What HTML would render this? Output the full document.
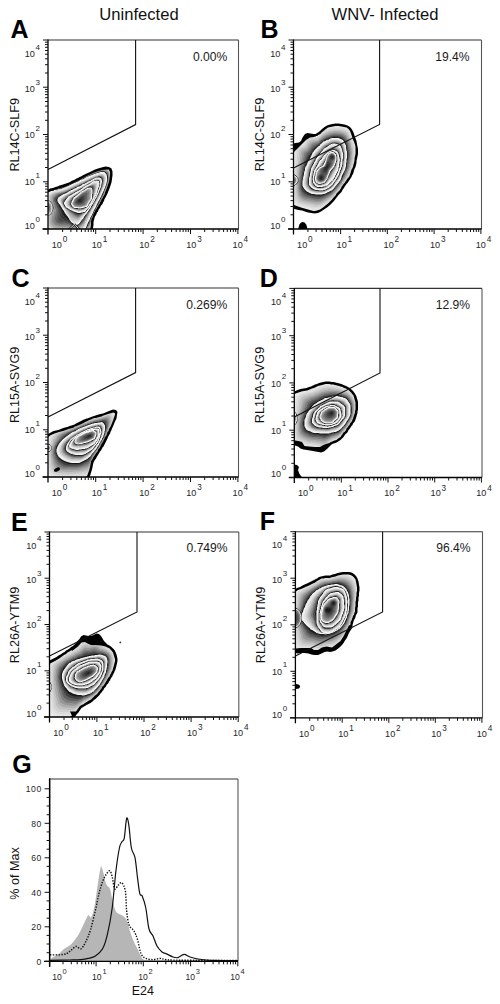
<!DOCTYPE html>
<html><head><meta charset="utf-8"><style>
html,body{margin:0;padding:0;background:#fff;}
svg{display:block;font-family:"Liberation Sans", sans-serif;}
</style></head><body>
<svg width="500" height="1004" viewBox="0 0 500 1004">
<defs>
<filter id="bl" x="-10%" y="-10%" width="120%" height="120%"><feGaussianBlur stdDeviation="1.5"/></filter>
<radialGradient id="shade"><stop offset="0" stop-color="#000" stop-opacity=".45"/><stop offset="1" stop-color="#000" stop-opacity="0"/></radialGradient>
<radialGradient id="spot"><stop offset="0" stop-color="#000" stop-opacity=".8"/><stop offset=".5" stop-color="#000" stop-opacity=".45"/><stop offset="1" stop-color="#000" stop-opacity="0"/></radialGradient>
<clipPath id="pc1"><rect x="48" y="40" width="190.5" height="189"/></clipPath>
<clipPath id="lc2"><path transform="scale(.5)" d="M207 392 209 389 210 385 212 380 214 375 216 369 218 363 219 357 220 350 220 344 219 342 218 340 217 339 204 340 198 342 191 344 186 346 180 349 176 351 172 353 168 355 164 357 161 359 158 360 155 362 152 363 150 364 147 366 145 367 142 368 140 369 139 369 137 370 137 371 134 372 131 373 128 374 125 375 121 376 117 377 113 379 108 380 108 381 102 382 98 384 96 386 95 389 95 393 95 397 95 402 95 406 95 411 95 415 95 420 95 425 95 430 95 436 95 441 95 448 95 454 96 457 99 459 104 459 111 459 117 459 123 459 128 459 133 459 138 459 142 459 146 459 151 459 155 459 159 459 163 459 167 459 171 459 176 459 178 459 180 458 181 455 182 449 182 444 182 443 183 439 183 438 184 435 185 435 186 431 187 428 188 426 190 423 191 420 193 418 194 415 196 413 197 410 199 408 200 405 202 402 203 399 205 396Z"/></clipPath>
<clipPath id="pc3"><rect x="48" y="40" width="190.5" height="189"/></clipPath>
<clipPath id="lc4"><path transform="scale(.5)" d="M104 415 104 414 104 413 104 412 103 410 103 409 102 408 102 407 101 406 100 405 99 404 98 403 97 402 96 402 96 401 95 401 94 401 94 431 95 431 96 431 96 430 97 430 98 429 99 428 100 427 101 426 102 425 102 424 103 423 103 422 104 420 104 419 104 418 104 417 104 416Z"/></clipPath>
<clipPath id="pc5"><rect x="293.5" y="40" width="188" height="189"/></clipPath>
<clipPath id="lc6"><path transform="scale(.5)" d="M709 321 709 317 710 312 711 308 711 303 711 298 711 294 710 289 708 284 706 279 704 273 702 267 700 262 697 258 693 255 688 254 683 253 677 252 671 252 666 253 661 254 656 255 652 258 647 262 643 265 643 266 639 269 638 269 634 272 633 272 632 272 632 273 630 273 628 274 620 275 612 280 604 288 596 296 588 304 587 304 587 310 587 315 587 320 587 325 587 329 587 334 587 339 587 343 587 348 587 353 587 358 587 364 587 370 587 376 587 382 587 389 587 397 587 406 588 410 602 415 616 419 627 422 629 422 634 421 640 419 646 415 651 411 656 407 660 403 664 399 667 395 671 391 673 387 676 384 679 381 681 378 683 374 685 371 687 368 689 366 691 363 693 360 695 357 697 355 699 352 700 349 701 346 702 343 703 339 705 336 706 333 707 329 708 325Z"/></clipPath>
<clipPath id="pc7"><rect x="293.5" y="40" width="188" height="189"/></clipPath>
<clipPath id="lc8"><path transform="scale(.5)" d="M594 360 594 359 594 358 594 357 593 356 593 355 592 355 592 354 591 353 590 352 589 352 588 351 587 351 586 350 585 350 585 371 586 370 587 370 588 370 589 369 590 368 591 368 591 367 592 367 592 366 593 365 594 364 594 363 594 362 594 361 595 360Z"/></clipPath>
<clipPath id="pc9"><rect x="48" y="288" width="190.5" height="189"/></clipPath>
<clipPath id="lc10"><path transform="scale(.5)" d="M215 864 217 862 218 858 220 855 222 851 224 846 226 841 228 835 230 829 230 827 227 825 216 828 213 829 207 831 203 833 199 834 195 835 192 836 189 836 186 837 184 838 182 839 179 840 177 841 175 842 173 843 170 844 169 845 167 846 165 847 163 848 161 849 158 850 156 851 154 852 151 853 148 854 148 855 145 856 141 857 137 858 132 860 126 862 118 864 109 867 100 871 96 875 95 879 95 884 95 890 95 896 95 902 95 909 95 916 95 924 95 932 95 941 95 950 97 955 100 956 171 956 175 950 179 938 182 925 182 924 182 923 185 918 187 914 189 911 191 908 193 905 195 903 196 900 197 898 199 896 200 894 201 892 202 890 203 888 204 886 205 885 206 883 207 881 208 879 209 877 210 874 212 872 213 870 214 867Z"/></clipPath>
<clipPath id="pc11"><rect x="48" y="288" width="190.5" height="189"/></clipPath>
<clipPath id="lc12"><path transform="scale(.5)" d="M101 895 101 894 100 894 100 893 100 892 99 892 99 891 98 891 97 891 97 890 96 890 95 890 95 889 94 889 94 903 95 903 95 902 96 902 97 902 97 901 98 901 99 901 99 900 100 900 100 899 100 898 101 898 101 897 101 896Z"/></clipPath>
<clipPath id="pc13"><rect x="294.3" y="288.4" width="187.7" height="189.1"/></clipPath>
<clipPath id="lc14"><path transform="scale(.5)" d="M711 819 711 815 711 812 711 808 711 805 710 802 709 798 708 795 707 791 705 789 703 786 700 783 698 781 695 779 692 777 688 776 685 774 681 773 678 772 674 771 670 770 666 769 662 769 659 768 655 768 651 768 648 769 644 770 640 771 636 772 632 774 628 776 624 777 620 779 619 779 615 781 614 781 608 782 603 783 597 785 591 787 588 790 587 793 587 798 587 804 587 810 587 815 587 821 587 826 587 831 587 837 587 842 587 848 587 854 587 860 587 866 587 873 587 879 588 881 590 881 597 882 604 884 609 892 618 893 630 894 640 894 647 890 652 888 659 886 660 885 661 885 661 884 665 883 666 882 669 881 673 880 675 878 678 876 681 874 683 871 685 868 687 865 690 863 692 860 693 857 695 855 697 852 699 850 700 847 702 845 704 842 705 839 706 837 707 834 708 831 709 828 710 825 710 822Z"/></clipPath>
<clipPath id="pc15"><rect x="294.3" y="288.4" width="187.7" height="189.1"/></clipPath>
<clipPath id="lc16"><path transform="scale(.5)" d="M593 836 593 835 593 834 593 833 592 833 592 832 592 831 591 830 591 829 591 828 590 828 590 827 589 826 588 826 588 825 587 825 587 824 587 850 587 849 588 849 588 848 589 848 590 847 590 846 591 846 591 845 591 844 592 843 592 842 592 841 593 841 593 840 593 839 593 838 593 837Z"/></clipPath>
<clipPath id="pc17"><rect x="49.5" y="532" width="189.3" height="185"/></clipPath>
<clipPath id="lc18"><path transform="scale(.5)" d="M226 1337 227 1334 228 1330 229 1326 230 1322 230 1318 229 1315 226 1305 222 1300 220 1298 219 1297 211 1293 202 1291 192 1290 182 1290 175 1287 170 1284 163 1285 156 1293 144 1302 143 1300 142 1301 139 1303 135 1305 132 1308 128 1310 124 1313 120 1316 115 1319 110 1322 104 1325 99 1328 97 1331 97 1334 97 1430 100 1435 102 1436 137 1436 144 1431 152 1423 159 1413 160 1412 165 1409 166 1409 170 1406 175 1403 178 1401 182 1399 184 1397 187 1394 190 1391 193 1389 195 1387 197 1384 199 1382 201 1379 203 1377 204 1374 206 1372 208 1370 209 1368 211 1365 212 1363 214 1360 215 1358 217 1355 219 1353 220 1350 222 1347 223 1344 225 1341Z"/></clipPath>
<clipPath id="pc19"><rect x="49.5" y="532" width="189.3" height="185"/></clipPath>
<clipPath id="lc20"><path transform="scale(.5)" d="M102 1373 102 1372 102 1371 101 1371 101 1370 101 1369 100 1368 99 1367 98 1366 97 1365 97 1383 98 1382 99 1381 100 1380 101 1379 101 1378 101 1377 102 1377 102 1376 102 1375 102 1374Z"/></clipPath>
<clipPath id="pc21"><rect x="295.4" y="531.7" width="187.1" height="186.1"/></clipPath>
<clipPath id="lc22"><path transform="scale(.5)" d="M711 1212 711 1209 711 1205 711 1204 712 1200 712 1196 713 1191 713 1186 714 1181 714 1175 713 1169 712 1164 711 1159 708 1155 705 1152 701 1150 697 1149 692 1149 686 1149 681 1150 676 1151 671 1153 666 1154 661 1155 661 1156 656 1156 651 1156 647 1157 643 1157 640 1159 636 1161 633 1163 629 1166 628 1166 624 1168 620 1170 616 1172 611 1174 607 1176 602 1178 596 1180 592 1183 590 1185 589 1189 589 1194 589 1200 589 1205 589 1210 589 1215 589 1220 589 1225 589 1230 589 1235 589 1240 589 1246 589 1252 589 1258 589 1264 589 1269 589 1295 590 1297 591 1297 602 1296 614 1296 622 1296 628 1300 636 1300 644 1295 653 1293 664 1295 672 1289 681 1282 688 1271 692 1262 698 1251 701 1249 701 1246 701 1245 702 1242 703 1241 704 1238 705 1235 706 1232 708 1229 709 1225 710 1223 710 1219 710 1216Z"/></clipPath>
<clipPath id="pc23"><rect x="295.4" y="531.7" width="187.1" height="186.1"/></clipPath>
<clipPath id="lc24"><path transform="scale(.5)" d="M602 1235 602 1234 602 1233 602 1232 601 1230 601 1229 601 1228 600 1227 600 1226 599 1225 599 1224 598 1223 597 1222 596 1221 595 1220 593 1219 592 1218 591 1218 590 1217 589 1217 589 1255 590 1255 591 1254 592 1254 593 1253 595 1252 596 1251 597 1250 598 1249 599 1248 599 1247 600 1246 600 1245 601 1244 601 1243 601 1242 602 1240 602 1239 602 1238 602 1237 602 1236Z"/></clipPath>
<clipPath id="clpG"><rect x="49.6" y="779" width="188.4" height="182.3"/></clipPath>
</defs>
<rect width="500" height="1004" fill="#fff"/>
<text x="139" y="20.1" font-size="16.6" text-anchor="middle" fill="#111">Uninfected</text>
<text x="385" y="20.2" font-size="16.6" text-anchor="middle" fill="#111">WNV- Infected</text>
<g clip-path="url(#pc1)">

<path transform="scale(.5)" d="M208 402 206 405 205 408 203 410 201 413 200 416 198 418 197 420 196 423 194 425 193 428 192 430 190 433 189 436 188 440 187 444 187 450 186 456 184 462 180 464 176 464 171 464 167 464 163 464 159 464 155 464 151 464 146 464 142 464 138 464 133 464 128 464 123 464 117 464 111 464 104 464 97 464 92 460 90 455 90 448 90 441 90 436 90 430 90 425 90 420 90 415 90 411 90 406 90 402 90 397 90 393 90 388 91 383 95 380 100 377 106 376 111 374 115 373 119 371 123 370 126 369 129 368 132 367 135 366 138 365 140 364 143 362 145 361 148 360 150 359 153 357 156 356 159 354 162 353 165 351 169 349 173 347 178 345 184 342 190 339 196 337 203 335 211 333 218 334 223 337 225 343 225 351 224 358 223 365 221 371 219 377 217 382 215 387 213 391 211 395 209 398Z" fill="#000"/>
<g clip-path="url(#lc2)"><g filter="url(#bl)" transform="scale(.5)">
<path d="M208 402 206 405 205 408 203 410 201 413 200 416 198 418 197 420 196 423 194 425 193 428 192 430 190 433 189 436 188 440 187 444 187 450 186 456 184 462 180 464 176 464 171 464 167 464 163 464 159 464 155 464 151 464 146 464 142 464 138 464 133 464 128 464 123 464 117 464 111 464 104 464 97 464 92 460 90 455 90 448 90 441 90 436 90 430 90 425 90 420 90 415 90 411 90 406 90 402 90 397 90 393 90 388 91 383 95 380 100 377 106 376 111 374 115 373 119 371 123 370 126 369 129 368 132 367 135 366 138 365 140 364 143 362 145 361 148 360 150 359 153 357 156 356 159 354 162 353 165 351 169 349 173 347 178 345 184 342 190 339 196 337 203 335 211 333 218 334 223 337 225 343 225 351 224 358 223 365 221 371 219 377 217 382 215 387 213 391 211 395 209 398Z" fill="#f0f0f0"/>
<path d="M207 402 205 405 204 408 202 410 201 413 199 415 198 418 196 420 195 422 194 425 192 427 191 430 190 433 189 436 188 439 187 443 186 449 185 455 183 460 180 463 175 463 171 464 167 464 163 464 159 464 155 464 151 464 146 464 142 464 138 464 133 464 128 464 123 464 117 464 111 464 104 464 97 464 92 460 90 455 90 448 90 441 90 436 90 430 90 425 90 420 90 415 90 411 90 406 90 402 90 397 90 393 90 388 92 384 96 380 101 378 107 376 112 375 116 373 120 372 123 371 127 369 130 368 132 367 135 366 138 365 140 364 143 363 145 362 148 360 150 359 153 358 156 356 159 355 162 353 165 352 169 350 173 348 178 345 183 343 189 340 196 338 203 336 210 334 217 335 222 338 224 344 224 352 223 359 222 365 220 372 218 377 216 382 214 387 212 391 210 395 208 398Z" fill="#ececec"/>
<path d="M206 402 204 405 203 407 201 410 200 413 198 415 197 417 196 420 194 422 193 424 192 427 191 429 189 432 188 435 187 438 186 442 185 448 184 454 182 459 179 461 175 462 171 463 167 464 163 464 159 464 155 464 151 464 146 464 142 464 138 464 133 464 128 464 123 464 117 464 111 464 104 464 97 464 92 460 90 455 90 448 90 441 90 436 90 430 90 425 90 420 90 415 90 411 90 406 90 402 90 397 90 393 90 388 92 384 96 380 102 378 108 376 113 375 117 374 121 372 124 371 127 370 130 369 133 368 136 367 138 366 141 365 143 363 145 362 148 361 150 360 153 358 156 357 159 356 162 354 165 352 169 351 173 349 178 346 183 344 189 341 195 339 202 337 210 335 216 336 221 339 223 345 223 352 222 359 220 366 219 372 217 378 215 383 213 387 211 391 209 395 207 398Z" fill="#e6e6e6"/>
<path d="M205 402 203 405 202 407 200 410 199 412 198 415 196 417 195 419 194 422 192 424 191 426 190 429 189 432 188 434 187 438 185 442 185 446 184 452 182 457 179 460 175 461 171 463 167 464 163 464 159 464 155 464 151 464 146 464 142 464 138 464 133 464 128 464 123 464 117 464 111 464 104 464 97 464 92 460 90 455 90 448 90 441 90 436 90 430 90 425 90 420 90 415 90 411 90 406 90 402 90 397 90 393 90 388 92 384 97 381 103 378 109 377 113 375 118 374 121 373 125 372 128 370 130 369 133 368 136 367 138 366 141 365 143 364 146 363 148 362 151 360 153 359 156 358 159 356 162 355 165 353 169 351 173 349 177 347 182 345 188 342 194 340 201 338 209 336 216 337 220 340 222 346 222 353 221 360 219 367 218 373 216 378 214 383 212 387 210 391 208 395 206 398Z" fill="#dcdcdc"/>
<path d="M204 402 202 404 201 407 200 410 198 412 197 415 196 417 194 419 193 421 192 424 191 426 189 428 188 431 187 434 186 437 185 441 184 445 183 451 181 455 178 459 174 460 171 462 167 463 163 464 159 464 155 464 151 464 146 464 142 464 138 464 133 464 128 464 123 464 117 464 111 464 104 464 97 464 92 460 90 455 90 448 90 441 90 436 90 430 90 425 90 420 90 415 90 411 90 406 90 402 90 397 90 393 90 388 93 384 97 381 104 379 109 377 114 376 118 375 122 373 125 372 128 371 131 370 134 369 136 368 139 367 141 366 143 365 146 363 148 362 151 361 153 360 156 358 159 357 162 356 165 354 169 352 173 350 177 348 182 346 188 343 194 341 201 339 208 337 215 338 219 341 221 347 221 354 220 361 218 367 216 373 214 379 213 383 211 388 209 392 207 395 206 399Z" fill="#d0d0d0"/>
<path d="M203 402 202 404 200 407 199 410 197 412 196 414 195 417 194 419 192 421 191 423 190 426 189 428 188 430 187 433 185 436 184 440 183 444 182 449 180 454 178 457 174 459 171 462 167 463 163 464 159 464 155 464 151 464 146 464 142 464 138 464 133 464 128 464 123 464 117 464 111 464 104 464 97 464 92 460 90 455 90 448 90 441 90 436 90 430 90 425 90 420 90 415 90 411 90 406 90 402 90 397 90 393 91 388 93 384 98 381 104 379 110 378 115 376 119 375 122 374 126 372 129 371 131 370 134 369 137 368 139 367 141 366 144 365 146 364 148 363 151 362 153 360 156 359 159 358 162 356 165 355 168 353 172 351 177 349 182 347 187 344 193 342 200 340 207 338 214 339 218 342 220 348 220 355 219 361 217 368 215 374 213 379 212 384 210 388 208 392 206 395 205 399Z" fill="#c0c0c0"/>
<path d="M202 402 201 404 199 407 198 409 197 412 195 414 194 416 193 418 192 421 191 423 189 425 188 427 187 430 186 433 185 436 184 439 183 443 182 448 180 452 177 456 174 458 171 461 167 463 163 464 159 464 155 464 151 464 146 464 142 464 138 464 133 464 128 464 123 464 117 464 111 464 104 464 97 464 92 460 90 455 90 448 90 441 90 436 90 430 90 425 90 420 90 415 90 411 90 406 90 402 90 397 90 393 91 388 93 384 99 381 105 379 111 378 116 377 120 375 123 374 126 373 129 372 132 371 134 370 137 369 139 368 142 367 144 366 146 364 149 363 151 362 153 361 156 360 159 358 162 357 165 356 168 354 172 352 176 350 181 348 187 345 193 343 199 341 206 339 213 340 217 343 219 349 219 355 218 362 216 369 214 374 212 379 211 384 209 388 207 392 205 395 204 399Z" fill="#adadad"/>
<path d="M201 402 200 404 198 407 197 409 196 412 195 414 193 416 192 418 191 420 190 422 189 425 188 427 187 429 185 432 184 435 183 438 182 442 181 447 179 451 177 454 174 457 171 460 167 463 163 464 159 464 155 464 151 464 146 464 142 464 138 464 133 464 128 464 123 464 117 464 111 464 104 464 97 464 92 460 90 455 90 448 90 441 90 436 90 430 90 425 90 420 90 415 90 411 90 406 90 402 90 397 90 393 91 388 94 384 99 381 106 380 112 378 116 377 120 376 124 375 127 373 129 372 132 371 135 370 137 369 140 368 142 367 144 366 146 365 149 364 151 363 154 362 156 360 159 359 162 358 165 356 168 355 172 353 176 351 181 349 186 346 192 344 199 342 206 340 212 341 217 344 218 349 218 356 217 363 215 369 213 375 211 380 209 384 208 389 206 392 204 396 203 399Z" fill="#969696"/>
<path d="M200 402 199 404 198 407 196 409 195 411 194 414 193 416 192 418 191 420 189 422 188 424 187 427 186 429 185 431 184 434 183 437 182 441 180 445 179 449 176 453 173 456 170 460 167 463 163 464 159 464 155 464 151 464 146 464 142 464 138 464 133 464 128 464 123 464 117 464 111 464 104 464 97 464 92 460 90 455 90 448 90 441 90 436 90 430 90 425 90 420 90 415 90 411 90 406 90 402 90 397 90 393 91 388 94 384 100 382 107 380 112 379 117 378 121 376 124 375 127 374 130 373 133 372 135 371 137 370 140 369 142 368 144 367 147 366 149 364 151 363 154 362 156 361 159 360 162 358 165 357 168 355 172 354 176 352 180 350 186 347 191 345 198 343 205 341 211 342 216 345 217 350 217 357 216 364 214 370 212 375 210 380 208 385 207 389 205 392 203 396 202 399Z" fill="#7d7d7d"/>
<path d="M199 402 198 404 197 407 196 409 194 411 193 413 192 415 191 417 190 420 189 422 188 424 187 426 186 428 184 431 183 433 182 436 181 440 180 444 178 448 176 451 173 455 170 459 167 463 163 464 159 464 155 464 151 464 146 464 142 464 138 464 133 464 128 464 123 464 117 464 111 464 104 464 97 464 92 460 90 455 90 448 90 441 90 436 90 430 90 425 90 420 90 415 90 411 90 406 90 402 90 397 90 393 91 388 95 384 101 382 107 380 113 379 118 378 122 377 125 376 128 374 130 373 133 372 135 371 138 370 140 369 142 368 145 367 147 366 149 365 151 364 154 363 156 362 159 360 162 359 165 358 168 356 171 355 175 353 180 351 185 348 191 346 197 344 204 342 211 343 215 346 216 351 216 358 215 364 213 370 211 376 209 381 207 385 206 389 204 393 202 396 201 399Z" fill="#606060"/>
<path d="M198 402 197 404 196 406 195 409 194 411 192 413 191 415 190 417 189 419 188 421 187 423 186 426 185 428 184 430 183 433 181 436 180 439 179 442 177 446 175 450 173 454 170 459 167 462 163 464 159 464 155 464 151 464 146 464 142 464 138 464 133 464 128 464 123 464 117 464 111 464 104 464 97 464 92 460 90 455 90 448 90 441 90 436 90 430 90 425 90 420 90 415 90 411 90 406 90 402 90 397 90 393 91 388 95 385 101 382 108 381 114 379 119 378 122 377 125 376 128 375 131 374 133 373 136 372 138 371 140 370 143 369 145 368 147 367 149 366 151 365 154 364 156 362 159 361 162 360 164 359 168 357 171 355 175 354 180 352 185 349 190 347 197 345 203 343 210 344 214 347 215 352 215 359 214 365 212 371 210 376 208 381 206 385 204 389 203 393 201 396 200 399Z" fill="#404040"/>
<path d="M197 402 196 404 195 406 194 409 193 411 192 413 191 415 190 417 189 419 188 421 187 423 186 425 184 427 183 430 182 432 181 435 180 438 178 441 177 445 175 449 173 453 170 458 167 462 163 464 159 464 155 464 151 464 146 464 142 464 138 464 133 464 128 464 123 464 117 464 111 464 104 464 97 464 92 460 90 455 90 448 90 441 90 436 90 430 90 425 90 420 90 415 90 411 90 406 90 402 90 397 90 393 91 388 95 385 102 382 109 381 115 380 119 379 123 378 126 377 129 375 131 374 134 373 136 372 138 371 141 370 143 369 145 368 147 367 149 366 152 365 154 364 156 363 159 362 161 361 164 359 167 358 171 356 175 355 179 353 184 350 190 348 196 346 203 344 209 345 213 348 214 353 214 359 213 366 211 372 209 377 207 382 205 386 203 390 202 393 200 396 199 399Z" fill="#1d1d1d"/>
<path d="M196 402 195 404 194 406 193 408 192 410 191 413 190 415 189 416 188 418 187 420 186 422 185 425 184 427 183 429 182 431 180 434 179 437 178 440 176 443 174 447 172 452 170 458 167 462 163 464 159 464 155 464 151 464 146 464 142 464 138 464 133 464 128 464 123 464 117 464 111 464 104 464 97 464 92 460 90 455 90 448 90 441 90 436 90 430 90 425 90 420 90 415 90 411 90 406 90 402 90 397 90 393 91 388 96 385 103 383 110 381 115 380 120 379 124 378 127 377 129 376 132 375 134 374 137 373 139 372 141 371 143 370 145 369 147 368 149 367 152 366 154 365 156 364 159 363 161 361 164 360 167 359 171 357 174 355 179 353 184 351 189 349 195 347 202 345 208 345 212 349 213 354 213 360 212 366 210 372 208 377 206 382 204 386 202 390 201 393 199 396 198 399Z" fill="#eeeeee"/>
<path d="M195 402 194 404 193 406 192 408 191 410 190 412 189 414 188 416 187 418 186 420 185 422 184 424 183 426 182 428 181 430 180 433 178 435 177 438 175 441 174 445 172 450 169 455 166 459 163 461 159 462 155 462 151 462 147 462 143 462 138 462 134 461 130 461 125 461 120 460 114 460 108 460 101 459 97 456 95 451 95 444 95 439 94 433 94 428 94 424 94 419 94 415 94 410 93 406 93 402 93 397 93 393 95 389 99 386 105 383 112 382 117 381 122 380 125 379 128 378 131 377 133 376 135 375 137 374 140 373 142 372 144 371 146 370 148 369 150 368 152 367 154 366 156 365 159 364 161 363 164 362 167 360 170 359 174 357 178 355 183 353 188 351 194 349 201 347 207 347 211 350 212 355 212 361 210 367 208 373 206 378 205 383 203 387 201 390 200 393 198 396 197 399Z" fill="#e3e3e3"/>
<path d="M194 402 193 404 192 406 191 408 190 410 189 412 188 414 187 416 186 417 185 419 184 421 183 423 182 425 181 427 180 429 179 431 177 434 176 437 175 440 173 443 171 448 169 452 166 456 163 458 159 459 155 460 151 460 147 460 143 460 139 459 135 459 131 458 127 457 122 457 117 456 111 456 106 455 102 452 100 447 100 441 99 436 99 431 99 427 98 422 98 418 98 414 97 410 97 406 96 402 96 398 97 393 99 390 103 387 108 384 114 383 119 382 123 381 127 380 129 379 132 378 134 377 136 376 138 375 140 374 142 373 144 372 146 371 148 370 150 369 152 368 154 367 156 366 159 365 161 364 164 363 167 362 170 360 173 359 177 357 182 355 187 352 193 350 200 348 206 348 209 351 211 356 210 362 209 368 207 374 205 379 203 383 202 387 200 391 198 394 197 397 196 399Z" fill="#d0d0d0"/>
<path d="M193 402 192 404 191 406 190 408 189 410 188 412 187 413 186 415 185 417 184 419 183 420 182 422 181 424 180 426 179 428 178 430 177 433 175 435 174 438 172 441 170 445 168 450 166 453 162 456 159 457 155 458 151 458 148 458 144 457 140 457 136 456 133 455 129 454 125 453 120 452 115 451 110 450 107 447 105 443 104 438 104 433 103 429 103 425 102 421 102 417 101 413 101 409 100 405 100 402 100 398 100 394 102 390 106 387 111 385 117 384 121 383 125 382 128 381 130 380 133 379 135 378 137 377 139 376 141 375 143 374 145 373 147 372 149 371 150 371 152 370 154 369 157 368 159 367 161 366 164 364 166 363 170 362 173 360 177 358 181 356 186 354 192 352 199 350 205 349 208 352 210 357 209 363 208 369 206 375 204 379 202 384 200 387 199 391 197 394 196 397 194 399Z" fill="#b8b8b8"/>
<path d="M192 402 191 404 190 406 189 408 188 409 187 411 186 413 185 415 184 416 183 418 182 420 181 421 180 423 179 425 178 427 177 429 176 431 175 434 173 436 172 439 170 443 168 447 165 450 162 453 159 455 155 456 152 457 148 456 144 455 141 454 138 453 134 452 131 450 127 449 123 448 119 447 115 446 112 443 110 439 109 435 109 431 108 427 107 423 107 419 106 416 105 412 104 409 104 405 103 402 103 398 104 394 106 391 110 388 114 386 119 385 123 384 126 383 129 382 132 381 134 380 136 379 138 378 140 377 142 376 144 375 145 374 147 374 149 373 151 372 153 371 155 370 157 369 159 368 161 367 164 366 166 365 169 363 172 362 176 360 180 358 185 356 191 353 198 351 204 351 207 353 208 358 208 364 206 370 204 375 202 380 201 384 199 388 198 391 196 394 195 397 193 399Z" fill="#9a9a9a"/>
<path d="M191 402 190 404 189 406 188 407 187 409 186 411 185 413 184 414 183 416 183 417 182 419 181 421 180 422 179 424 177 426 176 428 175 430 174 432 172 434 171 437 169 440 167 444 165 447 162 450 159 452 155 454 152 455 148 454 145 453 142 452 139 450 136 448 133 447 130 445 126 444 123 443 119 441 117 439 115 435 114 431 113 428 113 424 112 421 111 418 110 415 109 411 108 408 107 405 106 402 106 398 107 395 110 392 113 389 117 387 121 386 125 385 128 384 131 383 133 382 135 381 137 380 139 379 141 378 143 377 144 376 146 376 148 375 149 374 151 373 153 372 155 371 157 370 159 369 161 368 163 367 166 366 169 365 172 363 175 361 180 359 184 357 190 355 197 352 202 352 206 354 207 359 206 365 205 371 203 376 201 381 200 385 198 388 196 392 195 394 194 397 192 399Z" fill="#767676"/>
<path d="M190 402 189 404 188 405 187 407 186 409 185 411 184 412 183 414 182 415 182 417 181 418 180 420 179 421 178 423 177 425 175 427 174 428 173 430 172 433 170 435 169 438 167 441 164 444 162 447 159 450 155 452 152 453 149 452 146 451 143 449 140 447 137 445 135 443 132 442 129 440 127 438 124 437 122 434 120 431 119 428 118 425 117 422 116 419 115 416 114 414 113 411 112 408 111 405 109 402 109 398 110 395 113 393 116 390 120 388 124 387 127 386 130 385 132 384 134 383 136 382 138 381 140 380 142 379 143 378 145 378 147 377 148 376 150 375 151 374 153 374 155 373 157 372 159 371 161 370 163 369 166 367 168 366 171 365 175 363 179 361 184 359 189 356 196 354 201 353 205 356 206 361 205 366 204 372 202 377 200 381 198 385 197 389 195 392 194 395 193 397 191 399Z" fill="#4e4e4e"/>
<path d="M189 402 188 404 187 405 186 407 185 409 184 410 183 412 182 413 182 415 181 416 180 418 179 419 178 421 177 422 176 424 175 425 174 427 172 429 171 431 170 433 168 436 166 439 164 441 162 444 159 447 156 450 152 451 149 450 146 449 143 447 141 444 139 442 137 440 135 438 133 436 130 434 128 432 127 430 125 427 124 425 123 422 122 420 121 417 119 415 118 413 117 410 115 407 114 405 113 402 113 399 114 396 117 393 120 391 123 389 126 388 129 387 131 386 133 385 135 384 137 383 139 382 141 381 142 380 144 379 146 379 147 378 149 377 150 376 152 376 153 375 155 374 157 373 159 372 161 371 163 370 165 369 168 368 171 366 174 365 178 363 183 360 188 358 195 355 200 354 204 357 204 362 204 367 202 373 200 378 199 382 197 386 195 389 194 392 193 395 191 397 190 400Z" fill="#222222"/>
<path d="M188 402 187 403 186 405 185 407 184 408 183 410 182 411 181 413 181 414 180 416 179 417 178 418 177 420 176 421 175 423 174 424 173 426 172 427 170 429 169 431 167 433 166 436 164 438 161 442 159 445 156 448 153 449 150 448 147 446 144 444 142 442 140 439 139 436 137 434 136 432 134 430 133 428 131 426 130 424 129 422 128 420 126 418 125 416 124 414 122 411 121 409 119 407 117 404 116 402 116 399 117 396 120 394 123 392 126 390 128 389 131 388 133 387 135 386 137 385 138 384 140 383 142 382 143 381 145 381 146 380 148 379 149 378 151 378 152 377 154 376 155 375 157 374 159 374 161 373 163 372 165 370 167 369 170 368 174 366 177 364 182 362 187 359 193 356 199 356 202 358 203 363 202 368 201 373 199 378 197 383 196 386 194 390 193 392 192 395 190 397 189 400Z" fill="#eeeeee"/>
<path d="M188 402 187 403 186 405 185 407 184 408 183 410 182 411 181 413 180 414 179 415 179 417 178 418 177 419 176 421 175 422 174 424 172 425 171 427 170 428 169 430 167 432 165 434 163 437 161 439 159 443 156 445 153 446 150 445 148 444 145 442 143 439 141 437 140 435 138 432 137 430 135 428 134 427 133 425 131 423 130 421 129 419 127 417 126 415 124 413 123 411 122 409 120 407 119 404 118 402 118 399 119 396 122 394 125 393 127 391 130 389 132 388 134 387 136 386 138 385 139 384 141 384 142 383 144 382 145 381 147 381 148 380 150 379 151 379 152 378 154 377 155 376 157 375 159 375 161 374 163 373 165 371 167 370 170 369 173 367 177 365 181 363 187 360 193 357 198 356 202 359 202 363 202 369 200 374 199 379 197 383 195 387 194 390 192 393 191 395 190 398 189 400Z" fill="#e3e3e3"/>
<path d="M187 402 186 403 185 405 184 407 183 408 183 410 182 411 181 412 180 414 179 415 178 416 177 418 176 419 175 420 174 422 173 423 172 425 171 426 170 428 168 429 167 431 165 433 163 435 161 437 159 440 156 442 153 443 151 442 148 441 146 439 144 437 142 435 141 433 139 431 138 429 136 427 135 425 134 424 132 422 131 420 129 419 128 417 127 415 125 413 124 411 123 409 122 407 121 404 120 402 120 399 121 397 124 395 127 393 129 391 131 390 133 389 135 388 137 387 138 386 140 385 142 384 143 384 144 383 146 382 147 382 149 381 150 380 151 379 153 379 154 378 156 377 157 376 159 376 161 375 162 374 165 373 167 371 170 370 173 368 176 366 181 364 186 361 192 358 198 357 201 359 202 364 201 369 200 374 198 379 196 383 195 387 193 390 192 393 191 395 189 398 188 400Z" fill="#d0d0d0"/>
<path d="M187 402 186 403 185 405 184 407 183 408 182 410 181 411 180 412 180 414 179 415 178 416 177 417 176 419 175 420 174 421 173 423 172 424 171 426 169 427 168 428 166 430 165 431 163 433 161 435 159 438 156 440 154 440 151 439 149 438 147 436 145 435 143 433 142 431 140 429 139 428 137 426 136 424 135 423 133 421 132 420 130 418 129 416 128 415 126 413 125 411 124 409 123 406 122 404 122 402 122 399 124 397 126 395 128 393 130 392 132 391 134 389 136 388 138 388 139 387 141 386 142 385 144 384 145 384 146 383 148 382 149 382 150 381 152 380 153 380 154 379 156 378 157 377 159 377 160 376 162 375 164 374 167 372 169 371 172 369 176 367 180 365 185 362 191 359 197 358 200 360 201 365 200 370 199 375 197 379 196 383 194 387 193 390 192 393 190 395 189 398 188 400Z" fill="#b8b8b8"/>
<path d="M187 402 186 403 185 405 184 407 183 408 182 409 181 411 180 412 179 413 178 415 177 416 177 417 176 418 175 420 174 421 173 422 172 424 170 425 169 426 168 427 166 429 164 430 163 431 161 433 159 435 157 437 154 437 152 436 150 435 148 434 146 432 145 431 143 429 141 428 140 426 138 425 137 423 136 422 134 420 133 419 131 417 130 416 128 414 127 412 126 410 125 408 124 406 124 404 123 402 124 399 126 397 128 395 130 394 132 392 133 391 135 390 137 389 139 388 140 387 142 387 143 386 144 385 146 385 147 384 148 383 149 383 151 382 152 381 153 381 154 380 156 379 157 378 159 378 160 377 162 376 164 375 166 373 169 372 172 370 175 368 179 366 185 363 191 360 196 359 200 361 200 365 200 370 198 375 197 380 195 384 194 387 192 390 191 393 190 395 189 398 188 400Z" fill="#9a9a9a"/>
<path d="M186 402 185 403 184 405 184 407 183 408 182 409 181 411 180 412 179 413 178 414 177 416 176 417 175 418 174 419 173 421 172 422 171 423 170 424 169 425 167 426 166 427 164 428 163 430 161 431 159 433 157 434 155 434 152 433 151 432 149 431 147 430 146 428 144 427 143 426 141 425 140 424 138 422 137 421 135 420 134 418 132 417 131 415 129 414 128 412 127 410 126 408 125 406 125 404 125 402 126 399 128 398 130 396 131 394 133 393 135 392 136 391 138 390 140 389 141 388 143 387 144 387 145 386 146 385 148 385 149 384 150 383 151 383 152 382 153 382 155 381 156 380 157 379 159 379 160 378 162 377 164 376 166 374 169 373 171 371 175 369 179 367 184 364 190 361 196 360 199 361 200 366 199 371 197 376 196 380 195 384 193 387 192 390 191 393 189 395 188 398 187 400Z" fill="#767676"/>
<path d="M186 402 185 403 184 405 183 406 182 408 181 409 180 411 179 412 179 413 178 414 177 415 176 417 175 418 174 419 173 420 172 421 171 423 170 424 168 425 167 425 165 426 164 427 162 428 161 429 159 430 157 431 155 431 153 430 151 430 150 429 148 427 147 426 145 425 144 424 142 423 141 422 139 421 138 420 136 419 135 418 133 416 132 415 130 413 129 412 128 410 127 408 127 406 127 404 127 402 128 400 130 398 131 396 133 395 135 393 136 392 138 391 139 390 141 390 142 389 143 388 145 387 146 387 147 386 148 386 149 385 150 384 151 384 153 383 154 382 155 382 156 381 157 380 159 380 160 379 162 378 164 377 166 375 168 374 171 372 174 370 178 368 183 365 189 362 195 361 198 362 199 366 198 371 197 376 195 380 194 384 193 387 192 390 190 393 189 396 188 398 187 400Z" fill="#4e4e4e"/>
<path d="M186 402 185 403 184 405 183 406 182 408 181 409 180 410 179 412 178 413 177 414 176 415 176 416 175 417 174 419 173 420 172 421 171 422 169 423 168 424 167 424 165 425 164 426 162 426 160 427 159 428 157 428 155 428 154 427 152 427 151 426 149 425 148 424 146 423 145 423 143 422 142 421 140 420 139 419 137 418 136 417 134 416 133 415 131 413 130 411 129 410 128 408 128 406 128 404 129 402 130 400 132 398 133 397 135 395 136 394 137 393 139 392 140 391 142 390 143 389 144 389 145 388 146 388 148 387 149 386 150 386 151 385 152 385 153 384 154 383 155 383 156 382 157 381 159 381 160 380 162 379 164 378 166 377 168 375 170 373 174 371 178 369 183 366 189 363 194 361 198 363 198 367 197 372 196 377 195 381 194 384 192 388 191 391 190 393 189 396 188 398 187 400Z" fill="#222222"/>
<path d="M185 402 184 403 184 405 183 406 182 408 181 409 180 410 179 411 178 413 177 414 176 415 175 416 174 417 173 418 172 419 171 421 170 422 169 423 168 423 166 423 165 424 163 424 162 424 160 425 159 425 157 425 156 425 154 424 153 424 151 423 150 423 149 422 147 422 146 421 144 420 143 420 141 419 140 418 138 417 137 416 135 415 133 414 132 413 131 411 130 409 129 407 129 406 130 404 131 402 133 400 134 398 135 397 136 396 137 394 139 393 140 392 141 392 143 391 144 390 145 390 146 389 147 388 148 388 149 387 150 387 151 386 152 385 153 385 154 384 155 384 156 383 158 382 159 382 160 381 162 380 163 379 165 378 167 376 170 374 173 372 177 370 182 367 188 363 193 362 197 363 198 368 197 372 195 377 194 381 193 385 192 388 191 391 189 393 188 396 187 398 186 400Z" fill="#eeeeee"/>
<path d="M185 402 184 403 183 405 182 406 181 408 180 409 179 410 178 411 177 412 177 413 176 415 175 416 174 417 173 418 172 419 171 420 170 421 169 422 167 422 166 422 164 423 163 423 162 423 160 424 159 424 157 424 156 424 154 423 153 423 152 422 150 422 149 421 148 421 146 420 145 420 143 419 142 418 141 418 139 417 138 416 136 415 135 413 133 412 132 411 132 409 131 407 131 405 132 403 133 402 134 400 135 399 137 397 138 396 139 395 140 394 141 393 142 392 144 391 145 391 146 390 147 390 148 389 149 388 150 388 151 387 152 386 153 386 154 385 155 384 156 384 158 383 159 382 160 382 162 381 163 380 165 378 167 377 170 375 173 373 177 371 181 368 187 365 192 364 195 365 196 369 195 374 194 378 193 382 192 385 191 388 190 391 189 394 187 396 186 398 185 400Z" fill="#e3e3e3"/>
<path d="M184 402 183 403 182 405 181 406 181 407 180 409 179 410 178 411 177 412 176 413 175 414 174 415 173 416 172 417 171 418 170 419 169 420 168 421 167 421 166 421 164 422 163 422 162 422 160 423 159 423 157 423 156 423 155 422 153 422 152 421 151 421 150 420 148 420 147 419 145 419 144 418 143 418 141 417 140 416 139 415 137 414 136 413 135 412 134 410 134 408 133 407 133 405 134 403 135 402 136 400 137 399 138 397 139 396 140 395 141 394 142 393 143 393 144 392 145 391 146 391 147 390 148 390 149 389 150 389 151 388 152 387 153 387 154 386 155 386 156 385 157 385 158 384 159 383 160 382 161 381 163 380 165 379 167 378 169 376 172 374 176 372 180 369 186 367 190 366 194 367 194 371 194 375 193 379 192 383 191 386 190 389 189 391 188 394 187 396 186 398 185 400Z" fill="#d0d0d0"/>
<path d="M183 402 182 403 182 405 181 406 180 407 179 408 178 410 177 411 177 412 176 413 175 414 174 415 173 416 172 417 171 417 170 418 169 419 168 420 166 420 165 420 164 421 163 421 161 421 160 421 159 422 157 422 156 421 155 421 154 421 152 420 151 420 150 420 149 419 147 419 146 418 145 418 143 417 142 416 141 415 140 414 139 413 137 412 136 411 136 409 135 408 135 406 135 405 136 403 136 402 138 400 139 399 139 398 140 397 141 396 142 395 143 394 144 393 145 393 146 392 147 391 148 391 149 390 150 390 151 389 152 388 153 388 154 387 155 387 156 386 157 385 158 385 159 384 160 383 161 382 163 381 165 380 167 379 169 377 172 375 175 373 180 371 185 368 189 367 192 369 192 372 192 376 191 380 190 383 190 386 189 389 188 392 187 394 186 396 185 398 184 400Z" fill="#b8b8b8"/>
<path d="M183 402 182 403 181 405 180 406 179 407 179 408 178 409 177 411 176 412 175 413 175 414 174 415 172 415 171 416 170 417 169 417 168 418 167 419 166 419 165 419 164 420 162 420 161 420 160 420 159 421 158 421 156 420 155 420 154 420 153 419 152 419 150 419 149 418 148 418 147 418 145 417 144 416 143 415 142 415 141 414 140 413 139 412 138 410 137 409 137 407 137 406 137 404 137 403 138 402 139 400 140 399 141 398 142 397 142 396 143 395 144 394 145 394 146 393 147 393 148 392 149 391 150 390 151 390 152 389 153 389 153 388 154 388 155 387 156 387 157 386 158 385 159 385 160 384 161 383 163 382 164 381 166 380 169 378 171 376 175 374 179 372 183 370 187 369 190 370 191 374 190 377 190 381 189 384 188 387 188 390 187 392 186 394 185 396 184 398 184 400Z" fill="#9a9a9a"/>
<path d="M182 402 181 403 180 404 180 406 179 407 178 408 177 409 176 410 176 411 175 412 174 413 173 414 172 415 171 415 170 416 169 417 168 417 167 418 166 418 164 418 163 419 162 419 161 419 160 419 159 419 158 419 156 419 155 419 154 419 153 418 152 418 151 418 150 417 148 417 147 417 146 416 145 416 144 415 143 414 142 413 141 412 140 411 139 410 139 408 139 407 139 406 139 404 139 403 140 402 141 400 142 399 142 398 143 397 144 396 145 395 146 394 147 394 148 393 149 393 149 392 150 392 151 391 152 390 153 390 154 389 155 388 156 387 157 387 158 386 159 385 160 385 161 384 163 383 164 382 166 380 168 379 171 377 174 375 178 373 182 371 186 371 188 372 189 375 189 379 188 382 188 385 187 388 187 390 186 392 185 394 185 396 184 398 183 400Z" fill="#767676"/>
<path d="M181 402 180 403 180 404 179 406 178 407 177 408 177 409 176 410 175 411 175 412 174 413 173 414 172 414 170 415 169 415 168 416 167 416 166 417 165 417 164 417 163 418 162 418 161 418 160 418 159 418 158 418 157 418 156 418 155 417 153 417 152 417 151 417 150 417 149 416 148 416 147 416 145 415 145 414 144 413 143 412 142 411 141 410 140 409 140 408 140 407 141 405 141 404 141 403 142 402 143 401 143 400 144 399 144 398 145 397 145 396 146 395 147 395 148 394 149 393 150 393 151 392 152 391 153 391 153 390 154 390 155 389 156 388 157 388 158 387 159 386 160 385 161 385 162 384 164 382 166 381 168 380 170 378 173 377 177 374 181 373 185 372 187 374 187 377 187 380 187 383 186 386 186 388 185 391 185 393 185 395 184 397 183 398 182 400Z" fill="#4e4e4e"/>
<path d="M181 402 180 403 179 404 178 405 178 407 177 408 176 409 176 410 175 411 174 412 173 413 172 413 171 414 170 414 169 415 168 415 167 415 166 416 165 416 164 416 163 417 162 417 161 417 160 417 159 417 158 417 157 417 156 417 155 416 154 416 153 416 152 416 151 416 149 416 148 415 147 415 146 414 145 413 145 412 144 412 143 411 142 410 142 409 142 407 142 406 142 405 143 404 143 403 144 402 144 401 145 400 145 399 146 398 146 397 147 397 147 396 148 395 149 395 149 394 150 394 151 393 152 392 153 391 154 391 155 390 156 390 156 389 157 388 158 388 159 387 160 386 161 385 162 384 164 383 165 382 167 381 170 380 173 378 176 375 180 374 183 374 185 376 186 378 186 381 185 384 185 386 185 389 184 391 184 393 184 395 183 397 182 398 182 400Z" fill="#222222"/>
<path d="M180 402 179 403 178 404 178 405 177 406 176 408 176 409 175 410 175 411 174 412 173 413 172 413 171 413 169 414 168 414 167 414 166 415 165 415 164 415 163 415 162 416 161 416 160 416 159 416 158 416 157 416 156 415 155 415 154 415 153 415 152 415 151 415 150 415 149 415 148 414 147 414 146 413 146 412 145 411 144 410 144 409 143 408 143 407 144 406 144 404 145 403 145 402 146 402 146 401 146 400 147 399 147 398 148 397 148 396 149 396 149 395 150 395 151 394 152 394 152 393 153 393 153 392 154 392 155 391 156 390 157 389 158 388 159 388 160 387 161 386 162 385 163 384 165 383 167 382 169 381 172 379 175 377 179 376 182 376 183 377 184 380 184 382 184 385 184 387 183 389 183 391 183 393 183 395 183 397 182 399 181 400Z" fill="#bcbcbc"/>
<path d="M177 402 177 403 176 404 175 405 175 406 174 407 174 408 173 409 173 410 172 410 171 411 170 412 169 412 168 412 167 412 166 413 165 413 164 413 163 414 162 414 161 414 160 414 159 414 158 414 157 414 156 414 155 414 154 413 153 413 152 413 151 413 150 413 149 413 148 412 148 411 147 410 146 409 145 408 145 407 145 406 146 405 146 404 146 403 147 402 147 401 148 400 148 399 149 398 149 397 150 397 151 396 152 395 153 395 153 394 154 394 154 393 155 393 156 392 157 391 158 390 159 390 160 389 161 388 162 387 163 386 164 385 166 384 168 383 170 382 173 380 176 379 179 379 180 380 181 382 181 385 181 387 181 389 180 391 180 393 180 394 180 396 180 397 179 399 178 400Z" fill="#959595"/>
<path d="M175 402 174 403 174 404 173 404 172 405 172 406 172 407 171 408 170 409 169 410 168 411 167 411 166 411 165 411 164 411 163 412 162 412 161 412 160 412 159 412 158 412 157 412 156 412 155 412 154 412 153 412 152 411 151 411 150 411 149 410 149 409 148 409 148 408 147 407 147 406 148 405 148 404 148 403 149 402 149 401 149 400 150 400 150 399 150 398 151 398 151 397 152 397 153 396 154 395 155 395 155 394 156 394 156 393 157 393 158 392 159 391 160 391 160 390 161 389 162 388 164 388 165 387 167 386 169 385 171 383 174 382 176 382 177 383 178 385 178 387 178 389 177 391 177 392 177 394 177 395 177 397 177 398 176 399 175 401Z" fill="#7b7b7b"/>
<path d="M172 402 171 403 171 404 170 405 169 406 169 407 168 408 167 409 166 409 165 409 164 410 163 410 162 410 161 410 160 411 159 411 159 410 158 410 157 410 156 410 155 410 154 410 153 410 152 409 151 409 151 408 150 407 149 406 149 405 149 404 150 403 150 402 151 401 151 400 152 399 152 398 153 398 153 397 154 397 155 396 156 395 157 395 157 394 158 394 158 393 159 393 159 392 160 392 161 391 162 391 163 390 164 389 165 388 167 387 169 386 171 385 173 385 174 386 175 388 175 389 174 391 174 393 174 394 174 395 174 396 174 398 174 399 173 400 173 401Z" fill="#656565"/>
<path d="M169 402 169 403 168 403 168 404 168 405 167 405 167 406 166 407 165 407 165 408 164 408 163 408 162 408 161 408 161 409 160 409 159 409 158 409 157 409 157 408 156 408 155 408 154 408 153 408 153 407 152 407 152 406 151 405 151 404 152 403 152 402 152 401 153 401 153 400 153 399 154 399 154 398 155 398 156 397 157 396 158 396 158 395 159 395 159 394 160 394 160 393 161 393 162 392 163 392 164 391 165 390 167 389 169 389 170 389 171 389 171 391 171 392 171 393 171 394 171 396 171 397 171 398 171 399 170 400 170 401Z" fill="#525252"/>
<path d="M167 402 166 402 166 403 165 404 165 405 164 405 164 406 163 406 162 406 161 407 160 407 159 407 158 407 157 407 156 407 155 406 154 406 154 405 153 405 153 404 153 403 154 402 154 401 154 400 155 400 155 399 156 399 156 398 157 398 158 397 159 396 160 396 160 395 161 395 162 394 163 394 164 393 165 392 166 392 167 392 168 392 168 393 168 394 168 395 168 396 168 397 168 398 168 399 168 400 167 400 167 401Z" fill="#424242"/>
<path d="M164 402 164 403 163 403 163 404 162 404 162 405 161 405 160 405 159 405 158 405 157 405 156 405 156 404 155 404 155 403 155 402 156 401 156 400 157 400 157 399 158 399 158 398 159 398 160 397 161 397 161 396 162 396 163 395 164 395 165 396 165 397 165 398 165 399 165 400 165 401 164 401Z" fill="#333333"/>
<path d="M161 402 161 403 160 403 159 403 158 403 157 403 157 402 157 401 158 401 158 400 159 400 159 399 160 399 161 398 162 398 162 399 162 400 162 401Z" fill="#252525"/>
</g>
<ellipse cx="60" cy="221" rx="16" ry="12" fill="url(#shade)"/>
<g fill="none" stroke="#151515" stroke-width="2" transform="scale(.5)">
<path d="M198 402 197 404 196 406 195 409 193 411 192 413 191 415 190 417 189 419 188 421 187 423 186 426 185 428 184 430 183 433 181 435 180 438 178 441 177 445 175 449 173 454 170 459 167 463 163 466 159 466 155 466 150 466 146 466 142 466 137 466 132 466 127 465 122 465 116 465 110 465 103 465 96 465 91 461 89 455 89 449 89 442 89 436 88 431 88 425 88 420 88 416 88 411 88 406 88 402 88 397 88 392 90 388 94 384 101 382 108 381 114 380 119 378 122 377 126 376 128 375 131 374 133 372 136 371 138 370 140 369 142 368 145 367 147 366 149 365 151 364 154 363 156 362 159 361 162 360 164 359 168 357 171 356 175 354 179 352 184 350 190 348 196 346 203 344 209 344 213 348 215 353 214 359 213 366 211 372 209 377 207 382 206 386 204 390 202 393 201 396 199 399Z"/>
<path d="M189 402 188 404 187 405 186 407 185 409 185 410 184 412 183 413 182 415 181 416 180 418 179 419 178 421 177 422 176 424 175 425 173 427 172 429 171 431 169 433 168 435 166 437 164 440 162 443 159 447 156 450 152 451 149 450 146 448 144 446 142 443 140 440 138 438 136 435 135 433 133 431 132 429 130 427 129 424 128 422 126 420 125 418 124 416 122 414 121 412 119 409 118 407 116 404 114 402 114 399 116 396 119 394 122 392 124 390 127 388 129 387 131 386 134 385 135 384 137 383 139 382 141 381 142 380 144 379 145 379 147 378 149 377 150 376 152 375 153 375 155 374 157 373 159 372 161 371 163 370 165 369 168 368 171 366 174 365 178 363 182 361 188 358 194 355 200 354 203 357 204 362 203 367 202 373 200 378 199 382 197 386 196 389 194 392 193 395 192 397 191 400Z"/>
<path d="M187 402 186 403 185 405 184 407 183 408 182 410 181 411 180 412 179 413 178 415 177 416 176 417 175 418 174 419 173 421 172 422 171 423 170 424 168 424 167 425 165 425 164 426 162 426 160 426 159 427 157 427 156 427 154 426 152 425 151 425 149 424 148 424 146 423 145 422 143 422 142 421 140 420 139 419 137 418 136 417 134 416 132 415 131 413 129 412 129 410 128 408 128 406 128 404 130 402 131 400 132 398 134 397 135 395 136 394 137 393 139 392 140 391 141 390 143 389 144 389 145 388 146 387 147 387 148 386 149 385 150 385 152 384 153 383 154 383 155 382 156 382 157 381 159 380 160 379 162 378 164 377 166 376 168 375 171 373 174 371 178 368 183 366 189 362 194 361 198 362 199 367 198 372 197 376 196 380 195 384 193 387 192 390 191 393 190 395 189 398 188 400Z"/>
<path d="M181 402 181 403 180 404 179 406 178 407 178 408 177 409 176 410 176 411 175 413 174 413 173 414 172 415 170 415 169 415 168 416 167 416 166 416 165 416 164 417 163 417 162 417 161 417 160 417 159 417 158 417 157 417 156 417 155 417 154 417 153 417 152 416 150 416 149 416 148 416 147 415 146 415 145 414 144 413 144 412 143 411 142 410 142 409 142 407 142 406 143 405 143 404 144 403 144 402 144 401 145 400 145 399 145 398 146 397 146 396 147 396 147 395 148 394 149 394 149 393 150 393 151 392 152 391 153 391 153 390 154 390 155 389 156 388 157 388 158 387 159 386 160 386 161 385 162 384 164 383 166 382 168 380 170 379 173 378 176 375 180 374 183 375 184 376 185 379 185 381 185 384 185 386 185 389 185 391 185 393 184 395 184 397 183 398 182 400Z"/>
</g>
<g fill="none" stroke="#f6f6f6" stroke-width="2.2" transform="scale(.5)">
<path d="M196 402 195 404 194 406 193 408 192 410 191 413 190 415 189 416 188 418 187 420 186 422 185 425 184 427 183 429 182 431 180 434 179 437 178 440 176 443 174 447 172 452 170 458 167 462 163 464 159 464 155 464 151 464 146 464 142 464 138 464 133 464 128 464 123 464 117 464 111 464 104 464 97 464 92 460 90 455 90 448 90 441 90 436 90 430 90 425 90 420 90 415 90 411 90 406 90 402 90 397 90 393 91 388 96 385 103 383 110 381 115 380 120 379 124 378 127 377 129 376 132 375 134 374 137 373 139 372 141 371 143 370 145 369 147 368 149 367 152 366 154 365 156 364 159 363 161 361 164 360 167 359 171 357 174 355 179 353 184 351 189 349 195 347 202 345 208 345 212 349 213 354 213 360 212 366 210 372 208 377 206 382 204 386 202 390 201 393 199 396 198 399Z"/>
<path d="M188 402 187 403 186 405 185 407 184 408 183 410 182 411 181 413 181 414 180 416 179 417 178 418 177 420 176 421 175 423 174 424 173 426 172 427 170 429 169 431 167 433 166 436 164 438 161 442 159 445 156 448 153 449 150 448 147 446 144 444 142 442 140 439 139 436 137 434 136 432 134 430 133 428 131 426 130 424 129 422 128 420 126 418 125 416 124 414 122 411 121 409 119 407 117 404 116 402 116 399 117 396 120 394 123 392 126 390 128 389 131 388 133 387 135 386 137 385 138 384 140 383 142 382 143 381 145 381 146 380 148 379 149 378 151 378 152 377 154 376 155 375 157 374 159 374 161 373 163 372 165 370 167 369 170 368 174 366 177 364 182 362 187 359 193 356 199 356 202 358 203 363 202 368 201 373 199 378 197 383 196 386 194 390 193 392 192 395 190 397 189 400Z"/>
<path d="M185 402 184 403 184 405 183 406 182 408 181 409 180 410 179 411 178 413 177 414 176 415 175 416 174 417 173 418 172 419 171 421 170 422 169 423 168 423 166 423 165 424 163 424 162 424 160 425 159 425 157 425 156 425 154 424 153 424 151 423 150 423 149 422 147 422 146 421 144 420 143 420 141 419 140 418 138 417 137 416 135 415 133 414 132 413 131 411 130 409 129 407 129 406 130 404 131 402 133 400 134 398 135 397 136 396 137 394 139 393 140 392 141 392 143 391 144 390 145 390 146 389 147 388 148 388 149 387 150 387 151 386 152 385 153 385 154 384 155 384 156 383 158 382 159 382 160 381 162 380 163 379 165 378 167 376 170 374 173 372 177 370 182 367 188 363 193 362 197 363 198 368 197 372 195 377 194 381 193 385 192 388 191 391 189 393 188 396 187 398 186 400Z"/>
<path d="M180 402 179 403 178 404 178 405 177 406 176 408 176 409 175 410 175 411 174 412 173 413 172 413 171 413 169 414 168 414 167 414 166 415 165 415 164 415 163 415 162 416 161 416 160 416 159 416 158 416 157 416 156 415 155 415 154 415 153 415 152 415 151 415 150 415 149 415 148 414 147 414 146 413 146 412 145 411 144 410 144 409 143 408 143 407 144 406 144 404 145 403 145 402 146 402 146 401 146 400 147 399 147 398 148 397 148 396 149 396 149 395 150 395 151 394 152 394 152 393 153 393 153 392 154 392 155 391 156 390 157 389 158 388 159 388 160 387 161 386 162 385 163 384 165 383 167 382 169 381 172 379 175 377 179 376 182 376 183 377 184 380 184 382 184 385 184 387 183 389 183 391 183 393 183 395 183 397 182 399 181 400Z"/>
</g>
</g>
<path d="M74.6 224.3L68.5 229.8M74.6 224.3L79.8 229.8" fill="none" stroke="#111" stroke-width="2"/><path d="M74.6 224.3L68.5 229.8M74.6 224.3L79.8 229.8" fill="none" stroke="#f2f2f2" stroke-width="1"/>
</g>
<g clip-path="url(#pc3)">

<g clip-path="url(#lc4)"><g filter="url(#bl)" transform="scale(.5)">
<path d="M104 416 104 417 104 418 104 419 104 420 103 422 103 423 102 424 102 425 101 426 100 427 99 428 98 429 97 430 96 430 96 431 95 431 93 432 92 432 91 432 90 433 89 433 88 433 87 433 86 433 85 433 84 433 83 432 82 432 81 432 79 431 78 431 78 430 77 430 76 429 75 428 74 427 73 426 72 425 72 424 71 423 71 422 70 420 70 419 70 418 70 417 70 416 70 415 70 414 70 413 70 412 71 410 71 409 72 408 72 407 73 406 74 405 75 404 76 403 77 402 78 402 78 401 79 401 81 400 82 400 83 400 84 399 85 399 86 399 87 399 88 399 89 399 90 399 91 400 92 400 93 400 95 401 96 401 96 402 97 402 98 403 99 404 100 405 101 406 102 407 102 408 103 409 103 410 104 412 104 413 104 414 104 415Z" fill="#aaaaaa"/>
<path d="M101 416 101 417 101 418 101 419 100 420 100 421 99 422 99 423 98 424 97 425 97 426 96 426 95 427 94 428 93 428 92 429 91 429 90 429 89 429 88 430 87 430 86 430 85 429 84 429 83 429 82 429 81 428 80 428 79 427 78 426 77 426 77 425 76 424 75 423 75 422 74 421 74 420 73 419 73 418 73 417 73 416 73 415 73 414 73 413 74 412 74 411 75 410 75 409 76 408 77 407 77 406 78 406 79 405 80 404 81 404 82 403 83 403 84 403 85 403 86 402 87 402 88 402 89 403 90 403 91 403 92 403 93 404 94 404 95 405 96 406 97 406 97 407 98 408 99 409 99 410 100 411 100 412 101 413 101 414 101 415Z" fill="#7b7b7b"/>
<path d="M97 416 97 417 97 418 97 419 97 420 96 421 96 422 95 422 95 423 94 423 94 424 93 424 92 425 91 425 90 426 89 426 88 426 87 426 86 426 85 426 84 426 83 425 82 425 81 424 80 424 80 423 79 423 79 422 78 422 78 421 77 420 77 419 77 418 77 417 77 416 77 415 77 414 77 413 77 412 78 411 78 410 79 410 79 409 80 409 80 408 81 408 82 407 83 407 84 406 85 406 86 406 87 406 88 406 89 406 90 406 91 407 92 407 93 408 94 408 94 409 95 409 95 410 96 410 96 411 97 412 97 413 97 414 97 415Z" fill="#5a5a5a"/>
<path d="M94 416 94 417 94 418 93 419 93 420 92 420 92 421 91 421 91 422 90 422 89 422 89 423 88 423 87 423 86 423 85 423 85 422 84 422 83 422 83 421 82 421 82 420 81 420 81 419 80 418 80 417 80 416 80 415 80 414 81 413 81 412 82 412 82 411 83 411 83 410 84 410 85 410 85 409 86 409 87 409 88 409 89 409 89 410 90 410 91 410 91 411 92 411 92 412 93 412 93 413 94 414 94 415 94 416Z" fill="#3f3f3f"/>
<path d="M90 416 90 417 90 418 89 418 89 419 88 419 87 419 86 419 85 419 85 418 84 418 84 417 84 416 84 415 84 414 85 414 85 413 86 413 87 413 88 413 89 413 89 414 90 414 90 415 90 416Z" fill="#292929"/>
</g>
<g fill="none" stroke="#151515" stroke-width="2" transform="scale(.5)">
</g>
<g fill="none" stroke="#f6f6f6" stroke-width="2.2" transform="scale(.5)">
</g>
</g>
<path transform="scale(.5)" d="M106 416 106 417 106 418 105 420 105 421 105 422 104 423 104 424 103 425 103 426 102 427 101 428 100 429 99 430 98 431 97 431 96 432 95 433 94 433 93 433 92 434 91 434 89 434 88 434 87 434 86 434 85 434 83 434 82 434 81 433 80 433 79 433 78 432 77 431 76 431 75 430 74 429 73 428 72 427 71 426 71 425 70 424 70 423 69 422 69 421 69 420 68 418 68 417 68 416 68 415 68 414 69 412 69 411 69 410 70 409 70 408 71 407 71 406 72 405 73 404 74 403 75 402 76 401 77 401 78 400 79 399 80 399 81 399 82 398 83 398 85 398 86 398 87 398 88 398 89 398 91 398 92 398 93 399 94 399 95 399 96 400 97 401 98 401 99 402 100 403 101 404 102 405 103 406 103 407 104 408 104 409 105 410 105 411 105 412 106 414 106 415Z" fill="none" stroke="#222" stroke-width="2"/>
<path transform="scale(.5)" d="M104 416 104 417 104 418 104 419 104 420 103 422 103 423 102 424 102 425 101 426 100 427 99 428 98 429 97 430 96 430 96 431 95 431 93 432 92 432 91 432 90 433 89 433 88 433 87 433 86 433 85 433 84 433 83 432 82 432 81 432 79 431 78 431 78 430 77 430 76 429 75 428 74 427 73 426 72 425 72 424 71 423 71 422 70 420 70 419 70 418 70 417 70 416 70 415 70 414 70 413 70 412 71 410 71 409 72 408 72 407 73 406 74 405 75 404 76 403 77 402 78 402 78 401 79 401 81 400 82 400 83 400 84 399 85 399 86 399 87 399 88 399 89 399 90 399 91 400 92 400 93 400 95 401 96 401 96 402 97 402 98 403 99 404 100 405 101 406 102 407 102 408 103 409 103 410 104 412 104 413 104 414 104 415Z" fill="none" stroke="#f4f4f4" stroke-width="2"/>

</g>
<path d="M48 40L238.5 40" stroke="#333" stroke-width="1.1"/>
<path d="M238.5 40L238.5 229" stroke="#555" stroke-width="1.1"/>
<path d="M48 39.5L48 234.5" stroke="#000" stroke-width="1.3"/>
<path d="M42.5 229L238.5 229" stroke="#000" stroke-width="1.3"/>
<path d="M43 229h5M45 214.8h3M45 206.5h3M45 200.6h3M45 196h3M45 192.2h3M45 189.1h3M45 186.3h3M45 183.9h3M43 181.8h5M45 167.5h3M45 159.2h3M45 153.3h3M45 148.7h3M45 145h3M45 141.8h3M45 139.1h3M45 136.7h3M43 134.5h5M45 120.3h3M45 112h3M45 106.1h3M45 101.5h3M45 97.7h3M45 94.6h3M45 91.8h3M45 89.4h3M43 87.2h5M45 73h3M45 64.7h3M45 58.8h3M45 54.2h3M45 50.5h3M45 47.3h3M45 44.6h3M45 42.2h3M43 40h5M62.6 229v3M70.9 229v3M76.8 229v3M81.4 229v3M85.2 229v3M88.3 229v3M91.1 229v3M93.5 229v3M95.7 229v5M110 229v3M118.3 229v3M124.2 229v3M128.8 229v3M132.6 229v3M135.7 229v3M138.5 229v3M140.9 229v3M143.1 229v5M157.3 229v3M165.7 229v3M171.6 229v3M176.2 229v3M180 229v3M183.1 229v3M185.9 229v3M188.3 229v3M190.5 229v5M204.7 229v3M213.1 229v3M219 229v3M223.6 229v3M227.3 229v3M230.5 229v3M233.3 229v3M235.7 229v3M237.9 229v5" stroke="#111" stroke-width="1"/>
<text x="34.8" y="228.9" font-size="9.1" text-anchor="end" fill="#262626">10</text>
<text x="35.4" y="221.7" font-size="8.0" fill="#262626">0</text>
<text x="34.8" y="185.1" font-size="9.1" text-anchor="end" fill="#262626">10</text>
<text x="35.4" y="177.9" font-size="8.0" fill="#262626">1</text>
<text x="34.8" y="138" font-size="9.1" text-anchor="end" fill="#262626">10</text>
<text x="35.4" y="130.8" font-size="8.0" fill="#262626">2</text>
<text x="34.8" y="91.8" font-size="9.1" text-anchor="end" fill="#262626">10</text>
<text x="35.4" y="84.6" font-size="8.0" fill="#262626">3</text>
<text x="34.8" y="56.8" font-size="9.1" text-anchor="end" fill="#262626">10</text>
<text x="35.4" y="49.6" font-size="8.0" fill="#262626">4</text>
<text x="51.7" y="247.9" font-size="9.1" fill="#262626">10</text>
<text x="62.7" y="242.1" font-size="8.2" fill="#262626">0</text>
<text x="91.7" y="247.9" font-size="9.1" fill="#262626">10</text>
<text x="102.7" y="242.1" font-size="8.2" fill="#262626">1</text>
<text x="139.3" y="247.9" font-size="9.1" fill="#262626">10</text>
<text x="150.3" y="242.1" font-size="8.2" fill="#262626">2</text>
<text x="186.3" y="247.9" font-size="9.1" fill="#262626">10</text>
<text x="197.3" y="242.1" font-size="8.2" fill="#262626">3</text>
<text x="232.6" y="247.9" font-size="9.1" fill="#262626">10</text>
<text x="243.6" y="242.1" font-size="8.2" fill="#262626">4</text>
<path d="M48 169.4L135.6 124.6V40" fill="none" stroke="#111" stroke-width="1.1"/>
<text x="227.3" y="60.8" font-size="12.1" text-anchor="end" fill="#1a1a1a">0.00%</text>
<text transform="translate(19.2,134.8) rotate(-90)" font-size="12.6" text-anchor="middle" fill="#111">RL14C-SLF9</text>
<text x="10.5" y="37.5" font-size="25" fill="#000" font-weight="bold">A</text>
<g clip-path="url(#pc5)">

<path transform="scale(.5)" d="M711 334 709 338 708 341 707 345 706 348 704 351 703 354 701 357 699 360 697 363 695 366 693 368 691 371 689 374 687 377 685 380 683 384 680 387 677 390 674 394 671 398 668 402 664 406 659 411 654 415 648 419 642 423 636 426 629 427 623 426 616 425 610 423 604 421 597 420 589 418 584 414 582 406 582 397 582 389 582 382 582 376 582 370 582 364 582 358 582 353 582 348 582 343 582 339 582 334 582 329 582 325 582 320 582 315 582 310 582 304 582 298 582 292 585 288 591 286 598 285 602 282 604 277 607 272 610 268 615 266 621 267 627 268 631 268 636 265 640 262 644 258 649 254 654 251 660 249 665 248 671 247 677 247 683 248 689 249 695 251 700 254 704 259 707 265 709 271 711 277 713 282 714 288 715 293 716 298 716 303 716 308 715 313 714 318 713 322 713 326 712 330Z" fill="#000"/>
<g clip-path="url(#lc6)"><g filter="url(#bl)" transform="scale(.5)">
<path d="M711 334 709 338 708 341 707 345 706 348 704 351 703 354 701 357 699 360 697 363 695 366 693 368 691 371 689 374 687 377 685 380 683 384 680 387 677 390 674 394 671 398 668 402 664 406 659 411 654 415 648 419 642 423 636 426 629 427 623 426 616 425 610 423 604 421 597 420 589 418 584 414 582 406 582 397 582 389 582 382 582 376 582 370 582 364 582 358 582 353 582 348 582 343 582 339 582 334 582 329 582 325 582 320 582 315 582 310 582 304 582 298 582 292 585 288 591 286 598 285 602 282 604 277 607 272 610 268 615 266 621 267 627 268 631 268 636 265 640 262 644 258 649 254 654 251 660 249 665 248 671 247 677 247 683 248 689 249 695 251 700 254 704 259 707 265 709 271 711 277 713 282 714 288 715 293 716 298 716 303 716 308 715 313 714 318 713 322 713 326 712 330Z" fill="#f0f0f0"/>
<path d="M709 334 708 338 706 341 705 344 704 347 703 351 701 354 700 357 698 359 696 362 694 365 692 367 690 370 688 373 686 376 684 379 682 382 679 386 677 389 674 392 671 396 667 400 663 404 659 408 654 412 649 416 643 420 636 423 630 424 624 423 618 421 612 420 605 418 599 417 591 415 587 411 584 404 584 395 584 388 584 381 584 374 584 369 584 363 584 358 584 353 584 348 584 343 584 339 584 334 585 329 585 325 585 320 585 315 585 311 585 305 585 300 585 294 589 290 594 288 600 287 604 284 606 279 609 275 612 271 616 269 622 269 627 270 632 270 636 267 640 264 644 260 649 256 654 253 659 251 665 250 671 250 677 250 682 250 688 251 694 253 699 256 703 261 705 267 707 273 709 279 711 284 713 289 714 294 714 299 714 304 714 309 713 314 712 318 712 323 711 327 710 330Z" fill="#ececec"/>
<path d="M707 334 706 337 705 341 704 344 703 347 701 350 700 353 698 356 697 359 695 361 693 364 691 367 689 369 687 372 685 375 683 378 681 381 679 384 676 387 673 391 670 395 667 398 663 402 659 406 654 410 649 413 643 417 637 420 631 421 625 420 619 418 613 417 607 415 600 414 594 413 589 408 586 402 586 394 586 386 586 380 586 373 586 368 586 362 586 357 586 352 587 347 587 343 587 338 587 334 587 330 587 325 588 321 588 316 588 312 588 307 588 302 589 296 592 292 597 290 602 289 606 286 608 282 611 277 614 274 618 272 623 272 628 272 633 272 637 269 640 266 645 262 649 259 654 256 659 254 665 253 670 252 676 252 682 253 687 254 693 255 697 259 701 263 704 269 706 275 708 280 709 285 711 290 712 295 712 300 712 305 712 310 711 315 711 319 710 323 709 327 708 330Z" fill="#e6e6e6"/>
<path d="M705 334 704 337 703 340 702 344 701 347 700 350 699 352 697 355 695 358 694 360 692 363 690 366 688 368 687 371 685 374 683 377 680 380 678 383 675 386 673 389 670 393 666 396 663 400 659 404 654 407 649 411 643 414 638 417 632 417 626 417 620 415 615 414 609 413 602 411 596 410 591 405 589 399 588 392 588 385 588 378 588 372 588 366 588 361 589 356 589 351 589 347 589 343 589 338 590 334 590 330 590 326 590 321 591 317 591 313 591 308 592 303 592 298 595 294 600 292 605 291 608 288 610 284 612 280 615 276 620 274 624 274 629 274 633 274 637 271 641 268 645 264 649 261 654 258 659 257 664 255 670 255 675 255 681 255 686 256 692 258 696 261 700 265 702 271 704 276 706 282 708 287 709 292 710 297 710 302 710 306 710 311 709 315 709 319 708 323 707 327 706 331Z" fill="#dcdcdc"/>
<path d="M704 334 703 337 702 340 700 343 699 346 698 349 697 352 696 354 694 357 692 360 691 362 689 365 687 367 686 370 684 373 682 375 680 378 677 381 675 384 672 388 669 391 666 395 662 398 658 401 654 404 649 408 644 411 638 413 633 414 627 414 622 412 616 411 610 410 604 408 598 407 594 403 591 397 590 390 590 383 590 377 590 371 590 365 591 360 591 355 591 351 591 346 591 342 592 338 592 334 592 330 593 326 593 322 594 318 594 314 594 309 595 305 595 300 598 297 602 294 607 293 610 290 612 286 614 282 617 279 621 277 626 276 630 276 634 276 638 273 641 270 645 267 649 263 654 261 659 259 664 258 669 257 675 257 680 258 685 258 690 260 695 263 698 268 701 273 703 278 704 284 706 289 707 293 708 298 708 303 708 307 708 312 707 316 707 320 706 324 705 327 705 331Z" fill="#d0d0d0"/>
<path d="M702 334 701 337 700 340 699 343 698 346 697 349 696 351 694 354 693 356 691 359 690 361 688 364 686 366 685 369 683 372 681 374 679 377 677 380 674 383 672 386 669 389 666 393 662 396 658 399 654 402 649 405 644 408 639 410 633 411 628 410 623 409 618 408 612 407 606 405 600 404 596 400 594 394 593 388 592 382 592 376 592 370 592 364 593 359 593 355 593 350 594 346 594 342 594 338 595 334 595 330 596 326 596 322 597 319 597 315 598 311 598 306 598 302 601 299 605 296 609 295 612 292 614 288 616 285 619 282 623 280 627 279 631 279 635 278 638 275 642 272 645 269 650 266 654 264 659 262 664 261 669 260 674 260 679 260 684 261 689 262 694 265 697 270 699 275 701 280 703 285 704 290 705 295 706 299 706 304 706 308 706 312 706 317 705 320 704 324 703 327 703 331Z" fill="#c0c0c0"/>
<path d="M700 334 699 337 698 340 697 343 696 345 695 348 694 351 693 353 691 356 690 358 688 360 687 363 685 365 684 368 682 370 680 373 678 376 676 378 674 381 671 384 668 388 665 391 662 394 658 397 654 399 650 402 645 405 639 407 634 408 629 407 624 406 619 405 614 404 608 403 603 401 599 397 596 392 595 386 594 380 594 374 594 369 595 363 595 358 595 354 596 350 596 346 596 342 597 338 597 334 598 330 598 327 599 323 600 319 600 316 601 312 601 308 602 304 604 301 608 298 611 297 614 294 616 290 618 287 621 284 624 282 628 281 632 281 636 280 639 277 642 274 646 271 650 268 654 266 659 264 663 263 668 262 673 262 678 262 683 263 688 265 692 268 696 272 698 277 700 282 701 287 702 292 703 296 704 300 704 305 704 309 704 313 704 317 703 321 702 324 702 328 701 331Z" fill="#adadad"/>
<path d="M699 334 698 337 697 340 696 342 695 345 694 347 693 350 691 352 690 355 689 357 687 359 686 362 684 364 683 367 681 369 679 372 677 374 675 377 673 380 671 383 668 386 665 389 662 392 658 394 654 397 650 399 645 402 640 404 635 404 630 404 625 403 620 402 615 401 610 400 605 398 601 394 598 390 597 384 596 378 596 373 596 367 597 362 597 358 598 353 598 349 598 345 599 341 599 338 600 334 600 330 601 327 602 324 603 320 603 317 604 313 604 310 605 306 607 303 610 301 614 299 616 296 618 293 620 290 622 287 626 285 629 284 633 283 636 282 639 279 643 276 646 273 650 271 654 269 658 267 663 266 668 265 673 265 677 265 682 266 687 267 691 270 694 274 697 279 698 283 700 288 701 293 702 297 702 302 703 306 702 310 702 314 702 318 701 321 700 325 700 328 699 331Z" fill="#969696"/>
<path d="M697 334 696 337 695 339 694 342 693 344 692 347 691 349 690 352 689 354 687 356 686 359 685 361 683 363 682 366 680 368 678 371 677 373 674 376 672 378 670 381 667 384 665 387 661 390 658 392 654 394 650 397 645 399 641 401 636 401 631 401 627 400 622 399 617 398 612 397 607 395 603 392 601 387 599 382 598 377 598 372 598 366 599 361 599 357 600 352 600 348 601 345 601 341 602 337 602 334 603 331 604 327 605 324 605 321 606 318 607 315 608 311 608 308 610 305 613 303 616 301 618 298 620 295 622 292 624 289 627 287 630 286 634 285 637 284 640 281 643 278 646 276 650 273 654 271 658 270 663 268 667 267 672 267 677 267 681 268 686 269 690 272 693 276 695 280 697 285 698 290 699 295 700 299 700 303 701 307 700 311 700 315 700 318 699 322 699 325 698 328 698 331Z" fill="#7d7d7d"/>
<path d="M695 334 695 337 694 339 693 342 692 344 691 346 690 349 688 351 687 353 686 355 685 358 684 360 682 362 681 365 679 367 678 369 676 372 674 374 672 377 669 379 667 382 664 385 661 388 658 390 654 392 650 394 646 396 641 397 637 398 632 398 628 397 623 396 619 395 614 394 609 392 606 389 603 385 601 380 600 375 600 370 600 365 601 360 601 356 602 352 603 348 603 344 604 341 604 337 605 334 606 331 607 328 608 325 608 322 609 319 610 316 611 313 612 310 613 307 616 305 618 303 620 300 622 297 624 294 626 292 629 290 632 289 635 287 638 286 640 283 643 280 647 278 650 276 654 274 658 272 662 271 667 270 671 269 676 270 680 270 685 272 688 274 691 278 694 282 695 287 696 292 697 296 698 300 699 304 699 308 699 312 698 316 698 319 697 322 697 325 696 328 696 331Z" fill="#606060"/>
<path d="M694 334 693 337 692 339 691 341 690 344 689 346 688 348 687 350 686 352 685 355 684 357 683 359 681 361 680 364 679 366 677 368 675 370 673 373 671 375 669 378 667 381 664 383 661 386 658 387 654 389 650 391 646 393 642 394 638 395 634 394 629 394 625 393 620 392 616 391 612 389 608 386 605 383 603 378 602 374 602 369 602 364 603 359 604 355 604 351 605 347 605 344 606 340 607 337 607 334 608 331 609 328 610 325 611 323 612 320 613 317 614 314 615 312 617 309 618 307 621 305 622 302 624 299 626 297 628 295 630 293 633 291 636 289 638 288 641 285 644 282 647 280 650 278 654 276 658 275 662 273 666 272 671 272 675 272 679 273 684 274 687 277 690 280 692 284 694 289 695 293 695 298 696 302 697 306 697 309 697 313 696 317 696 320 695 323 695 326 694 329 694 331Z" fill="#404040"/>
<path d="M692 334 691 336 690 339 689 341 688 343 688 345 687 348 686 350 685 352 684 354 683 356 682 358 681 361 679 363 678 365 676 367 674 369 672 371 670 374 668 376 666 379 663 381 661 384 657 385 654 387 650 388 647 390 643 391 639 391 635 391 631 391 626 390 622 390 618 388 614 386 611 384 608 380 606 376 604 372 604 367 604 363 605 358 606 354 607 350 607 347 608 343 608 340 609 337 610 334 611 331 612 328 613 326 614 323 615 321 616 318 617 316 618 313 620 311 621 309 623 307 624 304 626 302 627 299 629 297 632 295 634 293 636 292 639 290 641 287 644 285 647 282 650 280 654 279 658 277 662 276 666 275 670 274 674 275 678 275 682 276 686 279 689 282 691 286 692 290 693 295 694 299 694 303 695 307 695 310 695 314 694 317 694 320 693 323 693 326 693 329 692 331Z" fill="#1d1d1d"/>
<path d="M690 334 690 336 689 339 688 341 687 343 686 345 685 347 684 349 683 351 682 353 682 355 681 357 680 360 678 362 677 364 675 366 673 368 672 370 670 372 668 375 666 377 663 380 660 381 657 383 654 384 651 386 647 387 643 388 639 388 636 388 632 388 628 387 624 387 620 385 616 383 613 381 610 378 608 375 606 371 606 366 606 362 607 357 608 353 609 349 609 346 610 343 611 340 611 337 612 334 614 331 615 329 616 326 617 324 618 322 619 320 621 318 622 315 623 313 624 311 625 309 626 306 628 304 629 302 631 300 633 298 635 296 637 294 640 292 642 289 645 287 647 284 651 283 654 281 658 280 661 278 665 277 669 277 673 277 677 277 681 279 685 281 687 284 689 288 691 292 691 297 692 301 693 304 693 308 693 312 693 315 692 318 692 321 692 324 691 327 691 329 691 332Z" fill="#eeeeee"/>
<path d="M689 334 689 336 688 338 687 341 686 343 685 345 684 347 683 349 683 350 682 353 681 355 680 357 679 359 678 361 676 363 675 365 673 367 671 369 669 371 667 374 665 376 663 379 660 380 657 382 654 383 651 385 647 386 643 387 640 387 636 387 632 387 628 386 624 386 620 384 617 382 614 380 611 377 609 373 608 369 608 365 608 361 609 356 610 352 610 349 611 346 612 342 612 339 613 337 614 334 615 331 616 329 618 327 619 325 620 322 621 320 622 318 623 316 624 314 625 312 626 310 627 307 629 305 630 303 632 301 634 299 636 297 638 295 640 293 642 291 645 288 648 286 651 284 654 283 657 281 661 280 665 279 669 278 673 278 677 279 681 280 684 282 686 285 688 289 690 293 691 297 691 301 692 305 692 309 692 312 692 315 691 319 691 321 691 324 690 327 690 329 690 332Z" fill="#e3e3e3"/>
<path d="M688 334 688 336 687 338 686 340 685 342 684 344 683 346 683 348 682 350 681 352 680 354 679 356 678 358 677 360 676 362 674 364 672 366 671 368 669 370 667 373 665 375 663 378 660 379 657 381 654 382 651 384 647 385 644 386 640 386 636 386 633 386 629 385 625 384 621 383 618 381 615 379 612 376 610 372 609 368 609 364 610 360 611 355 611 352 612 348 613 345 613 342 614 339 615 337 616 334 617 332 618 329 619 327 620 325 621 323 622 321 623 319 624 317 625 315 626 313 627 311 628 308 630 306 631 304 633 303 635 301 637 299 639 297 641 295 643 292 645 290 648 288 651 286 654 285 657 283 661 281 665 280 669 280 672 280 676 280 680 282 683 284 686 287 688 290 689 294 690 298 690 302 691 306 691 309 691 313 691 316 690 319 690 322 690 324 689 327 689 329 689 332Z" fill="#d0d0d0"/>
<path d="M687 334 686 336 686 338 685 340 684 342 683 344 683 346 682 348 681 350 680 352 679 353 678 355 677 357 676 359 675 361 673 363 672 365 670 367 669 369 667 372 665 374 662 377 660 378 657 380 654 381 651 383 647 384 644 385 640 385 637 385 633 385 629 384 626 383 622 382 619 380 616 377 614 374 612 371 611 367 611 363 611 359 612 355 613 351 614 348 614 345 615 342 615 339 616 336 617 334 618 332 619 329 620 327 621 325 622 323 623 321 624 319 625 317 626 316 627 314 628 312 630 310 631 308 632 306 634 304 636 302 637 300 639 298 641 296 643 294 646 292 648 290 651 288 654 286 657 285 661 283 664 282 668 281 672 281 676 282 679 283 682 285 685 288 687 291 688 295 689 299 689 303 690 307 690 310 690 313 690 316 689 319 689 322 689 325 688 327 688 330 688 332Z" fill="#b8b8b8"/>
<path d="M686 334 685 336 685 338 684 340 683 342 682 344 682 345 681 347 680 349 679 351 679 353 678 355 677 357 676 359 674 360 673 362 671 364 670 366 668 369 667 371 665 373 662 376 660 377 657 379 654 380 651 382 648 383 644 384 641 384 637 384 634 383 630 383 626 382 623 381 620 379 617 376 615 373 613 370 612 366 613 362 613 358 614 354 615 350 615 347 616 344 616 341 617 339 618 336 619 334 620 332 621 330 622 328 623 326 624 324 625 322 626 320 627 318 628 316 629 314 630 313 631 311 632 309 633 307 635 305 636 304 638 302 640 300 642 298 644 296 646 293 648 291 651 290 654 288 657 286 660 285 664 283 668 283 671 283 675 283 679 284 682 286 684 289 686 292 687 296 688 300 688 304 689 307 689 311 689 314 689 317 688 320 688 322 688 325 687 327 687 330 687 332Z" fill="#9a9a9a"/>
<path d="M685 334 684 336 684 338 683 340 682 342 682 343 681 345 680 347 679 349 679 351 678 352 677 354 676 356 675 358 674 360 672 362 671 363 670 365 668 368 666 370 664 372 662 375 660 376 657 378 654 379 651 381 648 382 644 383 641 383 637 383 634 382 630 382 627 381 623 380 620 378 618 375 616 372 615 369 614 365 614 361 615 357 616 353 616 350 617 347 617 344 618 341 619 339 619 336 620 334 621 332 622 330 623 328 624 326 625 324 626 322 627 321 628 319 629 317 630 315 631 314 632 312 633 310 634 308 636 307 637 305 639 303 641 302 642 300 644 297 646 295 649 293 651 291 654 290 657 288 660 286 664 285 667 284 671 284 674 285 678 286 681 287 683 290 685 294 686 297 687 301 688 305 688 308 688 311 688 315 688 317 687 320 687 323 687 325 686 328 686 330 686 332Z" fill="#767676"/>
<path d="M684 334 683 336 683 338 682 340 681 341 681 343 680 345 679 347 679 348 678 350 677 352 676 354 675 355 674 357 673 359 672 361 670 363 669 365 668 367 666 369 664 371 662 373 659 375 657 377 654 378 651 380 648 381 644 382 641 382 638 382 634 381 631 381 627 380 624 379 621 377 619 374 617 371 616 367 616 364 616 359 616 356 617 352 618 349 618 346 619 343 619 341 620 338 621 336 622 334 623 332 624 330 625 328 626 326 627 325 627 323 628 321 629 320 630 318 631 316 632 315 633 313 634 311 635 310 637 308 638 307 640 305 641 303 643 301 645 299 647 297 649 295 651 293 654 291 657 290 660 288 663 286 667 286 670 285 674 286 677 287 680 289 683 291 684 295 685 298 686 302 687 305 687 309 687 312 687 315 686 318 686 321 686 323 686 325 686 328 685 330 685 332Z" fill="#4e4e4e"/>
<path d="M683 334 682 336 682 338 681 339 680 341 680 343 679 344 679 346 678 348 677 350 677 351 676 353 675 355 674 356 672 358 671 360 670 362 669 364 667 366 666 368 664 370 662 372 659 374 657 376 654 377 651 379 648 380 645 381 641 381 638 381 635 380 631 380 628 379 625 377 622 376 620 373 618 370 617 366 617 362 618 358 618 355 619 351 619 348 620 346 620 343 621 341 622 338 623 336 624 334 625 332 625 330 626 328 627 327 628 325 629 324 630 322 630 320 631 319 632 317 633 316 634 314 635 312 636 311 638 310 639 308 640 306 642 305 643 303 645 301 647 299 649 296 651 295 654 293 657 291 660 290 663 288 667 287 670 287 673 288 677 288 679 290 682 292 683 296 684 299 685 303 686 306 686 309 686 313 686 316 685 318 685 321 685 323 685 326 685 328 684 330 684 332Z" fill="#222222"/>
<path d="M682 334 681 336 681 338 680 339 679 341 679 342 678 344 678 346 677 347 677 349 676 351 675 352 674 354 673 356 672 357 671 359 670 361 668 363 667 365 665 367 664 369 661 371 659 373 657 375 654 376 651 378 648 379 645 380 642 380 639 380 635 379 632 379 629 378 626 376 623 374 621 372 619 369 619 365 619 361 619 357 620 354 621 351 621 348 622 345 622 343 623 340 623 338 624 336 625 334 626 332 627 330 628 329 629 327 629 326 630 324 631 323 632 321 632 320 633 318 634 317 635 315 636 314 637 312 639 311 640 309 641 308 642 306 644 304 646 302 647 300 649 298 652 296 654 295 657 293 660 291 663 289 666 288 670 288 673 289 676 290 679 291 681 294 682 297 683 300 684 304 685 307 685 310 685 313 685 316 684 319 684 321 684 324 684 326 684 328 683 330 683 332Z" fill="#eeeeee"/>
<path d="M681 334 681 336 680 337 680 339 679 341 678 342 678 344 677 345 677 347 676 349 675 350 674 352 674 354 673 355 671 357 670 358 669 360 668 362 667 364 665 366 663 369 661 371 659 372 657 374 654 375 651 377 648 378 645 379 642 379 639 379 636 379 632 378 629 377 626 375 624 374 622 371 620 368 620 364 620 360 620 357 621 353 621 350 622 347 623 345 623 342 624 340 624 338 625 336 626 334 627 332 628 331 629 329 630 327 630 326 631 324 632 323 633 322 633 320 634 319 635 317 636 316 637 315 638 313 639 312 640 310 642 309 643 307 644 306 646 304 648 302 649 300 652 298 654 296 657 295 659 293 663 291 666 290 669 290 672 291 675 291 678 293 680 295 682 298 683 301 683 305 684 308 684 311 684 314 684 317 684 319 683 322 683 324 683 326 683 328 682 330 682 332Z" fill="#e3e3e3"/>
<path d="M681 334 680 336 679 337 679 339 678 341 678 342 677 344 677 345 676 347 675 348 675 350 674 351 673 353 672 355 671 356 670 358 669 360 668 362 666 364 665 366 663 368 661 370 659 371 657 373 654 375 651 376 648 377 645 378 642 378 639 378 636 378 633 377 630 376 627 375 624 373 622 370 621 367 621 363 621 360 621 356 622 353 622 350 623 347 623 344 624 342 625 340 625 338 626 336 627 334 628 332 629 331 630 329 631 328 631 326 632 325 633 324 633 322 634 321 635 319 636 318 637 317 638 315 639 314 640 313 641 311 642 310 643 308 645 307 646 305 648 303 650 301 652 299 654 298 656 296 659 295 662 293 665 292 668 292 671 292 674 293 677 294 679 296 681 299 682 302 683 305 683 309 683 312 683 314 683 317 683 320 683 322 682 324 682 326 682 328 682 330 681 332Z" fill="#d0d0d0"/>
<path d="M680 334 679 336 679 337 678 339 678 340 677 342 677 343 676 345 675 346 675 348 674 349 673 351 673 353 672 354 671 356 670 357 669 359 667 361 666 363 664 365 663 367 661 369 659 370 656 372 654 374 651 375 648 376 645 377 642 377 639 377 636 377 633 376 630 375 627 374 625 372 623 369 622 366 622 362 622 359 622 355 623 352 623 349 624 346 624 344 625 342 626 340 627 338 627 336 628 334 629 332 630 331 631 329 632 328 632 327 633 325 634 324 634 323 635 321 636 320 637 319 637 317 638 316 639 315 640 314 642 312 643 311 644 310 645 308 647 306 648 304 650 303 652 301 654 299 656 298 659 296 662 295 665 294 668 293 671 294 674 294 676 296 678 298 680 300 681 303 682 306 682 309 682 312 682 315 682 318 682 320 682 322 682 325 681 327 681 329 681 330 680 332Z" fill="#b8b8b8"/>
<path d="M679 334 679 336 678 337 678 339 677 340 677 342 676 343 676 345 675 346 674 348 674 349 673 351 672 352 671 354 670 355 669 357 668 359 667 360 666 362 664 364 663 366 661 368 659 369 656 371 654 373 651 374 649 376 646 376 643 376 640 377 636 376 633 376 631 374 628 373 626 371 624 368 623 365 623 362 623 358 623 354 624 351 624 349 625 346 625 344 626 341 627 339 628 337 629 336 629 334 630 332 631 331 632 330 633 328 633 327 634 326 635 324 635 323 636 322 637 321 637 319 638 318 639 317 640 316 641 315 642 313 643 312 644 311 646 309 647 308 648 306 650 304 652 302 654 301 656 299 659 298 661 296 664 295 667 295 670 295 673 296 675 297 677 299 679 302 680 304 681 307 681 310 682 313 682 316 682 318 681 320 681 323 681 325 681 327 680 329 680 331 680 332Z" fill="#9a9a9a"/>
<path d="M678 334 678 336 678 337 677 339 677 340 676 342 676 343 675 344 674 346 674 347 673 349 672 350 672 352 671 353 670 355 669 356 668 358 667 360 665 362 664 363 662 365 661 367 659 369 656 370 654 372 651 374 649 375 646 375 643 375 640 376 637 376 634 375 631 374 629 372 626 370 625 367 624 364 624 361 624 357 624 354 625 351 625 348 626 346 626 343 627 341 628 339 629 337 630 336 631 334 631 333 632 331 633 330 634 329 634 327 635 326 636 325 636 324 637 323 637 321 638 320 639 319 640 318 641 317 642 316 643 315 644 313 645 312 646 310 647 309 649 307 650 305 652 304 654 302 656 301 659 299 661 298 664 297 667 296 669 297 672 298 674 299 676 300 678 303 679 305 680 308 680 311 681 314 681 316 681 319 681 321 680 323 680 325 680 327 680 329 679 331 679 332Z" fill="#767676"/>
<path d="M678 334 677 336 677 337 677 339 676 340 676 341 675 343 674 344 674 345 673 347 672 348 672 350 671 351 670 353 669 354 668 356 668 357 666 359 665 361 664 363 662 364 660 366 658 368 656 370 654 371 651 373 649 374 646 374 643 375 640 375 637 375 634 374 632 373 629 371 627 369 626 366 625 363 625 360 625 356 625 353 626 350 626 348 627 345 627 343 628 341 629 339 630 337 631 336 632 334 632 333 633 331 634 330 635 329 635 328 636 326 636 325 637 324 638 323 638 322 639 321 640 320 641 319 642 318 642 317 643 316 644 314 645 313 646 312 648 310 649 309 650 307 652 305 654 304 656 302 658 301 661 300 663 299 666 298 669 298 671 299 674 300 676 302 677 304 678 306 679 309 679 312 680 314 680 317 680 319 680 321 680 323 679 325 679 327 679 329 679 331 678 332Z" fill="#4e4e4e"/>
<path d="M677 334 677 335 677 337 676 338 676 340 675 341 674 342 674 344 673 345 673 346 672 348 671 349 671 351 670 352 669 354 668 355 667 357 666 359 665 360 663 362 662 363 660 365 658 367 656 369 654 371 652 372 649 373 646 373 643 374 640 374 637 374 635 373 632 372 630 370 628 368 626 365 626 362 626 359 626 356 626 352 627 350 627 347 628 345 628 343 629 341 630 339 631 337 632 335 633 334 634 333 634 331 635 330 636 329 636 328 637 327 637 326 638 325 639 324 639 323 640 322 641 321 641 320 642 319 643 318 644 317 645 315 646 314 647 313 648 312 649 310 651 308 652 307 654 305 656 304 658 303 660 302 663 300 666 300 668 300 670 301 673 302 675 303 676 305 677 307 678 310 678 313 679 315 679 317 679 319 679 322 679 324 679 326 678 327 678 329 678 331 677 332Z" fill="#222222"/>
<path d="M676 334 676 335 676 337 676 338 675 340 675 341 674 342 673 344 673 345 672 346 671 347 671 349 670 350 669 351 669 353 668 355 667 356 666 358 665 360 663 361 662 362 660 364 658 366 656 368 654 370 652 371 649 372 646 372 644 373 641 373 638 373 635 373 632 371 630 369 629 367 627 365 627 361 626 358 627 355 627 352 628 349 628 347 629 344 629 342 630 340 631 339 632 337 633 335 634 334 635 333 635 332 636 330 637 329 637 328 638 327 638 326 639 325 639 324 640 323 641 322 641 321 642 321 643 320 644 319 645 318 645 317 646 315 647 314 648 313 649 311 651 310 652 308 654 307 656 305 658 304 660 303 663 302 665 301 668 301 670 302 672 303 674 304 675 306 676 308 677 311 677 313 678 316 678 318 679 320 678 322 678 324 678 326 677 328 677 329 677 331 677 333Z" fill="#eeeeee"/>
<path d="M675 334 675 335 675 337 674 338 674 339 673 341 673 342 672 343 671 344 671 345 670 346 670 348 669 349 668 350 667 352 667 353 666 355 665 356 664 358 663 359 661 361 660 362 658 364 656 366 654 368 652 370 649 371 647 371 644 372 641 373 638 373 635 372 633 371 631 369 629 367 628 364 627 361 627 358 628 354 628 351 628 349 629 346 629 344 630 342 631 340 632 338 633 337 634 335 635 334 636 333 637 332 637 331 638 330 638 329 639 328 639 327 640 326 641 325 641 324 642 323 642 322 643 321 644 321 644 320 645 319 646 318 647 317 648 315 649 314 650 313 651 311 652 309 654 307 656 306 658 305 660 304 662 302 665 302 667 302 669 303 671 304 673 305 675 307 676 309 676 312 677 314 677 316 678 318 678 320 677 322 677 324 677 326 676 328 676 330 676 331 675 333Z" fill="#e3e3e3"/>
<path d="M674 334 674 335 673 337 673 338 672 339 672 340 671 341 671 342 670 343 669 344 669 345 668 347 668 348 667 349 666 350 666 352 665 353 664 354 663 356 662 357 661 359 659 360 658 362 656 364 654 366 652 368 649 370 647 370 644 371 641 372 638 372 636 371 633 370 631 368 629 366 628 363 628 360 628 357 628 354 629 351 629 348 630 346 630 344 631 342 632 340 633 338 634 337 635 335 636 334 637 333 638 332 639 331 639 330 640 329 640 328 641 327 642 326 642 325 643 324 643 323 644 322 645 321 646 320 647 319 647 318 648 317 649 315 650 314 651 312 652 310 654 308 656 307 658 305 660 304 662 303 665 302 667 302 669 303 671 304 673 306 674 307 675 310 676 312 676 315 676 317 677 319 677 321 676 323 676 325 676 327 675 328 675 330 675 331 674 333Z" fill="#d0d0d0"/>
<path d="M673 334 672 335 672 336 671 337 671 339 670 340 670 341 669 342 669 343 668 344 667 345 667 347 666 348 665 349 665 350 664 351 663 353 662 354 661 355 660 357 659 358 657 360 656 363 654 365 652 367 649 368 647 370 644 370 642 371 639 371 636 370 634 369 632 368 630 365 629 363 628 360 628 357 629 353 629 351 630 348 630 346 631 344 632 342 633 340 634 338 635 337 636 335 637 334 638 333 639 332 640 331 640 330 641 330 641 329 642 328 642 327 643 326 644 325 644 324 645 323 646 322 646 321 647 320 648 319 649 318 649 317 650 315 651 314 653 311 654 309 656 307 658 306 660 304 662 303 665 303 667 303 669 304 671 305 673 306 674 308 675 310 675 313 675 315 676 317 676 319 676 322 675 323 675 325 674 327 674 329 674 330 673 331 673 333Z" fill="#b8b8b8"/>
<path d="M671 334 671 335 671 336 670 337 670 338 669 339 669 340 668 341 667 342 667 343 666 344 665 345 665 346 664 347 664 348 663 350 662 351 662 352 661 354 660 355 658 357 657 359 656 361 654 363 652 366 650 367 647 369 645 369 642 370 639 370 636 370 634 369 632 367 630 365 629 362 629 359 629 356 629 353 630 350 630 348 631 345 632 343 632 341 633 340 634 338 636 336 637 335 638 334 639 333 640 332 641 331 642 331 642 330 643 329 643 328 644 327 644 326 645 326 645 325 646 324 647 323 647 322 648 321 648 320 649 319 650 318 651 317 651 315 653 313 654 310 656 308 658 306 660 305 662 303 665 303 667 303 669 304 671 305 672 307 673 309 674 311 674 314 675 316 675 318 675 320 675 322 674 324 674 326 673 327 673 329 673 330 672 332 672 333Z" fill="#9a9a9a"/>
<path d="M670 334 670 335 669 336 669 337 668 338 668 339 667 339 667 340 666 341 666 342 665 343 664 344 664 345 663 346 663 347 662 348 661 349 661 350 660 352 659 353 658 355 657 357 656 359 654 362 652 364 650 366 647 368 645 368 642 369 639 369 637 369 634 368 632 366 631 364 630 362 629 359 629 356 630 353 630 350 631 347 631 345 632 343 633 341 634 339 635 338 636 336 638 335 639 334 641 333 642 332 643 331 643 330 644 330 644 329 644 328 645 328 645 327 646 327 646 326 646 325 647 325 647 324 648 323 648 322 649 322 649 321 650 319 651 318 652 316 653 314 654 311 656 308 658 306 660 305 662 304 664 303 666 304 668 305 670 306 672 307 673 309 673 312 674 314 674 316 674 318 674 321 674 323 673 325 673 326 672 328 672 329 672 331 671 332 671 333Z" fill="#767676"/>
<path d="M669 334 668 335 668 336 667 337 666 338 666 339 665 340 664 341 664 342 663 343 663 344 662 345 661 346 661 347 660 349 659 350 659 351 658 353 657 355 656 357 654 360 652 363 650 365 647 367 645 368 642 368 640 369 637 368 635 367 633 366 631 364 630 361 630 358 630 355 630 352 631 350 631 347 632 345 633 343 634 341 635 339 636 338 637 336 639 335 640 334 642 333 643 333 644 332 644 331 645 331 645 330 646 329 646 328 647 327 647 326 648 326 648 325 648 324 649 324 649 323 650 322 650 321 651 319 652 317 653 315 654 312 656 309 658 307 660 305 662 304 664 304 666 304 668 305 670 306 671 308 672 310 673 313 673 315 673 317 673 319 673 321 673 323 672 325 672 327 671 328 671 330 670 331 670 332 669 333Z" fill="#4e4e4e"/>
<path d="M668 334 667 335 666 336 665 337 665 338 664 338 664 339 664 340 663 340 663 341 662 341 662 342 661 342 661 343 661 344 660 345 660 346 659 347 659 348 658 349 657 351 657 353 655 355 654 358 652 362 650 364 648 366 645 367 643 367 640 368 637 368 635 367 633 365 632 363 631 360 631 357 631 355 631 352 631 349 632 347 633 345 634 342 635 341 636 339 637 337 638 336 640 335 641 334 643 333 644 333 645 332 646 332 646 331 646 330 647 330 647 329 647 328 648 328 648 327 649 326 649 325 650 324 650 323 651 322 651 321 652 319 653 316 654 312 656 310 658 307 660 306 662 305 664 304 666 305 668 306 670 307 671 309 672 311 672 313 673 315 673 317 673 320 672 322 672 324 671 326 671 327 670 329 670 330 669 331 669 332 668 333Z" fill="#222222"/>
<path d="M666 334 666 335 665 335 665 336 664 337 663 338 662 339 661 340 661 341 660 341 660 342 659 343 659 344 659 345 658 346 658 347 657 349 656 351 655 354 654 357 652 360 650 363 648 365 645 366 643 366 640 367 638 367 636 366 634 365 632 363 631 360 631 357 631 354 632 351 632 349 632 347 633 344 634 342 636 340 637 339 638 337 639 336 641 335 643 334 644 333 645 333 646 332 647 332 647 331 648 331 648 330 648 329 649 329 649 328 649 327 650 327 650 326 650 325 651 324 651 323 652 322 652 320 653 317 654 313 656 310 657 308 660 306 662 305 664 305 666 305 668 306 669 308 671 309 671 311 672 314 672 316 672 318 672 320 671 322 671 324 670 326 669 328 669 329 668 330 668 331 668 332 667 333Z" fill="#bcbcbc"/>
<path d="M665 334 664 335 663 336 662 337 662 338 661 338 661 339 660 339 660 340 659 341 659 342 658 343 658 344 658 345 657 346 657 347 656 349 655 351 654 354 652 357 651 359 649 361 647 362 644 362 642 363 640 363 638 362 636 361 635 359 634 357 634 354 634 351 634 349 635 347 635 345 636 343 637 341 638 339 639 338 640 337 641 336 642 335 644 334 645 333 647 333 648 332 648 331 649 331 649 330 649 329 650 329 650 328 650 327 651 327 651 326 652 325 652 324 652 322 653 319 654 316 655 313 657 311 659 310 661 309 663 308 664 309 666 310 667 311 668 312 669 314 669 316 670 318 670 320 670 322 669 324 669 326 668 327 668 328 667 330 667 331 666 332 665 333Z" fill="#959595"/>
<path d="M663 334 663 335 662 335 662 336 661 336 661 337 660 338 659 339 658 340 658 341 657 342 657 343 657 344 656 345 656 347 655 349 654 351 653 354 651 356 649 357 648 358 646 358 644 359 642 359 640 358 639 357 638 355 637 353 637 351 637 349 637 347 637 345 638 343 638 342 639 340 640 339 641 337 642 336 643 335 644 335 645 334 647 334 648 333 649 333 649 332 649 331 650 331 650 330 650 329 651 329 651 328 651 327 652 327 652 326 652 325 653 324 653 321 654 318 655 316 657 314 658 313 660 312 661 312 663 313 664 313 665 314 666 315 667 317 667 319 667 321 668 322 667 324 667 325 667 327 666 328 666 329 665 330 665 331 665 332 664 333Z" fill="#7b7b7b"/>
<path d="M662 334 661 334 661 335 660 336 659 337 659 338 658 338 658 339 657 339 657 340 657 341 657 342 656 342 656 343 655 345 655 346 654 348 653 350 652 352 650 353 649 354 647 354 645 355 644 354 642 354 641 353 640 352 640 350 640 348 640 346 640 345 640 343 640 342 641 340 642 339 643 338 643 337 644 336 645 335 646 335 647 334 648 334 649 333 650 333 650 332 650 331 651 331 651 330 651 329 652 329 652 328 652 327 653 327 653 325 653 323 654 321 655 319 656 318 657 317 659 316 660 316 661 316 662 317 664 317 664 319 665 320 665 321 665 323 665 324 665 325 665 327 664 328 664 329 664 330 663 331 663 332 662 333Z" fill="#656565"/>
<path d="M660 334 660 335 659 335 659 336 658 336 658 337 657 337 657 338 657 339 656 339 656 340 656 341 656 342 655 343 655 344 654 345 653 347 652 349 651 350 650 350 648 350 647 350 646 350 645 350 644 349 643 348 643 347 643 345 643 344 643 343 643 341 643 340 644 339 644 338 645 337 645 336 646 336 646 335 647 334 648 334 649 334 650 333 651 333 651 332 651 331 652 331 652 330 652 329 653 329 653 328 653 327 653 326 654 324 655 322 656 321 657 320 658 319 659 319 660 320 661 320 662 321 662 322 663 323 663 324 663 325 663 326 663 327 663 328 662 329 662 330 662 331 661 331 661 332 661 333 660 334Z" fill="#525252"/>
<path d="M659 334 658 334 658 335 657 335 657 336 657 337 656 337 656 338 656 339 655 339 655 340 654 341 654 342 653 344 653 345 652 346 651 346 650 346 649 346 648 346 647 346 646 345 645 344 645 343 645 341 646 340 646 339 646 338 647 337 647 336 648 336 648 335 649 334 650 334 651 334 651 333 652 333 652 332 652 331 653 331 653 330 653 329 654 328 654 326 655 325 655 324 656 324 657 323 658 323 659 324 660 324 660 325 660 326 661 326 661 327 661 328 661 329 661 330 660 330 660 331 660 332 659 333 659 334Z" fill="#424242"/>
<path d="M657 334 657 335 656 335 656 336 655 336 655 337 655 338 654 339 654 340 654 341 653 341 652 342 651 342 650 342 649 342 649 341 648 340 648 339 648 338 649 337 649 336 650 335 650 334 651 334 652 334 652 333 653 333 653 332 653 331 654 331 654 330 654 329 654 328 655 327 656 327 657 327 658 327 658 328 658 329 658 330 659 330 658 331 658 332 658 333 657 334Z" fill="#333333"/>
<path d="M656 334 655 334 655 335 655 336 654 336 654 337 654 338 653 338 652 338 651 338 651 337 651 336 651 335 652 335 652 334 653 334 653 333 654 333 654 332 654 331 655 331 655 330 656 331 656 332 656 333 656 334Z" fill="#252525"/>
</g>
<ellipse cx="332.2" cy="156.8" rx="4.5" ry="4.5" fill="url(#spot)"/>
<ellipse cx="321" cy="178.2" rx="5" ry="5" fill="url(#spot)"/>
<g fill="none" stroke="#151515" stroke-width="2" transform="scale(.5)">
<path d="M692 334 691 336 690 339 689 341 688 343 687 345 686 347 686 350 685 352 684 354 683 356 682 358 681 361 679 363 678 365 676 367 674 369 672 371 670 374 668 376 666 379 663 381 660 383 657 384 654 386 651 387 647 389 643 389 639 390 635 389 631 389 627 389 623 388 619 387 615 384 612 382 609 379 607 376 605 372 605 367 605 362 606 358 607 354 607 350 608 346 609 343 609 340 610 337 611 334 612 331 613 329 615 326 616 324 617 321 618 319 619 317 620 315 622 312 623 310 624 308 625 305 627 303 628 301 630 299 632 297 635 295 637 292 639 290 642 288 644 285 647 283 651 281 654 280 658 278 662 277 666 276 670 275 674 276 678 276 682 277 685 280 688 283 690 287 692 291 692 296 693 300 694 304 694 307 694 311 694 314 694 318 693 321 693 324 693 326 692 329 692 332Z"/>
<path d="M683 334 683 336 682 338 682 339 681 341 680 343 680 345 679 346 678 348 678 350 677 352 676 353 675 355 674 357 673 358 672 360 670 362 669 364 667 366 666 369 664 371 662 373 659 375 657 376 654 378 651 379 648 381 645 381 641 381 638 381 635 381 631 380 628 379 625 378 622 376 620 373 618 370 618 366 617 362 618 358 619 354 619 351 620 348 620 345 621 343 621 341 622 338 623 336 624 334 625 332 625 330 626 328 627 327 628 325 629 324 630 322 630 320 631 319 632 317 633 316 634 314 635 313 636 311 638 310 639 308 640 306 642 305 643 303 645 301 647 299 649 297 651 295 654 293 657 292 660 290 663 288 667 287 670 287 673 288 677 288 679 290 682 292 683 296 684 299 685 303 686 306 686 309 686 313 686 316 686 318 686 321 685 323 685 326 685 328 685 330 684 332Z"/>
<path d="M678 334 678 336 677 337 677 339 677 340 676 341 675 343 675 344 674 346 673 347 673 348 672 350 671 351 670 353 669 354 669 356 668 358 666 359 665 361 664 362 662 364 660 366 658 367 656 369 654 371 651 372 649 373 646 374 643 374 640 375 637 375 634 374 632 373 629 371 628 368 626 366 626 362 625 359 626 356 626 353 627 350 627 347 627 345 628 343 629 341 630 339 631 337 632 335 632 334 633 333 634 331 634 330 635 329 636 328 636 327 637 326 638 325 638 323 639 322 640 321 640 320 641 319 642 318 643 317 644 316 645 315 646 314 647 313 648 311 649 310 651 308 652 307 654 305 656 304 658 303 660 302 663 301 666 300 668 300 670 301 673 302 675 303 676 305 677 307 678 310 679 312 679 315 680 317 680 319 680 321 680 323 679 325 679 327 679 329 678 331 678 332Z"/>
<path d="M668 334 667 335 667 336 666 336 665 337 665 338 664 339 664 340 663 340 663 341 662 341 662 342 661 342 661 343 660 344 660 345 659 346 659 348 658 349 657 351 656 353 655 355 654 358 652 362 650 365 648 367 645 367 642 368 640 368 637 368 635 367 633 366 631 364 630 361 630 358 630 355 630 352 631 350 631 347 632 345 633 343 634 341 635 339 636 338 637 336 639 335 641 334 643 333 644 333 645 332 646 331 646 330 647 329 647 328 648 328 648 327 648 326 649 326 649 325 650 324 650 323 651 322 651 321 652 319 653 316 654 312 656 309 658 306 660 305 662 303 664 303 666 304 668 305 670 306 671 308 672 310 673 313 673 315 673 317 673 319 673 321 672 324 671 325 671 327 670 328 670 330 670 331 669 332 668 333Z"/>
</g>
<g fill="none" stroke="#f6f6f6" stroke-width="2.2" transform="scale(.5)">
<path d="M690 334 690 336 689 339 688 341 687 343 686 345 685 347 684 349 683 351 682 353 682 355 681 357 680 360 678 362 677 364 675 366 673 368 672 370 670 372 668 375 666 377 663 380 660 381 657 383 654 384 651 386 647 387 643 388 639 388 636 388 632 388 628 387 624 387 620 385 616 383 613 381 610 378 608 375 606 371 606 366 606 362 607 357 608 353 609 349 609 346 610 343 611 340 611 337 612 334 614 331 615 329 616 326 617 324 618 322 619 320 621 318 622 315 623 313 624 311 625 309 626 306 628 304 629 302 631 300 633 298 635 296 637 294 640 292 642 289 645 287 647 284 651 283 654 281 658 280 661 278 665 277 669 277 673 277 677 277 681 279 685 281 687 284 689 288 691 292 691 297 692 301 693 304 693 308 693 312 693 315 692 318 692 321 692 324 691 327 691 329 691 332Z"/>
<path d="M682 334 681 336 681 338 680 339 679 341 679 342 678 344 678 346 677 347 677 349 676 351 675 352 674 354 673 356 672 357 671 359 670 361 668 363 667 365 665 367 664 369 661 371 659 373 657 375 654 376 651 378 648 379 645 380 642 380 639 380 635 379 632 379 629 378 626 376 623 374 621 372 619 369 619 365 619 361 619 357 620 354 621 351 621 348 622 345 622 343 623 340 623 338 624 336 625 334 626 332 627 330 628 329 629 327 629 326 630 324 631 323 632 321 632 320 633 318 634 317 635 315 636 314 637 312 639 311 640 309 641 308 642 306 644 304 646 302 647 300 649 298 652 296 654 295 657 293 660 291 663 289 666 288 670 288 673 289 676 290 679 291 681 294 682 297 683 300 684 304 685 307 685 310 685 313 685 316 684 319 684 321 684 324 684 326 684 328 683 330 683 332Z"/>
<path d="M676 334 676 335 676 337 676 338 675 340 675 341 674 342 673 344 673 345 672 346 671 347 671 349 670 350 669 351 669 353 668 355 667 356 666 358 665 360 663 361 662 362 660 364 658 366 656 368 654 370 652 371 649 372 646 372 644 373 641 373 638 373 635 373 632 371 630 369 629 367 627 365 627 361 626 358 627 355 627 352 628 349 628 347 629 344 629 342 630 340 631 339 632 337 633 335 634 334 635 333 635 332 636 330 637 329 637 328 638 327 638 326 639 325 639 324 640 323 641 322 641 321 642 321 643 320 644 319 645 318 645 317 646 315 647 314 648 313 649 311 651 310 652 308 654 307 656 305 658 304 660 303 663 302 665 301 668 301 670 302 672 303 674 304 675 306 676 308 677 311 677 313 678 316 678 318 679 320 678 322 678 324 678 326 677 328 677 329 677 331 677 333Z"/>
<path d="M666 334 666 335 665 335 665 336 664 337 663 338 662 339 661 340 661 341 660 341 660 342 659 343 659 344 659 345 658 346 658 347 657 349 656 351 655 354 654 357 652 360 650 363 648 365 645 366 643 366 640 367 638 367 636 366 634 365 632 363 631 360 631 357 631 354 632 351 632 349 632 347 633 344 634 342 636 340 637 339 638 337 639 336 641 335 643 334 644 333 645 333 646 332 647 332 647 331 648 331 648 330 648 329 649 329 649 328 649 327 650 327 650 326 650 325 651 324 651 323 652 322 652 320 653 317 654 313 656 310 657 308 660 306 662 305 664 305 666 305 668 306 669 308 671 309 671 311 672 314 672 316 672 318 672 320 671 322 671 324 670 326 669 328 669 329 668 330 668 331 668 332 667 333Z"/>
</g>
</g>
<ellipse cx="302.8" cy="229.5" rx="4.5" ry="7.5" fill="#000"/>
</g>
<g clip-path="url(#pc7)">

<g clip-path="url(#lc8)"><g filter="url(#bl)" transform="scale(.5)">
<path d="M595 360 594 361 594 362 594 363 594 364 593 365 592 366 592 367 591 367 591 368 590 368 589 369 588 370 587 370 586 370 585 371 584 371 583 371 582 371 581 371 580 371 579 371 578 371 577 371 576 370 575 370 574 370 573 369 572 368 571 368 571 367 570 367 570 366 569 365 568 364 568 363 568 362 568 361 567 360 568 360 568 359 568 358 568 357 569 356 569 355 570 355 570 354 571 353 572 352 573 352 574 351 575 351 576 350 577 350 578 350 579 350 580 350 581 350 582 350 583 350 584 350 585 350 586 350 587 351 588 351 589 352 590 352 591 353 592 354 592 355 593 355 593 356 594 357 594 358 594 359 594 360Z" fill="#aaaaaa"/>
<path d="M592 360 592 361 592 362 591 362 591 363 591 364 590 365 589 366 588 367 587 367 587 368 586 368 585 368 584 369 583 369 582 369 581 369 580 369 579 369 578 369 577 368 576 368 575 368 575 367 574 367 573 366 572 365 571 364 571 363 571 362 570 362 570 361 570 360 570 359 571 358 571 357 571 356 572 356 572 355 573 355 573 354 574 354 575 353 576 353 577 352 578 352 579 352 580 352 581 352 582 352 583 352 584 352 585 352 586 353 587 353 588 354 589 354 589 355 590 355 590 356 591 356 591 357 591 358 592 359 592 360Z" fill="#7b7b7b"/>
<path d="M589 360 589 361 589 362 588 363 588 364 587 365 586 365 586 366 585 366 584 366 584 367 583 367 582 367 581 367 580 367 579 367 578 367 578 366 577 366 576 366 576 365 575 365 574 364 574 363 573 362 573 361 573 360 573 359 573 358 574 358 574 357 575 356 576 356 576 355 577 355 578 355 578 354 579 354 580 354 581 354 582 354 583 354 584 354 584 355 585 355 586 355 586 356 587 356 588 357 588 358 589 358 589 359 589 360Z" fill="#5a5a5a"/>
<path d="M586 360 586 361 586 362 586 363 585 363 585 364 584 364 583 364 582 365 581 365 580 365 579 364 578 364 577 364 577 363 576 363 576 362 576 361 576 360 576 359 576 358 577 358 577 357 578 357 579 356 580 356 581 356 582 356 583 356 584 357 585 357 585 358 586 358 586 359 586 360Z" fill="#3f3f3f"/>
<path d="M584 360 584 361 583 361 583 362 582 362 582 363 581 363 580 363 580 362 579 362 579 361 578 361 578 360 579 360 579 359 580 359 580 358 581 358 582 358 582 359 583 359 583 360 584 360Z" fill="#292929"/>
</g>
<g fill="none" stroke="#151515" stroke-width="2" transform="scale(.5)">
</g>
<g fill="none" stroke="#f6f6f6" stroke-width="2.2" transform="scale(.5)">
</g>
</g>
<path transform="scale(.5)" d="M596 360 596 361 596 362 596 363 595 364 595 365 594 366 594 367 593 367 593 368 592 369 591 369 590 370 589 371 588 371 587 371 587 372 586 372 585 372 584 372 583 372 583 373 582 373 581 373 580 373 579 373 579 372 578 372 577 372 576 372 575 372 575 371 574 371 573 371 572 370 571 369 570 369 569 368 569 367 568 367 568 366 567 365 567 364 566 363 566 362 566 361 566 360 566 359 566 358 566 357 567 357 567 356 568 355 568 354 569 353 570 352 571 351 572 351 572 350 573 350 574 350 575 349 576 349 577 349 578 348 579 348 580 348 581 348 582 348 583 348 584 348 585 349 586 349 587 349 588 350 589 350 590 350 590 351 591 351 592 352 593 353 594 354 594 355 595 356 595 357 596 357 596 358 596 359Z" fill="none" stroke="#222" stroke-width="2"/>
<path transform="scale(.5)" d="M595 360 594 361 594 362 594 363 594 364 593 365 592 366 592 367 591 367 591 368 590 368 589 369 588 370 587 370 586 370 585 371 584 371 583 371 582 371 581 371 580 371 579 371 578 371 577 371 576 370 575 370 574 370 573 369 572 368 571 368 571 367 570 367 570 366 569 365 568 364 568 363 568 362 568 361 567 360 568 360 568 359 568 358 568 357 569 356 569 355 570 355 570 354 571 353 572 352 573 352 574 351 575 351 576 350 577 350 578 350 579 350 580 350 581 350 582 350 583 350 584 350 585 350 586 350 587 351 588 351 589 352 590 352 591 353 592 354 592 355 593 355 593 356 594 357 594 358 594 359 594 360Z" fill="none" stroke="#f4f4f4" stroke-width="2"/>

</g>
<path d="M293.5 40L481.5 40" stroke="#333" stroke-width="1.1"/>
<path d="M481.5 40L481.5 229" stroke="#555" stroke-width="1.1"/>
<path d="M293.5 39.5L293.5 234.5" stroke="#000" stroke-width="1.3"/>
<path d="M288 229L481.5 229" stroke="#000" stroke-width="1.3"/>
<path d="M288.5 229h5M290.5 214.8h3M290.5 206.5h3M290.5 200.6h3M290.5 196h3M290.5 192.2h3M290.5 189.1h3M290.5 186.3h3M290.5 183.9h3M288.5 181.8h5M290.5 167.5h3M290.5 159.2h3M290.5 153.3h3M290.5 148.7h3M290.5 145h3M290.5 141.8h3M290.5 139.1h3M290.5 136.7h3M288.5 134.5h5M290.5 120.3h3M290.5 112h3M290.5 106.1h3M290.5 101.5h3M290.5 97.7h3M290.5 94.6h3M290.5 91.8h3M290.5 89.4h3M288.5 87.2h5M290.5 73h3M290.5 64.7h3M290.5 58.8h3M290.5 54.2h3M290.5 50.5h3M290.5 47.3h3M290.5 44.6h3M290.5 42.2h3M288.5 40h5M307.9 229v3M316.1 229v3M322 229v3M326.5 229v3M330.2 229v3M333.3 229v3M336 229v3M338.4 229v3M340.6 229v5M354.6 229v3M362.9 229v3M368.7 229v3M373.3 229v3M377 229v3M380.1 229v3M382.8 229v3M385.2 229v3M387.3 229v5M401.4 229v3M409.6 229v3M415.5 229v3M420 229v3M423.7 229v3M426.9 229v3M429.6 229v3M432 229v3M434.1 229v5M448.2 229v3M456.4 229v3M462.3 229v3M466.8 229v3M470.5 229v3M473.6 229v3M476.3 229v3M478.7 229v3M480.9 229v5" stroke="#111" stroke-width="1"/>
<text x="280.3" y="228.9" font-size="9.1" text-anchor="end" fill="#262626">10</text>
<text x="280.9" y="221.7" font-size="8.0" fill="#262626">0</text>
<text x="280.3" y="185.1" font-size="9.1" text-anchor="end" fill="#262626">10</text>
<text x="280.9" y="177.9" font-size="8.0" fill="#262626">1</text>
<text x="280.3" y="138" font-size="9.1" text-anchor="end" fill="#262626">10</text>
<text x="280.9" y="130.8" font-size="8.0" fill="#262626">2</text>
<text x="280.3" y="91.8" font-size="9.1" text-anchor="end" fill="#262626">10</text>
<text x="280.9" y="84.6" font-size="8.0" fill="#262626">3</text>
<text x="280.3" y="56.8" font-size="9.1" text-anchor="end" fill="#262626">10</text>
<text x="280.9" y="49.6" font-size="8.0" fill="#262626">4</text>
<text x="297.1" y="247.9" font-size="9.1" fill="#262626">10</text>
<text x="308.1" y="242.1" font-size="8.2" fill="#262626">0</text>
<text x="336.6" y="247.9" font-size="9.1" fill="#262626">10</text>
<text x="347.6" y="242.1" font-size="8.2" fill="#262626">1</text>
<text x="383.6" y="247.9" font-size="9.1" fill="#262626">10</text>
<text x="394.6" y="242.1" font-size="8.2" fill="#262626">2</text>
<text x="430" y="247.9" font-size="9.1" fill="#262626">10</text>
<text x="441" y="242.1" font-size="8.2" fill="#262626">3</text>
<text x="475.7" y="247.9" font-size="9.1" fill="#262626">10</text>
<text x="486.7" y="242.1" font-size="8.2" fill="#262626">4</text>
<path d="M293.5 168L379.6 124.4V40" fill="none" stroke="#111" stroke-width="1.1"/>
<text x="469.6" y="60.6" font-size="12.1" text-anchor="end" fill="#1a1a1a">19.4%</text>
<text transform="translate(264.1,134.6) rotate(-90)" font-size="12.6" text-anchor="middle" fill="#111">RL14C-SLF9</text>
<text x="260.6" y="37.8" font-size="25" fill="#000" font-weight="bold">B</text>
<g clip-path="url(#pc9)">

<path transform="scale(.5)" d="M217 872 216 874 215 877 214 879 213 881 212 883 211 885 210 887 209 889 208 891 207 893 205 895 204 897 203 899 202 901 200 903 199 905 197 908 196 910 194 913 192 917 189 921 187 925 184 939 180 952 174 962 168 962 162 962 155 962 149 962 142 962 135 962 128 962 119 962 110 962 101 962 93 958 90 951 90 941 90 932 90 924 90 916 90 909 90 902 90 896 90 890 90 884 90 878 91 872 98 867 107 862 117 860 124 857 130 855 135 854 139 852 143 851 146 850 149 849 152 847 154 846 156 845 158 844 160 843 162 842 164 841 166 840 168 839 171 838 173 837 175 837 177 836 180 835 182 834 185 833 188 832 191 831 194 830 197 829 201 828 206 827 211 825 218 822 226 819 232 820 235 824 234 830 233 837 230 843 228 848 226 853 224 857 223 860 221 864 220 867 219 869Z" fill="#000"/>
<g clip-path="url(#lc10)"><g filter="url(#bl)" transform="scale(.5)">
<path d="M217 872 216 874 215 877 214 879 213 881 212 883 211 885 210 887 209 889 208 891 207 893 205 895 204 897 203 899 202 901 200 903 199 905 197 908 196 910 194 913 192 917 189 921 187 925 184 939 180 952 174 962 168 962 162 962 155 962 149 962 142 962 135 962 128 962 119 962 110 962 101 962 93 958 90 951 90 941 90 932 90 924 90 916 90 909 90 902 90 896 90 890 90 884 90 878 91 872 98 867 107 862 117 860 124 857 130 855 135 854 139 852 143 851 146 850 149 849 152 847 154 846 156 845 158 844 160 843 162 842 164 841 166 840 168 839 171 838 173 837 175 837 177 836 180 835 182 834 185 833 188 832 191 831 194 830 197 829 201 828 206 827 211 825 218 822 226 819 232 820 235 824 234 830 233 837 230 843 228 848 226 853 224 857 223 860 221 864 220 867 219 869Z" fill="#f0f0f0"/>
<path d="M216 872 215 874 214 877 213 879 212 881 211 883 210 885 209 887 208 888 207 890 206 892 205 894 203 896 202 898 201 900 200 902 198 904 197 907 195 909 193 912 191 916 189 919 186 924 184 937 180 948 174 958 168 958 162 959 156 959 150 959 144 959 137 959 129 959 121 959 113 959 103 959 97 955 93 948 92 939 92 930 92 923 92 915 92 908 92 902 92 895 93 889 93 883 93 878 95 872 101 867 110 863 119 860 126 858 132 856 137 854 141 853 144 852 147 851 150 849 153 848 155 847 157 846 159 845 161 844 163 843 165 842 167 841 169 840 171 840 173 839 175 838 177 837 180 836 182 835 185 834 187 833 190 832 193 831 197 831 201 830 205 828 210 826 217 824 224 822 230 822 232 826 232 832 231 838 229 844 227 849 225 853 223 857 222 861 220 864 219 867 218 870Z" fill="#ececec"/>
<path d="M215 872 214 874 213 876 212 878 211 880 210 882 209 884 208 886 207 888 206 890 205 892 204 893 203 895 202 897 200 899 199 901 198 903 196 906 195 908 193 911 191 914 189 918 186 922 184 934 180 945 174 954 169 955 163 955 157 955 151 956 145 956 138 956 131 956 123 956 115 956 106 956 100 952 96 946 95 937 95 929 94 921 94 914 94 908 94 901 95 895 95 889 96 883 97 877 99 872 105 867 113 863 122 860 128 858 134 856 138 855 142 854 146 852 149 851 151 850 153 849 156 848 158 847 160 846 162 845 164 844 165 843 167 842 169 842 171 841 173 840 175 839 177 838 180 837 182 836 184 835 187 834 190 834 193 833 196 832 200 831 204 830 209 828 215 826 222 824 227 824 230 828 230 833 229 839 227 845 225 850 223 854 222 858 220 861 219 864 218 867 216 870Z" fill="#e6e6e6"/>
<path d="M214 872 213 874 212 876 211 878 210 880 209 882 208 884 207 886 206 888 205 889 204 891 203 893 202 895 201 896 200 898 199 900 197 903 196 905 194 907 193 910 191 913 188 917 186 921 184 932 180 942 174 950 169 951 164 951 158 952 152 952 146 953 140 953 133 953 126 953 118 953 109 952 103 949 99 943 98 935 97 927 96 920 96 913 96 907 96 900 97 894 98 888 99 883 100 877 103 872 108 867 116 864 124 861 130 859 136 857 140 856 143 854 147 853 150 852 152 851 154 850 156 849 158 848 160 847 162 846 164 845 166 844 168 843 170 843 172 842 173 841 175 840 177 839 180 839 182 838 184 837 187 836 189 835 192 834 196 834 199 833 203 832 208 830 214 828 220 826 225 826 228 830 228 835 227 840 225 846 224 850 222 855 220 858 219 861 218 864 217 867 215 870Z" fill="#dcdcdc"/>
<path d="M213 872 212 874 211 876 210 878 209 880 208 882 208 884 207 885 206 887 205 889 204 891 203 892 202 894 200 896 199 898 198 900 197 902 195 904 194 906 192 909 190 912 188 915 186 919 183 929 180 938 175 946 170 947 165 948 159 949 153 949 147 950 141 950 135 950 128 950 120 950 112 949 106 946 102 940 100 933 99 926 99 919 98 912 98 906 98 900 99 893 101 888 102 882 104 877 106 872 112 868 119 864 127 861 133 859 137 858 141 856 145 855 148 854 151 853 153 852 155 851 157 850 159 849 161 848 163 847 165 846 166 845 168 845 170 844 172 843 174 842 176 841 178 841 180 840 182 839 184 838 187 837 189 837 192 836 195 835 198 834 202 833 206 832 212 830 218 828 223 829 225 832 226 837 225 842 223 847 222 851 220 855 219 859 218 862 217 865 215 867 214 870Z" fill="#d0d0d0"/>
<path d="M212 872 211 874 211 876 210 878 209 880 208 882 207 883 206 885 205 887 204 888 203 890 202 892 201 893 200 895 199 897 198 899 196 901 195 903 193 905 192 908 190 911 188 914 186 917 183 927 180 935 175 942 170 943 165 944 160 945 154 946 149 947 143 947 136 947 130 947 122 946 115 946 109 943 105 938 103 931 102 924 101 918 100 911 100 905 101 899 102 893 104 887 105 882 107 877 110 872 115 868 122 864 129 862 135 860 139 858 143 857 146 856 149 854 152 853 154 852 156 851 158 850 160 850 162 849 164 848 165 847 167 846 169 846 170 845 172 844 174 843 176 843 178 842 180 841 182 840 184 839 186 839 189 838 191 837 194 837 197 836 201 835 205 834 211 832 216 830 221 831 223 834 223 838 223 843 222 848 220 852 219 856 218 859 216 862 215 865 214 867 213 870Z" fill="#c0c0c0"/>
<path d="M211 872 211 874 210 876 209 878 208 880 207 881 206 883 205 885 204 886 203 888 202 889 201 891 200 893 199 894 198 896 197 898 196 900 194 902 193 904 191 907 190 909 188 912 185 916 183 924 180 932 175 938 171 940 166 941 161 942 156 943 150 943 144 944 138 944 132 944 125 943 118 943 112 940 108 935 106 929 104 922 103 916 102 910 102 904 103 898 104 892 106 887 108 881 111 877 114 872 119 868 125 865 132 862 137 861 141 859 144 857 148 856 150 855 153 854 155 853 157 852 159 851 161 850 162 850 164 849 166 848 167 847 169 847 171 846 172 845 174 845 176 844 178 843 180 842 182 842 184 841 186 840 188 839 191 839 194 838 197 837 200 837 204 835 209 834 214 832 219 833 221 836 221 840 221 844 220 849 219 853 217 856 216 860 215 862 214 865 213 868 212 870Z" fill="#adadad"/>
<path d="M210 872 210 874 209 876 208 878 207 879 206 881 205 883 204 884 203 886 203 887 202 889 201 890 200 892 199 894 198 896 197 897 195 899 194 901 193 903 191 906 189 908 187 911 185 914 183 921 180 928 176 934 171 936 167 937 162 938 157 940 151 940 146 940 140 940 134 940 127 940 120 939 115 937 111 932 108 927 107 921 105 915 104 909 104 903 105 897 107 892 109 886 112 881 114 876 117 872 122 868 128 865 134 863 139 861 143 859 146 858 149 857 152 856 154 855 156 854 158 853 160 852 161 851 163 851 165 850 166 849 168 848 170 848 171 847 173 847 174 846 176 845 178 845 180 844 181 843 184 842 186 842 188 841 190 840 193 840 196 839 199 838 203 837 208 836 212 835 216 835 218 838 219 842 219 846 218 850 217 853 216 857 215 860 214 863 213 865 212 868 211 870Z" fill="#969696"/>
<path d="M210 872 209 874 208 876 207 877 206 879 205 881 204 882 203 884 203 885 202 887 201 888 200 890 199 891 198 893 197 895 196 897 195 898 194 900 192 902 191 905 189 907 187 910 185 913 183 919 180 925 176 930 172 932 167 933 163 935 158 936 153 937 147 937 142 937 136 937 130 937 123 936 118 933 114 930 111 925 109 919 107 914 106 908 106 902 107 897 109 891 112 886 115 881 118 876 121 872 126 868 131 866 137 863 141 862 144 860 148 859 150 858 153 856 155 855 157 855 159 854 161 853 162 852 164 852 165 851 167 850 169 850 170 849 172 848 173 848 175 847 176 846 178 846 180 845 181 844 183 844 185 843 188 842 190 842 192 841 195 841 198 840 202 839 206 838 210 837 214 837 216 840 217 843 217 847 216 851 216 854 215 858 214 860 213 863 212 866 211 868 210 870Z" fill="#7d7d7d"/>
<path d="M209 872 208 874 207 876 206 877 205 879 204 880 204 882 203 883 202 885 201 886 200 888 199 889 198 891 197 892 197 894 195 896 194 898 193 899 192 901 190 903 189 906 187 908 185 911 183 916 180 922 176 926 172 928 168 930 164 932 159 933 154 934 149 934 144 934 138 934 132 934 126 933 121 930 117 927 114 922 111 918 110 912 108 907 108 902 109 896 111 890 114 885 118 880 121 876 125 872 129 869 134 866 139 864 143 862 146 861 149 859 152 858 154 857 156 856 158 855 160 855 161 854 163 853 165 852 166 852 168 851 169 851 170 850 172 849 173 849 175 848 176 848 178 847 180 846 181 846 183 845 185 844 187 844 189 843 192 843 194 842 197 842 200 841 204 840 209 839 212 840 214 842 215 845 215 848 215 852 214 855 213 858 212 861 211 863 211 866 210 868 209 870Z" fill="#606060"/>
<path d="M208 872 207 874 206 875 205 877 204 879 203 880 203 882 202 883 201 884 200 886 199 887 199 889 198 890 197 892 196 893 195 895 194 897 193 899 191 900 190 902 188 904 187 907 185 909 182 914 180 918 176 922 173 924 169 926 165 928 160 930 155 931 150 931 145 931 140 931 135 931 129 930 124 927 120 924 116 920 114 916 112 911 110 906 110 901 111 895 114 890 117 884 121 880 125 876 128 872 133 869 137 866 142 864 145 863 148 861 151 860 153 859 155 858 157 857 159 856 161 855 162 855 164 854 165 853 167 853 168 852 170 852 171 851 172 851 174 850 175 849 177 849 178 848 180 848 181 847 183 846 185 846 187 845 189 845 191 844 194 844 196 843 199 843 203 842 207 841 210 842 212 844 212 847 213 850 213 853 213 856 212 859 211 861 210 864 209 866 209 868 208 870Z" fill="#404040"/>
<path d="M207 872 206 874 205 875 204 877 203 878 203 880 202 881 201 883 200 884 200 885 199 887 198 888 197 890 196 891 195 893 194 894 193 896 192 898 191 899 189 901 188 903 186 905 184 908 182 911 180 915 177 918 173 921 170 923 165 925 161 927 157 928 152 928 147 928 142 928 137 928 132 926 127 924 123 922 119 918 116 914 114 910 112 905 112 900 113 894 116 889 120 884 124 879 128 875 132 872 136 869 140 867 144 865 147 863 150 862 152 861 154 860 156 859 158 858 160 857 161 856 163 855 165 855 166 854 167 854 169 853 170 853 171 852 173 852 174 851 175 851 177 850 178 850 180 849 181 848 183 848 185 847 186 847 188 846 190 846 193 845 195 845 198 844 201 844 205 843 207 844 209 846 210 849 211 851 211 854 211 857 210 859 209 862 209 864 208 866 208 868 207 870Z" fill="#1d1d1d"/>
<path d="M206 872 205 874 204 875 203 877 203 878 202 880 201 881 200 882 200 884 199 885 198 886 197 888 197 889 196 890 195 892 194 893 193 895 192 897 191 898 189 900 188 902 186 904 184 906 182 909 180 912 177 914 174 917 170 919 166 921 162 923 158 925 154 925 149 925 144 925 139 924 135 923 130 921 126 919 122 916 118 913 116 909 114 904 114 899 116 894 119 888 123 883 127 879 132 875 136 872 140 869 143 867 146 865 149 864 152 863 154 861 156 860 157 859 159 858 161 858 162 857 164 856 165 856 167 855 168 855 169 854 171 854 172 853 173 853 174 852 176 852 177 851 178 851 180 850 181 850 183 849 184 849 186 848 188 848 190 847 192 847 194 847 197 846 200 846 203 845 205 846 207 848 208 850 209 852 209 855 209 857 209 860 208 862 208 865 207 867 207 868 206 870Z" fill="#eeeeee"/>
<path d="M205 872 204 874 204 875 203 877 202 878 201 879 201 881 200 882 199 883 198 885 198 886 197 887 196 889 195 890 194 891 194 893 193 894 191 896 190 898 189 899 187 901 186 903 184 905 182 908 180 910 177 913 174 915 171 917 167 920 163 921 159 923 154 923 150 923 146 923 141 922 136 921 132 919 128 917 124 915 121 911 118 907 117 903 117 898 118 893 121 888 125 883 129 879 134 875 138 872 142 870 145 867 148 866 151 864 153 863 155 862 157 861 159 860 160 859 162 858 163 858 165 857 166 856 167 856 169 856 170 855 171 855 172 854 173 854 175 853 176 853 177 852 178 852 180 851 181 851 182 850 184 850 186 849 187 849 189 848 191 848 194 848 196 847 199 847 202 846 204 847 206 849 207 851 208 853 208 855 208 858 208 860 207 863 207 865 206 867 206 869 205 870Z" fill="#e3e3e3"/>
<path d="M204 872 204 874 203 875 202 876 201 878 201 879 200 880 199 882 199 883 198 884 197 886 197 887 196 888 195 889 194 891 193 892 192 894 191 895 190 897 189 899 187 900 186 902 184 904 182 906 180 909 177 911 174 914 171 916 167 918 163 920 159 921 155 921 151 921 147 921 142 921 138 919 134 918 130 916 126 913 123 910 120 906 119 902 119 897 121 892 124 887 128 882 132 878 136 875 140 872 143 870 147 868 150 866 152 865 154 863 156 862 158 861 160 860 161 860 163 859 164 858 165 858 167 857 168 857 169 856 170 856 171 855 173 855 174 855 175 854 176 854 177 853 178 853 180 852 181 852 182 851 184 851 185 850 187 850 189 850 191 849 193 849 195 848 198 848 201 847 203 848 205 850 206 852 207 854 207 856 207 858 207 861 206 863 206 865 205 867 205 869 205 870Z" fill="#d0d0d0"/>
<path d="M203 872 203 874 202 875 201 876 201 878 200 879 200 880 199 882 198 883 198 884 197 885 196 887 195 888 195 889 194 890 193 892 192 893 191 895 190 896 188 898 187 899 185 901 184 903 182 905 180 908 177 910 174 912 171 914 168 916 164 918 160 919 156 919 153 919 148 919 144 919 140 918 136 916 132 914 128 912 125 909 122 905 121 901 122 896 123 891 126 886 130 882 134 878 138 875 142 872 145 870 148 868 151 866 154 865 156 864 158 863 159 862 161 861 162 860 164 860 165 859 166 859 167 858 169 858 170 857 171 857 172 856 173 856 174 855 175 855 176 855 177 854 178 854 180 853 181 853 182 852 184 852 185 851 187 851 188 851 190 850 192 850 195 849 197 849 200 849 203 849 204 851 205 853 206 855 206 857 206 859 206 861 206 863 205 865 205 867 204 869 204 870Z" fill="#b8b8b8"/>
<path d="M203 872 202 873 201 875 201 876 200 878 200 879 199 880 198 881 198 883 197 884 197 885 196 886 195 887 194 889 193 890 192 891 192 893 190 894 189 895 188 897 187 899 185 900 184 902 182 904 180 906 177 908 175 910 172 912 168 914 165 916 161 917 157 917 154 917 150 917 145 917 141 916 137 914 134 912 130 910 127 907 125 904 124 900 124 895 126 890 129 886 133 881 137 878 141 875 144 872 147 870 150 868 153 867 155 865 157 864 159 863 160 863 162 862 163 861 164 860 166 860 167 859 168 859 169 858 170 858 171 858 172 857 173 857 174 856 175 856 176 855 177 855 178 855 180 854 181 854 182 853 183 853 185 853 186 852 188 852 190 851 192 851 194 851 197 850 199 850 202 850 203 851 204 853 205 855 205 857 205 859 205 861 205 863 204 865 204 867 203 869 203 870Z" fill="#9a9a9a"/>
<path d="M202 872 201 873 201 875 200 876 200 877 199 879 199 880 198 881 197 882 197 884 196 885 195 886 195 887 194 888 193 889 192 891 191 892 190 893 189 895 188 896 187 898 185 900 183 901 182 903 180 905 177 907 175 909 172 910 169 912 165 914 162 915 158 915 155 915 151 915 147 915 143 914 139 912 136 911 132 909 129 906 127 903 126 898 127 894 128 889 131 885 135 881 139 877 143 874 146 872 149 870 152 868 154 867 156 866 158 865 160 864 162 863 163 862 164 862 165 861 167 861 168 860 169 860 170 859 171 859 172 858 173 858 174 858 175 857 176 857 176 856 177 856 179 856 180 855 181 855 182 855 183 854 184 854 186 853 187 853 189 853 191 852 193 852 196 851 198 851 201 851 202 852 203 854 204 856 204 858 204 860 204 862 204 864 204 866 203 867 203 869 202 871Z" fill="#767676"/>
<path d="M201 872 200 873 200 875 199 876 199 877 198 878 198 880 198 881 197 882 196 883 196 884 195 886 194 887 193 888 193 889 192 890 191 891 190 893 189 894 188 895 186 897 185 899 183 901 182 902 180 904 177 905 175 907 172 909 169 910 166 912 163 913 159 913 156 913 152 913 148 913 144 912 141 911 137 909 134 907 131 904 129 901 128 897 129 893 131 889 134 884 137 880 141 877 145 874 148 872 151 870 153 869 156 867 158 866 160 865 161 864 163 864 164 863 165 862 166 862 167 861 168 861 169 860 170 860 171 860 172 859 173 859 174 858 175 858 176 858 177 857 178 857 179 857 180 856 181 856 182 856 183 855 184 855 186 854 187 854 189 854 190 853 192 853 195 852 198 852 200 852 201 853 202 855 203 857 203 858 203 860 203 862 203 864 203 866 202 867 202 869 201 871Z" fill="#4e4e4e"/>
<path d="M200 872 200 873 199 875 199 876 198 877 198 878 197 879 197 881 197 882 196 883 195 884 195 885 194 886 193 887 192 888 191 890 190 891 189 892 188 893 187 895 186 896 185 898 183 900 182 901 180 902 178 904 175 905 173 907 170 909 167 910 164 911 160 911 157 911 154 911 150 911 146 910 143 909 139 907 136 906 133 903 131 900 131 896 131 892 134 888 136 884 140 880 144 877 147 874 150 872 152 870 155 869 157 868 159 867 161 866 163 865 164 864 165 864 166 863 167 863 168 862 169 862 170 861 171 861 172 860 173 860 174 859 175 859 176 858 177 858 178 858 179 858 180 857 181 857 182 857 183 856 184 856 185 856 187 855 188 855 190 854 192 854 194 853 197 853 199 853 200 854 201 856 201 857 202 859 202 861 203 863 202 864 202 866 202 868 201 869 201 871Z" fill="#222222"/>
<path d="M199 872 199 873 199 874 198 876 198 877 197 878 197 879 197 880 196 882 196 883 195 884 194 885 193 886 193 887 192 888 191 889 190 890 189 891 188 893 187 894 186 895 185 897 183 899 181 900 180 901 178 902 175 904 173 905 170 907 167 908 164 909 161 909 158 909 155 909 151 909 148 908 144 907 141 906 138 904 135 902 133 899 133 895 134 891 136 887 139 883 142 879 146 876 149 874 152 872 154 870 157 869 159 868 161 867 162 866 164 865 165 865 166 864 167 864 168 863 169 863 170 862 171 862 172 862 172 861 173 861 174 860 175 860 176 859 177 859 178 859 179 859 180 858 181 858 182 857 184 857 185 857 186 856 188 856 189 856 191 855 193 854 196 854 198 854 199 855 200 856 200 858 201 860 201 861 202 863 202 865 201 866 201 868 200 869 200 871Z" fill="#eeeeee"/>
<path d="M199 872 199 873 198 874 198 876 197 877 197 878 197 879 196 880 196 881 195 882 195 884 194 885 193 886 192 887 192 888 191 889 190 890 189 891 188 892 187 893 186 895 184 896 183 898 181 899 180 900 178 901 176 903 173 904 171 905 168 907 165 907 162 907 159 907 156 908 152 908 149 907 145 906 142 905 139 903 136 901 134 898 134 895 135 891 137 887 140 883 143 879 147 876 150 874 152 872 155 870 157 869 159 868 161 867 163 866 164 866 165 865 166 864 167 864 168 863 169 863 170 863 171 862 172 862 173 861 174 861 175 860 176 860 177 859 178 859 179 859 180 859 180 858 181 858 182 858 184 857 185 857 186 857 187 856 189 856 191 855 193 855 195 854 197 854 199 855 200 857 200 858 200 860 201 862 201 863 201 865 201 866 201 868 200 869 200 871Z" fill="#e3e3e3"/>
<path d="M199 872 199 873 198 874 198 876 197 877 197 878 196 879 196 880 195 881 195 882 194 883 194 884 193 885 192 886 191 887 191 888 190 889 189 890 188 891 187 893 185 894 184 895 183 897 181 898 180 899 178 900 176 901 174 903 171 904 168 905 166 906 163 906 160 906 157 906 153 906 150 906 146 905 143 904 140 902 137 900 135 898 135 894 135 890 138 886 140 883 143 879 147 876 150 874 153 872 155 870 157 869 159 868 161 867 163 866 164 866 166 865 167 865 168 864 169 864 170 863 171 862 172 862 173 862 173 861 174 861 175 861 176 860 177 860 178 859 179 859 180 859 181 858 182 858 183 858 185 857 186 857 187 857 189 856 190 856 192 855 195 855 197 855 198 855 199 857 200 859 200 860 200 862 201 863 201 865 201 866 200 868 200 869 199 871Z" fill="#d0d0d0"/>
<path d="M199 872 198 873 198 874 197 876 197 877 196 878 196 879 195 880 195 881 195 882 194 883 193 884 193 885 192 886 191 887 190 888 189 889 188 890 187 891 186 892 185 893 184 894 183 896 181 897 180 898 178 899 176 900 174 901 171 903 169 904 166 904 164 904 161 905 158 905 154 905 151 905 148 904 144 903 141 902 138 900 136 897 135 894 136 890 138 886 141 882 144 879 148 876 151 874 153 872 156 870 158 869 160 868 162 867 163 866 165 866 166 865 167 865 168 864 169 864 170 863 171 863 172 862 173 862 174 862 174 861 175 861 176 861 176 860 177 860 178 860 179 859 180 859 181 859 182 858 183 858 184 858 186 857 187 857 188 857 190 856 192 856 194 855 196 855 198 856 199 857 199 859 200 860 200 862 200 863 200 865 200 866 200 868 200 869 199 871Z" fill="#b8b8b8"/>
<path d="M199 872 198 873 198 874 197 875 197 877 196 878 196 879 195 880 195 881 194 882 194 883 193 884 192 885 192 886 191 887 190 888 189 889 188 889 187 890 186 891 185 892 184 894 183 895 181 896 180 897 178 898 176 899 174 900 172 901 169 902 167 903 164 903 162 903 159 903 155 904 152 904 149 903 145 902 142 901 139 899 137 897 136 893 137 890 139 886 141 882 145 879 148 876 151 874 154 872 156 870 158 869 160 868 162 867 164 867 165 866 166 865 167 865 168 864 169 864 170 864 171 863 172 863 172 862 173 862 174 862 174 861 175 861 176 861 177 861 177 860 178 860 179 860 180 859 181 859 182 858 183 858 184 858 186 858 187 857 188 857 190 857 192 856 194 856 196 856 197 856 198 858 199 859 199 861 200 862 200 864 200 865 200 867 200 868 199 869 199 871Z" fill="#9a9a9a"/>
<path d="M198 872 198 873 197 874 197 875 196 876 196 877 195 878 195 879 194 880 194 881 193 882 193 883 192 884 191 885 191 886 190 887 189 888 188 889 187 890 186 891 185 892 184 893 182 894 181 895 180 896 178 897 176 898 174 899 172 900 170 901 167 901 165 901 162 902 160 902 156 902 153 902 150 902 147 901 143 900 140 898 138 896 137 893 138 889 140 886 142 882 145 879 149 876 152 874 154 872 156 870 158 869 160 868 162 867 164 867 165 866 166 865 167 865 168 865 169 864 170 864 171 863 172 863 173 862 174 862 175 862 175 861 176 861 177 861 178 860 179 860 180 860 180 859 181 859 182 859 183 858 184 858 185 858 187 858 188 857 190 857 191 857 193 856 195 856 197 857 198 858 199 859 199 861 199 862 199 864 200 865 199 867 199 868 199 869 199 871Z" fill="#767676"/>
<path d="M198 872 198 873 197 874 196 875 196 876 195 877 195 878 194 879 194 880 193 881 193 882 192 883 192 884 191 885 190 886 190 887 189 888 188 889 187 889 186 890 185 891 184 892 182 893 181 894 180 894 178 895 176 896 175 898 172 899 170 899 168 900 166 900 163 900 160 901 157 901 154 901 151 901 148 900 144 899 141 898 139 896 138 893 139 889 140 885 143 882 146 879 149 876 152 874 155 872 157 871 159 869 161 868 163 867 164 867 165 866 167 866 168 865 169 865 170 864 171 864 172 863 173 863 174 862 175 862 176 861 177 861 178 861 179 860 180 860 181 859 182 859 183 859 184 858 185 858 186 858 188 858 189 858 191 857 193 857 195 857 197 857 198 858 198 860 199 861 199 863 199 864 199 865 199 867 199 868 199 869 199 871Z" fill="#4e4e4e"/>
<path d="M198 872 197 873 197 874 196 875 196 876 195 877 195 878 194 879 194 880 193 881 192 882 192 883 191 884 191 885 190 886 189 887 188 887 188 888 187 889 186 889 184 890 183 891 182 892 181 893 180 893 178 894 177 895 175 896 173 897 171 898 169 898 167 899 164 899 161 899 158 900 155 900 152 900 149 899 145 898 142 897 139 895 139 892 139 889 141 885 143 882 146 879 150 876 153 874 155 872 157 871 159 869 161 868 163 867 164 867 166 866 167 866 168 865 169 865 170 864 171 864 172 863 173 863 174 863 175 862 176 862 177 861 178 861 179 861 180 860 181 860 182 859 183 859 184 859 185 859 186 858 188 858 189 858 190 858 192 858 194 857 196 858 197 858 198 860 198 861 198 863 199 864 199 866 199 867 199 868 199 869 199 871Z" fill="#222222"/>
<path d="M198 872 197 873 197 874 196 875 195 876 195 877 194 878 194 879 193 880 193 881 192 882 191 883 190 884 190 885 189 886 188 887 187 888 186 888 185 889 184 889 183 890 182 891 181 891 180 892 178 893 177 894 175 895 173 896 171 896 169 897 167 897 165 897 162 898 159 898 156 899 153 899 150 898 146 897 143 896 140 895 139 892 140 888 142 885 144 882 147 879 150 876 153 874 156 872 158 871 160 869 161 868 163 868 165 867 166 866 167 866 168 865 169 865 170 865 171 864 172 864 173 863 174 863 175 863 176 862 177 862 178 861 179 861 180 861 180 860 181 860 182 860 183 859 184 859 185 859 186 859 187 859 189 859 190 858 192 858 194 858 196 858 197 859 198 860 198 862 198 863 198 864 198 866 198 867 199 868 199 869 198 871Z" fill="#eeeeee"/>
<path d="M197 872 196 873 196 874 195 875 195 876 194 877 194 878 193 879 192 880 191 881 191 882 190 883 190 884 189 885 188 886 187 887 186 887 185 888 184 888 183 889 182 890 181 890 180 891 178 892 177 893 175 893 174 894 172 895 170 895 168 895 166 896 163 896 161 897 158 897 154 897 151 897 148 896 145 895 142 894 141 891 141 888 143 884 145 881 147 878 150 876 153 874 156 872 158 871 160 869 162 868 163 868 165 867 166 866 167 866 168 865 169 865 170 865 171 864 172 864 173 864 174 863 175 863 176 862 177 862 178 862 178 861 179 861 180 861 181 860 182 860 183 860 184 859 185 859 186 859 187 859 188 859 190 859 191 859 193 859 195 859 196 859 197 861 197 862 197 863 197 865 197 866 198 867 198 868 198 870 197 871Z" fill="#e3e3e3"/>
<path d="M196 872 195 873 195 874 194 875 194 876 193 877 193 878 192 879 191 880 191 881 190 881 190 882 189 883 189 884 188 884 187 885 186 886 185 886 185 887 184 887 183 888 182 888 181 889 180 890 178 890 177 891 176 892 174 893 172 893 171 893 169 894 167 894 165 895 162 895 159 895 156 896 153 895 150 895 146 894 144 893 142 890 143 887 144 884 146 881 148 878 151 876 154 874 156 872 158 871 160 869 162 868 164 868 165 867 166 866 167 866 168 866 169 865 170 865 171 864 172 864 173 864 174 863 175 863 176 863 176 862 177 862 178 862 179 861 180 861 181 860 182 860 183 860 184 860 185 860 186 859 187 859 188 859 189 859 191 859 192 859 194 859 195 860 196 861 196 862 196 864 197 865 197 866 197 867 197 869 197 870 196 871Z" fill="#d0d0d0"/>
<path d="M195 872 195 873 194 874 194 875 193 876 192 877 192 878 191 879 191 880 190 880 190 881 189 882 188 883 187 884 186 885 185 885 184 886 183 886 182 887 181 888 180 888 178 889 177 890 176 890 175 891 173 891 171 892 170 892 168 892 166 893 163 893 161 894 158 894 155 894 152 894 148 893 145 892 144 890 144 887 145 884 147 881 149 878 151 876 154 874 156 872 158 871 160 869 162 869 164 868 165 867 166 867 168 866 169 866 169 865 170 865 171 865 172 864 173 864 174 864 175 863 176 863 177 862 178 862 179 862 180 861 181 861 182 860 183 860 184 860 185 860 186 860 187 860 188 860 189 860 190 860 192 860 193 860 194 861 195 862 195 863 196 864 196 865 196 866 196 868 196 869 196 870 196 871Z" fill="#b8b8b8"/>
<path d="M194 872 194 873 193 874 193 875 192 876 192 877 191 878 190 879 190 880 189 880 189 881 188 882 187 882 187 883 186 883 185 884 184 884 183 885 182 885 181 886 180 887 179 887 177 888 176 889 175 889 174 890 172 890 170 890 169 891 167 891 164 892 162 892 159 892 156 892 153 892 150 892 147 891 145 889 145 886 146 883 147 881 149 878 151 876 154 874 156 872 159 871 161 870 162 869 164 868 165 867 167 867 168 866 169 866 170 865 171 865 172 864 173 864 174 864 175 863 176 863 177 863 178 862 179 862 180 862 180 861 181 861 182 861 183 861 184 860 185 860 186 860 187 860 188 860 189 860 190 860 191 860 193 861 194 861 194 862 195 863 195 864 195 866 195 867 195 868 195 869 195 870 195 871Z" fill="#9a9a9a"/>
<path d="M193 872 193 873 193 874 192 875 192 876 191 877 191 878 190 878 190 879 189 879 188 880 187 881 186 882 185 883 184 883 183 883 183 884 182 884 181 885 180 885 180 886 179 886 178 887 177 887 175 888 174 888 173 889 171 889 170 889 168 890 166 890 163 890 161 891 158 891 155 891 151 891 148 890 147 888 146 886 147 883 148 880 150 878 152 876 154 874 156 872 159 871 161 870 163 869 164 868 166 867 167 867 168 866 169 866 170 865 171 865 172 865 173 864 174 864 175 864 175 863 176 863 177 863 178 863 178 862 179 862 180 862 181 861 182 861 183 861 184 860 185 860 186 860 187 860 188 861 189 861 191 861 192 861 193 862 193 863 194 864 194 865 194 866 194 867 194 868 194 869 194 870 194 871Z" fill="#767676"/>
<path d="M192 872 192 873 192 874 191 874 191 875 191 876 191 877 190 877 190 878 189 878 188 879 187 880 186 881 185 881 184 882 183 882 182 883 181 883 180 884 179 885 178 885 177 886 176 886 175 887 173 887 172 887 171 888 169 888 167 888 165 889 162 889 160 889 157 890 153 890 150 889 148 888 148 885 148 883 149 880 151 878 152 876 154 874 157 872 159 871 161 870 163 869 164 868 166 867 167 867 168 866 169 866 170 865 171 865 172 865 173 864 174 864 175 864 176 863 177 863 178 863 179 862 180 862 181 862 182 861 183 861 184 861 185 861 186 860 187 861 188 861 189 861 190 862 191 862 192 863 193 863 193 864 194 865 194 866 193 867 193 868 193 869 193 870 193 871Z" fill="#4e4e4e"/>
<path d="M192 872 191 873 191 874 190 875 190 876 190 877 189 877 188 878 187 879 186 879 186 880 185 880 184 880 184 881 183 881 182 882 181 882 180 883 179 883 178 884 177 884 176 885 175 885 174 885 173 886 172 886 170 886 168 887 166 887 164 888 161 888 158 888 155 889 152 888 150 887 149 885 149 882 150 880 151 878 153 876 155 874 157 872 159 871 161 870 163 869 165 868 166 867 167 867 168 866 169 866 170 866 171 865 172 865 173 865 174 864 175 864 176 864 177 863 178 863 179 863 180 862 181 862 182 862 183 861 184 861 185 861 186 861 187 861 188 861 189 862 190 863 191 863 192 864 192 865 193 866 193 867 193 868 192 869 192 870 192 871Z" fill="#222222"/>
<path d="M191 872 190 873 190 874 190 875 189 876 189 877 188 878 187 878 186 878 185 879 184 879 183 880 182 880 181 881 180 881 180 882 179 882 178 882 177 883 176 883 175 884 174 884 173 884 171 885 170 885 168 885 166 886 163 887 160 887 156 888 153 887 151 886 150 884 150 882 151 880 152 877 153 876 155 874 157 872 160 871 162 870 163 869 165 868 166 867 167 867 168 866 169 866 170 866 171 865 172 865 173 865 174 864 175 864 176 864 177 864 177 863 178 863 179 863 180 863 181 862 182 862 183 862 184 861 185 861 186 861 187 861 187 862 188 862 189 863 190 864 191 864 192 865 192 866 192 867 192 868 192 869 191 870 191 871Z" fill="#bcbcbc"/>
<path d="M189 872 189 873 189 874 188 875 188 876 187 877 186 877 185 878 184 878 183 879 182 879 181 880 180 880 179 881 178 881 177 882 176 882 175 882 174 882 173 883 172 883 171 883 169 884 167 884 165 885 162 885 159 886 157 885 155 884 154 883 154 881 154 879 155 877 156 875 158 873 160 872 162 871 164 870 165 869 167 869 168 868 169 868 170 867 171 866 172 866 173 866 174 866 175 865 176 865 177 865 178 864 179 864 180 864 181 864 181 863 182 863 183 863 184 862 185 862 186 863 187 864 188 864 189 865 190 866 190 867 191 867 190 868 190 869 190 870 190 871 189 871Z" fill="#959595"/>
<path d="M188 872 188 873 187 874 187 875 186 876 185 876 185 877 184 877 183 877 183 878 182 878 181 878 181 879 180 879 179 879 179 880 178 880 177 880 177 881 176 881 175 881 174 881 173 881 172 882 171 882 169 882 167 883 165 883 162 884 160 883 158 883 158 881 158 879 158 878 159 876 160 875 161 873 163 872 165 871 166 870 168 870 169 869 170 869 170 868 171 868 172 867 173 867 174 867 175 866 176 866 177 866 178 866 178 865 179 865 180 865 181 865 182 864 183 864 184 864 185 864 186 865 187 866 188 866 189 867 189 868 189 869 189 870 188 870 188 871Z" fill="#7b7b7b"/>
<path d="M186 872 186 873 186 874 186 875 185 875 184 876 183 876 183 877 182 877 181 877 180 878 179 878 178 879 177 879 176 879 175 880 174 880 173 880 172 880 171 881 169 881 167 881 165 882 163 881 162 881 161 880 161 878 162 877 162 875 163 874 164 873 165 872 167 871 168 871 170 870 171 869 172 869 173 869 173 868 174 868 175 868 176 867 177 867 178 867 179 867 179 866 180 866 181 866 182 866 182 865 183 865 184 865 184 866 185 866 186 867 187 867 187 868 187 869 187 870 187 871 187 872Z" fill="#656565"/>
<path d="M185 872 185 873 185 874 184 874 184 875 183 875 182 875 182 876 181 876 180 876 180 877 179 877 178 878 177 878 176 878 175 878 174 879 173 879 171 879 170 880 168 880 166 880 165 879 165 878 165 877 165 876 166 875 166 874 167 873 168 872 170 871 171 871 172 870 173 870 173 869 174 869 175 869 176 869 176 868 177 868 178 868 179 868 179 867 180 867 181 867 182 867 183 867 184 867 185 868 186 869 186 870 185 871 185 872Z" fill="#525252"/>
<path d="M184 872 184 873 183 873 183 874 182 874 182 875 181 875 180 875 180 876 179 876 178 876 177 876 177 877 176 877 175 877 174 877 173 877 172 878 171 878 170 878 169 877 169 876 169 875 169 874 170 873 171 872 172 872 173 871 174 871 175 870 176 870 176 869 177 869 178 869 179 869 180 869 180 868 181 868 182 868 183 868 183 869 184 869 184 870 184 871 184 872Z" fill="#424242"/>
<path d="M182 872 182 873 181 873 181 874 180 874 179 874 179 875 178 875 177 875 176 875 175 876 174 876 173 876 172 876 172 875 172 874 173 873 173 872 174 872 175 872 175 871 176 871 177 871 177 870 178 870 179 870 180 870 180 869 181 869 182 869 182 870 183 870 183 871 182 872Z" fill="#333333"/>
<path d="M181 872 181 873 180 873 179 873 179 874 178 874 177 874 176 874 176 873 176 872 177 872 178 872 178 871 179 871 180 871 181 871 181 872Z" fill="#252525"/>
</g>
<g fill="none" stroke="#151515" stroke-width="2" transform="scale(.5)">
<path d="M207 872 207 874 206 875 205 877 204 879 203 880 202 881 202 883 201 884 200 886 199 887 198 889 198 890 197 891 196 893 195 895 194 896 192 898 191 900 190 901 188 903 186 905 184 908 182 910 180 913 177 916 173 918 170 921 166 923 162 925 157 926 153 926 148 926 143 926 138 926 134 924 129 922 125 920 121 917 117 914 115 909 113 905 113 900 114 894 117 889 121 884 126 879 130 875 134 872 138 869 142 867 145 865 148 863 150 862 152 861 154 860 156 858 158 857 160 857 161 856 163 855 164 855 166 854 167 853 169 853 170 852 171 852 173 851 174 851 175 850 177 850 178 849 180 849 181 848 183 848 185 847 186 847 188 846 190 846 193 846 195 845 198 845 201 844 204 844 206 845 208 847 209 849 210 852 211 854 211 857 210 859 210 862 209 864 208 866 208 868 208 870Z"/>
<path d="M201 872 200 873 200 875 200 876 199 877 199 879 198 880 198 881 197 882 197 884 196 885 195 886 195 887 194 888 193 889 192 890 191 891 190 893 189 894 188 895 186 897 185 899 183 900 182 902 180 903 178 904 175 905 173 907 170 908 167 910 164 910 161 910 158 910 154 910 150 910 147 909 143 908 140 907 137 905 134 903 132 900 132 896 133 891 135 887 138 883 141 880 145 877 148 874 150 872 153 870 155 869 157 868 159 867 161 866 162 865 164 864 165 864 166 863 167 862 168 862 169 861 170 861 171 860 172 860 173 859 174 859 175 858 176 858 177 858 178 857 179 857 180 857 181 857 182 856 183 856 184 856 185 855 187 855 188 855 190 854 192 854 194 853 197 852 199 853 201 854 201 856 202 857 202 859 203 861 203 862 203 864 203 866 202 867 202 869 201 871Z"/>
<path d="M199 872 199 873 198 874 197 876 197 877 196 878 196 879 195 880 194 881 194 882 193 883 192 884 191 885 191 887 190 887 189 888 188 889 187 890 186 890 185 891 183 892 182 892 181 893 180 894 178 895 177 895 175 896 173 897 171 898 169 898 167 898 164 899 161 899 158 900 155 900 152 900 149 899 145 898 142 897 139 895 138 892 139 889 140 885 142 882 145 879 148 876 152 874 154 872 156 870 158 869 160 868 162 867 163 866 165 866 166 865 167 865 168 864 169 864 170 863 171 863 172 862 173 862 174 862 174 861 175 861 176 861 176 860 177 860 178 860 179 859 180 859 181 858 182 858 183 858 184 858 186 858 187 857 188 857 189 857 191 857 193 857 195 857 197 857 198 858 199 859 199 861 199 862 199 864 200 865 200 867 200 868 200 869 200 871Z"/>
<path d="M192 872 192 873 192 874 191 874 191 875 191 876 191 877 190 877 190 878 189 878 188 879 187 879 186 880 185 880 185 881 184 881 183 881 183 882 182 882 181 883 180 883 179 883 178 884 177 884 176 885 175 885 174 885 173 885 172 886 170 886 169 886 167 887 165 887 162 887 159 888 155 888 152 888 150 887 149 885 149 882 149 880 151 878 151 876 153 874 155 872 158 871 160 869 162 868 163 868 165 867 166 866 167 866 168 865 169 865 170 864 171 864 172 864 173 863 174 863 175 863 176 862 177 862 178 862 179 861 180 861 181 861 182 861 183 860 184 860 185 860 186 860 187 860 188 860 188 861 189 861 190 862 191 862 191 863 192 864 193 864 193 865 193 866 193 867 193 868 193 869 193 870 192 871Z"/>
</g>
<g fill="none" stroke="#f6f6f6" stroke-width="2.2" transform="scale(.5)">
<path d="M206 872 205 874 204 875 203 877 203 878 202 880 201 881 200 882 200 884 199 885 198 886 197 888 197 889 196 890 195 892 194 893 193 895 192 897 191 898 189 900 188 902 186 904 184 906 182 909 180 912 177 914 174 917 170 919 166 921 162 923 158 925 154 925 149 925 144 925 139 924 135 923 130 921 126 919 122 916 118 913 116 909 114 904 114 899 116 894 119 888 123 883 127 879 132 875 136 872 140 869 143 867 146 865 149 864 152 863 154 861 156 860 157 859 159 858 161 858 162 857 164 856 165 856 167 855 168 855 169 854 171 854 172 853 173 853 174 852 176 852 177 851 178 851 180 850 181 850 183 849 184 849 186 848 188 848 190 847 192 847 194 847 197 846 200 846 203 845 205 846 207 848 208 850 209 852 209 855 209 857 209 860 208 862 208 865 207 867 207 868 206 870Z"/>
<path d="M199 872 199 873 199 874 198 876 198 877 197 878 197 879 197 880 196 882 196 883 195 884 194 885 193 886 193 887 192 888 191 889 190 890 189 891 188 893 187 894 186 895 185 897 183 899 181 900 180 901 178 902 175 904 173 905 170 907 167 908 164 909 161 909 158 909 155 909 151 909 148 908 144 907 141 906 138 904 135 902 133 899 133 895 134 891 136 887 139 883 142 879 146 876 149 874 152 872 154 870 157 869 159 868 161 867 162 866 164 865 165 865 166 864 167 864 168 863 169 863 170 862 171 862 172 862 172 861 173 861 174 860 175 860 176 859 177 859 178 859 179 859 180 858 181 858 182 857 184 857 185 857 186 856 188 856 189 856 191 855 193 854 196 854 198 854 199 855 200 856 200 858 201 860 201 861 202 863 202 865 201 866 201 868 200 869 200 871Z"/>
<path d="M198 872 197 873 197 874 196 875 195 876 195 877 194 878 194 879 193 880 193 881 192 882 191 883 190 884 190 885 189 886 188 887 187 888 186 888 185 889 184 889 183 890 182 891 181 891 180 892 178 893 177 894 175 895 173 896 171 896 169 897 167 897 165 897 162 898 159 898 156 899 153 899 150 898 146 897 143 896 140 895 139 892 140 888 142 885 144 882 147 879 150 876 153 874 156 872 158 871 160 869 161 868 163 868 165 867 166 866 167 866 168 865 169 865 170 865 171 864 172 864 173 863 174 863 175 863 176 862 177 862 178 861 179 861 180 861 180 860 181 860 182 860 183 859 184 859 185 859 186 859 187 859 189 859 190 858 192 858 194 858 196 858 197 859 198 860 198 862 198 863 198 864 198 866 198 867 199 868 199 869 198 871Z"/>
<path d="M191 872 190 873 190 874 190 875 189 876 189 877 188 878 187 878 186 878 185 879 184 879 183 880 182 880 181 881 180 881 180 882 179 882 178 882 177 883 176 883 175 884 174 884 173 884 171 885 170 885 168 885 166 886 163 887 160 887 156 888 153 887 151 886 150 884 150 882 151 880 152 877 153 876 155 874 157 872 160 871 162 870 163 869 165 868 166 867 167 867 168 866 169 866 170 866 171 865 172 865 173 865 174 864 175 864 176 864 177 864 177 863 178 863 179 863 180 863 181 862 182 862 183 862 184 861 185 861 186 861 187 861 187 862 188 862 189 863 190 864 191 864 192 865 192 866 192 867 192 868 192 869 191 870 191 871Z"/>
</g>
</g>
<ellipse cx="57" cy="469.6" rx="3.2" ry="1.8" transform="rotate(-25 57 469.6)" fill="#000"/>
</g>
<g clip-path="url(#pc11)">

<g clip-path="url(#lc12)"><g filter="url(#bl)" transform="scale(.5)">
<path d="M101 896 101 897 101 898 100 898 100 899 100 900 99 900 99 901 98 901 97 901 97 902 96 902 95 902 95 903 94 903 93 903 92 903 91 903 90 903 89 903 89 902 88 902 87 902 87 901 86 901 85 901 85 900 84 900 84 899 84 898 83 898 83 897 83 896 83 895 83 894 84 894 84 893 84 892 85 892 85 891 86 891 87 891 87 890 88 890 89 890 89 889 90 889 91 889 92 889 93 889 94 889 95 889 95 890 96 890 97 890 97 891 98 891 99 891 99 892 100 892 100 893 100 894 101 894 101 895Z" fill="#aaaaaa"/>
<path d="M99 896 99 897 99 898 98 899 97 900 96 900 96 901 95 901 94 901 93 901 93 902 92 902 91 902 91 901 90 901 89 901 88 901 88 900 87 900 86 899 85 898 85 897 85 896 85 895 85 894 86 893 87 892 88 892 88 891 89 891 90 891 91 891 91 890 92 890 93 890 93 891 94 891 95 891 96 891 96 892 97 892 98 893 99 894 99 895 99 896Z" fill="#7b7b7b"/>
<path d="M97 896 97 897 97 898 96 898 96 899 95 899 95 900 94 900 93 900 92 900 91 900 90 900 89 900 89 899 88 899 88 898 87 898 87 897 87 896 87 895 87 894 88 894 88 893 89 893 89 892 90 892 91 892 92 892 93 892 94 892 95 892 95 893 96 893 96 894 97 894 97 895 97 896Z" fill="#5a5a5a"/>
<path d="M96 896 95 897 95 898 94 898 93 899 92 899 91 899 90 898 89 898 89 897 88 896 89 895 89 894 90 894 91 893 92 893 93 893 94 894 95 894 95 895 96 896Z" fill="#3f3f3f"/>
<path d="M94 896 94 897 93 897 92 897 91 897 90 897 90 896 90 895 91 895 92 895 93 895 94 895 94 896Z" fill="#292929"/>
</g>
<g fill="none" stroke="#151515" stroke-width="2" transform="scale(.5)">
</g>
<g fill="none" stroke="#f6f6f6" stroke-width="2.2" transform="scale(.5)">
</g>
</g>
<path transform="scale(.5)" d="M102 896 102 897 102 898 102 899 101 900 100 901 100 902 99 902 99 903 98 903 97 903 96 904 95 904 94 904 93 904 92 904 91 904 90 904 89 904 88 904 87 903 86 903 85 903 85 902 84 902 84 901 83 900 82 899 82 898 82 897 82 896 82 895 82 894 82 893 83 892 84 891 84 890 85 890 85 889 86 889 87 889 88 888 89 888 90 888 91 888 92 888 93 888 94 888 95 888 96 888 97 889 98 889 99 889 99 890 100 890 100 891 101 892 102 893 102 894 102 895Z" fill="none" stroke="#222" stroke-width="2"/>
<path transform="scale(.5)" d="M101 896 101 897 101 898 100 898 100 899 100 900 99 900 99 901 98 901 97 901 97 902 96 902 95 902 95 903 94 903 93 903 92 903 91 903 90 903 89 903 89 902 88 902 87 902 87 901 86 901 85 901 85 900 84 900 84 899 84 898 83 898 83 897 83 896 83 895 83 894 84 894 84 893 84 892 85 892 85 891 86 891 87 891 87 890 88 890 89 890 89 889 90 889 91 889 92 889 93 889 94 889 95 889 95 890 96 890 97 890 97 891 98 891 99 891 99 892 100 892 100 893 100 894 101 894 101 895Z" fill="none" stroke="#f4f4f4" stroke-width="2"/>

</g>
<path d="M48 288L238.5 288" stroke="#333" stroke-width="1.1"/>
<path d="M238.5 288L238.5 477" stroke="#555" stroke-width="1.1"/>
<path d="M48 287.5L48 482.5" stroke="#000" stroke-width="1.3"/>
<path d="M42.5 477L238.5 477" stroke="#000" stroke-width="1.3"/>
<path d="M43 477h5M45 462.8h3M45 454.5h3M45 448.6h3M45 444h3M45 440.2h3M45 437.1h3M45 434.3h3M45 431.9h3M43 429.8h5M45 415.5h3M45 407.2h3M45 401.3h3M45 396.7h3M45 393h3M45 389.8h3M45 387.1h3M45 384.7h3M43 382.5h5M45 368.3h3M45 360h3M45 354.1h3M45 349.5h3M45 345.7h3M45 342.6h3M45 339.8h3M45 337.4h3M43 335.2h5M45 321h3M45 312.7h3M45 306.8h3M45 302.2h3M45 298.5h3M45 295.3h3M45 292.6h3M45 290.2h3M43 288h5M62.6 477v3M70.9 477v3M76.8 477v3M81.4 477v3M85.2 477v3M88.3 477v3M91.1 477v3M93.5 477v3M95.7 477v5M110 477v3M118.3 477v3M124.2 477v3M128.8 477v3M132.6 477v3M135.7 477v3M138.5 477v3M140.9 477v3M143.1 477v5M157.3 477v3M165.7 477v3M171.6 477v3M176.2 477v3M180 477v3M183.1 477v3M185.9 477v3M188.3 477v3M190.5 477v5M204.7 477v3M213.1 477v3M219 477v3M223.6 477v3M227.3 477v3M230.5 477v3M233.3 477v3M235.7 477v3M237.9 477v5" stroke="#111" stroke-width="1"/>
<text x="34.8" y="476.9" font-size="9.1" text-anchor="end" fill="#262626">10</text>
<text x="35.4" y="469.7" font-size="8.0" fill="#262626">0</text>
<text x="34.8" y="433.1" font-size="9.1" text-anchor="end" fill="#262626">10</text>
<text x="35.4" y="425.9" font-size="8.0" fill="#262626">1</text>
<text x="34.8" y="386" font-size="9.1" text-anchor="end" fill="#262626">10</text>
<text x="35.4" y="378.8" font-size="8.0" fill="#262626">2</text>
<text x="34.8" y="339.8" font-size="9.1" text-anchor="end" fill="#262626">10</text>
<text x="35.4" y="332.6" font-size="8.0" fill="#262626">3</text>
<text x="34.8" y="304.8" font-size="9.1" text-anchor="end" fill="#262626">10</text>
<text x="35.4" y="297.6" font-size="8.0" fill="#262626">4</text>
<text x="51.7" y="495.9" font-size="9.1" fill="#262626">10</text>
<text x="62.7" y="490.1" font-size="8.2" fill="#262626">0</text>
<text x="91.7" y="495.9" font-size="9.1" fill="#262626">10</text>
<text x="102.7" y="490.1" font-size="8.2" fill="#262626">1</text>
<text x="139.3" y="495.9" font-size="9.1" fill="#262626">10</text>
<text x="150.3" y="490.1" font-size="8.2" fill="#262626">2</text>
<text x="186.3" y="495.9" font-size="9.1" fill="#262626">10</text>
<text x="197.3" y="490.1" font-size="8.2" fill="#262626">3</text>
<text x="232.6" y="495.9" font-size="9.1" fill="#262626">10</text>
<text x="243.6" y="490.1" font-size="8.2" fill="#262626">4</text>
<path d="M48 417L135.6 372.6V288" fill="none" stroke="#111" stroke-width="1.1"/>
<text x="227.3" y="308.8" font-size="12.1" text-anchor="end" fill="#1a1a1a">0.269%</text>
<text transform="translate(18.5,384.9) rotate(-90)" font-size="12.6" text-anchor="middle" fill="#111">RL15A-SVG9</text>
<text x="11.6" y="286.8" font-size="25" fill="#000" font-weight="bold">C</text>
<g clip-path="url(#pc13)">

<path transform="scale(.5)" d="M715 826 714 829 713 833 712 836 711 839 710 842 708 845 706 847 705 850 703 852 701 855 699 858 697 860 696 863 694 866 691 868 689 871 687 874 684 877 681 880 678 882 675 884 671 886 667 887 663 889 659 893 654 898 648 903 642 905 637 904 631 903 626 902 620 901 614 900 607 899 601 897 596 893 590 891 585 886 582 880 582 873 582 866 582 860 582 854 582 848 582 842 582 837 582 831 582 826 582 821 582 815 582 810 582 804 582 798 582 792 584 787 589 783 595 780 601 778 607 777 613 776 618 774 622 773 626 771 630 769 634 768 638 766 642 765 647 764 651 763 655 763 659 763 663 764 667 764 671 765 675 766 679 767 683 768 687 770 690 771 694 773 698 775 701 777 704 780 707 783 709 786 711 789 713 793 714 797 715 800 716 804 716 808 716 812 716 815 716 819 715 823Z" fill="#000"/>
<g clip-path="url(#lc14)"><g filter="url(#bl)" transform="scale(.5)">
<path d="M715 826 714 829 713 833 712 836 711 839 710 842 708 845 706 847 705 850 703 852 701 855 699 858 697 860 696 863 694 866 691 868 689 871 687 874 684 877 681 880 678 882 675 884 671 886 667 887 663 889 659 893 654 898 648 903 642 905 637 904 631 903 626 902 620 901 614 900 607 899 601 897 596 893 590 891 585 886 582 880 582 873 582 866 582 860 582 854 582 848 582 842 582 837 582 831 582 826 582 821 582 815 582 810 582 804 582 798 582 792 584 787 589 783 595 780 601 778 607 777 613 776 618 774 622 773 626 771 630 769 634 768 638 766 642 765 647 764 651 763 655 763 659 763 663 764 667 764 671 765 675 766 679 767 683 768 687 770 690 771 694 773 698 775 701 777 704 780 707 783 709 786 711 789 713 793 714 797 715 800 716 804 716 808 716 812 716 815 716 819 715 823Z" fill="#f0f0f0"/>
<path d="M713 826 713 829 712 832 711 836 710 839 708 841 707 844 705 847 703 849 702 852 700 854 698 857 697 859 695 862 693 865 691 867 689 870 686 873 684 876 681 878 678 881 674 883 671 884 667 885 663 887 659 891 654 896 648 900 643 902 638 901 633 900 627 899 622 898 616 897 610 896 604 894 598 891 592 888 588 884 585 879 584 872 584 865 584 859 584 853 584 847 584 842 584 836 585 831 585 826 585 821 585 816 585 810 585 805 586 800 586 794 588 789 592 785 598 783 604 781 610 779 615 778 620 777 624 775 628 773 632 772 636 770 639 769 643 767 647 766 651 766 655 766 659 766 663 766 667 767 671 768 675 769 678 769 682 771 686 772 689 773 693 775 696 776 700 778 703 781 705 784 708 787 710 790 711 794 713 798 714 801 714 805 715 808 715 812 715 816 715 819 714 823Z" fill="#ececec"/>
<path d="M712 826 711 829 711 832 710 835 709 838 707 841 706 844 704 846 702 849 701 851 699 854 698 856 696 859 694 861 692 864 690 866 688 869 686 872 683 874 680 877 677 879 674 881 671 882 667 883 663 885 659 888 654 893 649 897 644 898 639 898 634 897 629 896 623 895 618 894 612 893 606 891 601 888 595 886 590 882 587 877 587 870 587 864 586 858 586 852 587 847 587 841 587 836 587 831 588 826 588 821 588 816 589 811 589 806 589 801 589 795 592 791 596 787 602 785 607 783 613 782 618 780 622 779 626 777 630 776 633 774 637 773 641 771 644 770 648 769 652 769 656 768 659 768 663 769 667 769 671 770 674 771 678 772 681 773 685 774 688 775 692 777 695 778 698 780 701 782 704 785 707 788 708 791 710 795 711 798 712 802 713 805 713 809 713 813 713 816 713 819 713 823Z" fill="#e6e6e6"/>
<path d="M711 826 710 829 709 832 709 835 708 838 706 841 705 843 703 846 701 848 700 851 698 853 697 855 695 858 693 860 691 863 689 865 687 868 685 870 683 873 680 875 677 877 674 879 670 880 667 881 663 883 659 886 655 890 650 894 645 895 640 895 635 894 630 893 625 892 620 891 614 890 608 889 603 886 598 884 593 880 590 875 589 869 589 863 589 857 589 851 589 846 589 841 590 836 590 831 590 826 591 821 591 817 592 812 592 807 593 802 593 797 596 793 600 789 605 787 610 785 615 784 620 783 624 781 628 780 631 778 635 777 638 775 642 774 645 773 649 772 652 771 656 771 660 771 663 771 667 772 670 772 674 773 677 774 681 775 684 776 687 777 691 778 694 780 697 782 700 784 703 786 705 789 707 792 709 796 710 799 711 802 712 806 712 809 712 813 712 816 712 820 712 823Z" fill="#dcdcdc"/>
<path d="M710 826 709 829 708 832 707 835 706 838 705 840 703 843 702 845 700 848 699 850 697 852 696 855 694 857 692 859 690 862 689 864 687 866 684 869 682 871 679 874 677 876 673 877 670 878 667 879 663 881 659 884 655 887 650 891 646 892 641 892 636 891 632 890 627 889 622 888 616 887 611 886 606 884 600 881 596 878 593 873 592 867 591 861 591 856 591 850 591 845 592 840 592 835 593 831 593 826 594 821 595 817 595 812 596 808 596 803 597 799 599 795 603 791 608 789 613 787 618 786 622 785 626 784 630 782 633 781 636 779 639 778 643 777 646 775 649 775 653 774 656 774 660 774 663 774 667 774 670 775 673 775 677 776 680 777 683 778 686 779 690 780 693 782 696 783 699 785 702 788 704 790 706 793 707 797 708 800 710 803 710 806 711 810 711 813 711 817 711 820 710 823Z" fill="#d0d0d0"/>
<path d="M709 826 708 829 707 832 706 835 705 837 704 840 702 842 701 845 699 847 698 849 697 852 695 854 693 856 691 858 690 860 688 863 686 865 684 868 681 870 679 872 676 874 673 875 670 877 667 877 663 879 660 881 655 885 651 888 646 889 642 889 638 888 633 887 629 886 623 885 618 885 613 883 608 881 603 879 599 876 595 871 594 866 594 860 593 855 593 850 594 845 594 840 595 835 595 830 596 826 597 822 598 817 599 813 599 809 600 805 601 800 603 796 607 793 611 791 616 790 620 788 624 787 628 786 631 784 635 783 638 782 641 780 644 779 647 778 650 777 653 777 657 776 660 776 663 777 666 777 670 777 673 778 676 778 679 779 682 780 685 781 689 782 692 783 695 785 698 787 700 789 703 792 704 794 706 798 707 801 708 804 709 807 709 810 709 814 709 817 709 820 709 823Z" fill="#c0c0c0"/>
<path d="M707 826 707 829 706 832 705 834 704 837 703 839 701 842 700 844 698 846 697 849 696 851 694 853 692 855 691 857 689 859 687 862 685 864 683 866 681 869 678 871 676 872 673 874 670 875 666 876 663 877 660 879 656 882 652 885 647 886 643 885 639 885 635 884 630 883 625 883 620 882 615 881 611 879 606 876 601 873 598 869 597 864 596 859 596 854 596 849 596 844 597 839 597 835 598 830 599 826 600 822 601 818 602 814 603 810 604 806 605 802 607 798 610 796 615 794 619 792 623 791 627 790 630 788 633 787 636 786 639 784 642 783 645 782 648 781 651 780 654 780 657 779 660 779 663 779 666 779 669 780 672 780 675 780 679 781 682 782 685 783 688 784 691 785 694 786 696 788 699 790 701 793 703 795 704 798 706 801 707 804 708 808 708 811 708 814 708 817 708 820 708 823Z" fill="#adadad"/>
<path d="M706 826 706 829 705 831 704 834 703 837 702 839 700 841 699 844 697 846 696 848 695 850 693 852 692 854 690 856 688 858 686 861 684 863 682 865 680 867 678 869 675 871 672 872 669 873 666 874 663 875 660 877 656 879 652 881 648 882 644 882 640 881 636 881 632 880 627 880 622 879 618 878 613 876 608 874 604 871 601 868 599 863 598 858 598 853 598 848 599 843 599 839 600 834 601 830 602 826 603 822 604 818 605 814 606 811 607 807 609 803 611 800 614 798 618 796 622 794 626 793 629 792 632 791 635 789 638 788 641 787 643 785 646 784 649 784 652 783 655 782 657 782 660 782 663 782 666 782 669 782 672 782 675 782 678 783 681 784 684 785 686 786 689 787 692 788 695 790 698 792 700 794 702 797 703 799 704 802 706 805 706 808 707 811 707 814 707 817 707 820 706 823Z" fill="#969696"/>
<path d="M705 826 704 829 704 831 703 834 702 836 700 839 699 841 698 843 696 845 695 847 694 849 692 852 691 854 689 856 687 857 686 859 684 862 682 864 680 866 677 868 675 869 672 870 669 871 666 872 663 873 660 874 657 876 653 878 649 879 645 879 641 878 638 878 634 877 629 877 625 876 620 875 616 874 611 872 607 869 603 866 602 861 601 857 600 852 600 847 601 843 602 838 603 834 603 830 605 826 606 822 607 819 609 815 610 812 611 808 612 805 615 802 618 800 621 798 625 796 628 795 631 794 634 793 637 792 639 790 642 789 644 788 647 787 650 786 652 786 655 785 658 785 660 784 663 784 666 784 669 784 671 784 674 785 677 785 680 786 683 787 685 788 688 789 691 790 694 791 696 793 699 795 700 798 702 800 703 803 704 806 705 809 705 812 705 815 705 818 705 820 705 823Z" fill="#7d7d7d"/>
<path d="M704 826 703 829 703 831 702 834 700 836 699 838 698 840 697 842 695 845 694 847 693 849 691 851 690 853 688 855 687 856 685 858 683 860 681 862 679 864 677 866 674 867 672 868 669 869 666 870 663 871 660 872 657 874 653 875 650 876 646 876 643 875 639 875 635 874 631 874 627 874 622 873 618 871 614 869 610 867 606 864 604 860 603 856 603 851 603 847 603 842 604 838 605 834 606 830 607 826 609 822 610 819 612 816 613 813 615 810 616 806 618 804 621 802 625 800 628 799 631 798 634 796 636 795 639 794 641 793 643 792 646 791 648 790 651 789 653 788 656 788 658 787 661 787 663 787 666 787 668 787 671 787 674 787 676 787 679 788 682 788 684 789 687 790 690 791 693 792 695 794 697 796 699 799 700 801 702 804 703 806 704 809 704 812 704 815 704 818 704 821 704 823Z" fill="#606060"/>
<path d="M702 826 702 829 701 831 700 833 699 836 698 838 697 840 696 842 694 844 693 846 692 848 691 850 689 852 687 854 686 855 684 857 682 859 681 861 679 863 676 865 674 866 671 866 669 867 666 868 663 868 660 870 657 871 654 872 651 873 647 873 644 872 641 872 637 871 633 871 629 871 625 870 620 869 616 867 612 865 609 862 607 859 606 854 605 850 605 846 606 841 607 837 608 833 609 830 610 826 612 823 614 819 615 816 617 814 618 811 620 808 622 806 625 804 628 802 631 801 633 800 636 799 638 798 640 796 643 795 645 794 647 793 649 792 652 792 654 791 656 791 658 790 661 790 663 790 666 789 668 789 671 789 673 789 676 789 678 790 681 790 683 791 686 792 689 793 691 794 694 795 696 797 697 800 699 802 700 805 701 807 702 810 703 813 703 815 703 818 703 821 703 823Z" fill="#404040"/>
<path d="M701 826 701 828 700 831 699 833 698 835 697 837 696 839 695 841 693 843 692 845 691 847 690 849 688 851 687 853 685 854 683 856 682 858 680 860 678 862 676 863 673 864 671 865 668 865 666 866 663 866 660 867 658 868 655 869 652 869 648 869 645 869 642 869 639 869 635 868 631 868 627 867 623 866 619 865 615 863 612 860 609 857 608 853 607 849 607 845 608 841 609 837 610 833 612 829 613 826 615 823 617 820 619 817 620 815 622 812 624 810 626 808 628 806 631 805 634 803 636 802 638 801 640 800 642 799 644 798 646 797 648 796 650 795 652 794 655 794 657 793 659 793 661 793 663 792 665 792 668 792 670 791 673 791 675 791 677 792 680 792 682 793 685 794 687 794 690 795 693 797 695 798 696 801 697 803 699 805 700 808 701 810 701 813 701 816 701 818 701 821 701 824Z" fill="#1d1d1d"/>
<path d="M700 826 700 828 699 831 698 833 697 835 696 837 695 839 693 841 692 843 691 845 690 847 689 848 687 850 686 852 684 853 683 855 681 857 679 858 677 860 675 861 673 862 671 863 668 863 666 864 663 864 661 865 658 866 655 866 652 866 650 866 647 866 644 866 640 866 637 865 633 865 629 865 625 864 622 862 618 861 614 859 612 856 610 852 610 848 610 844 610 840 612 836 613 833 614 829 616 826 618 823 620 820 622 818 624 815 626 813 628 811 630 809 632 808 634 807 636 805 638 804 640 803 642 802 644 801 646 800 648 799 649 798 651 797 653 797 655 797 657 796 659 796 661 795 663 795 665 794 667 794 670 793 672 793 674 793 677 794 679 794 681 795 684 795 686 796 689 797 691 798 693 800 695 802 696 804 697 806 699 808 700 811 700 813 700 816 700 819 700 821 700 824Z" fill="#eeeeee"/>
<path d="M699 826 698 828 698 831 697 833 696 835 695 837 694 839 692 840 691 842 690 844 689 846 688 848 687 849 685 851 684 852 682 854 680 856 679 857 677 859 675 860 673 861 670 861 668 862 666 862 663 863 661 864 658 864 656 865 653 865 650 865 647 865 644 864 641 864 638 864 634 864 630 863 627 862 623 861 619 860 616 857 614 855 612 851 612 847 612 844 612 840 614 836 615 832 616 829 617 826 619 823 622 821 623 818 625 816 627 814 629 812 631 810 633 809 635 807 637 806 639 805 641 804 643 803 645 802 647 801 648 800 650 799 652 799 654 798 656 798 657 797 659 797 661 796 663 796 665 796 667 795 669 795 672 795 674 795 676 795 678 795 681 796 683 797 685 797 688 798 690 799 692 801 693 803 695 805 696 807 697 809 698 811 699 814 699 816 699 819 699 821 699 824Z" fill="#e3e3e3"/>
<path d="M697 826 697 828 697 830 696 832 695 834 694 836 693 838 691 840 690 842 689 843 688 845 687 847 686 848 684 850 683 852 681 853 680 855 678 856 676 858 674 859 672 859 670 860 668 861 665 861 663 862 661 862 658 863 656 863 653 863 651 863 648 863 645 863 642 863 639 863 635 862 632 862 628 861 625 860 621 858 618 856 615 854 614 850 613 847 614 843 614 839 615 835 617 832 618 829 619 826 621 823 623 821 625 818 627 816 629 814 630 812 632 811 634 809 636 808 638 807 640 806 642 805 644 804 646 803 647 802 649 801 651 800 652 800 654 799 656 799 658 798 659 798 661 797 663 797 665 797 667 796 669 796 671 796 673 796 676 796 678 797 680 797 682 798 684 799 687 799 689 800 691 802 692 804 693 806 695 808 696 810 697 812 697 814 697 817 697 819 697 822 697 824Z" fill="#d0d0d0"/>
<path d="M696 826 696 828 695 830 695 832 694 834 693 836 692 838 690 839 689 841 688 843 687 844 686 846 685 848 683 849 682 851 681 852 679 854 678 855 676 856 674 857 672 858 670 859 668 859 665 860 663 860 661 861 659 861 656 862 654 862 651 862 648 862 646 862 643 861 640 861 636 861 633 861 629 860 626 859 623 857 620 855 617 852 616 849 615 846 616 842 616 839 617 835 618 832 619 829 621 826 623 823 625 821 627 819 628 817 630 815 632 813 634 811 636 810 638 809 639 808 641 807 643 806 645 805 646 804 648 803 650 802 651 802 653 801 654 800 656 800 658 799 660 799 661 799 663 798 665 798 667 798 669 797 671 797 673 797 675 798 677 798 679 798 681 799 683 800 686 801 688 802 689 803 691 805 692 807 694 808 695 810 696 813 696 815 696 817 696 820 696 822 696 824Z" fill="#b8b8b8"/>
<path d="M694 826 694 828 694 830 693 832 693 834 692 836 691 837 689 839 688 841 687 842 686 844 685 845 684 847 683 848 681 850 680 851 679 853 677 854 675 855 673 856 671 857 669 857 667 858 665 858 663 859 661 859 659 860 656 860 654 861 651 861 649 860 646 860 644 860 641 860 637 860 634 859 631 859 627 857 624 856 622 854 619 851 618 848 617 845 618 841 618 838 619 835 620 832 621 829 622 826 624 823 626 821 628 819 630 817 631 815 633 814 635 812 637 811 639 810 641 809 642 808 644 807 646 806 647 805 649 804 650 803 652 803 653 802 655 801 656 801 658 800 660 800 661 800 663 799 665 799 667 799 669 799 671 799 673 799 674 799 676 799 678 800 680 800 682 801 684 802 686 803 688 804 689 806 691 808 692 809 693 811 694 813 694 815 694 818 694 820 694 822 694 824Z" fill="#9a9a9a"/>
<path d="M693 826 693 828 693 830 692 832 692 834 691 835 690 837 688 838 687 840 686 841 685 843 684 844 683 846 682 847 681 849 679 850 678 851 676 853 675 854 673 855 671 855 669 856 667 856 665 857 663 857 661 858 659 859 657 859 654 859 652 859 650 859 647 859 644 859 641 859 638 858 635 858 632 857 629 856 626 855 623 853 621 850 620 847 619 844 620 841 620 838 621 834 622 831 623 829 624 826 626 824 628 821 630 819 631 817 633 816 634 814 636 813 638 811 640 810 642 809 643 808 645 808 646 807 648 806 649 805 651 804 652 804 654 803 655 802 657 802 658 801 660 801 662 801 663 801 665 800 667 800 668 800 670 800 672 800 674 800 676 800 678 801 680 801 681 802 683 803 685 804 687 805 688 807 689 808 691 810 692 812 693 814 693 816 693 818 693 820 693 822 693 824Z" fill="#767676"/>
<path d="M692 826 692 828 691 830 691 832 691 833 690 835 689 837 687 838 686 839 685 841 684 842 683 844 682 845 681 846 680 848 679 849 677 850 676 852 674 852 672 853 671 854 669 854 667 855 665 855 663 856 661 857 659 857 657 858 655 858 652 858 650 858 648 857 645 857 642 857 639 857 636 857 633 856 630 855 628 853 625 851 623 849 622 847 621 843 621 840 622 837 623 834 624 831 624 829 626 826 627 824 629 822 631 820 633 818 634 816 636 815 637 813 639 812 641 811 643 810 644 809 646 808 647 808 649 807 650 806 651 806 653 805 654 804 656 804 657 803 659 802 660 802 662 802 663 802 665 802 666 801 668 801 670 801 672 801 673 801 675 802 677 802 679 803 681 803 682 804 684 805 685 807 687 808 688 809 690 811 691 812 692 814 692 816 692 818 692 820 692 822 692 824Z" fill="#4e4e4e"/>
<path d="M690 826 690 828 690 830 690 831 689 833 689 835 688 836 686 837 685 839 684 840 683 842 682 843 681 844 680 845 679 847 678 848 677 849 675 850 674 851 672 852 670 852 669 853 667 853 665 854 663 855 661 855 659 856 657 856 655 856 653 856 651 856 648 856 646 856 643 856 641 856 637 855 634 855 632 854 629 852 627 850 625 848 624 846 623 843 623 839 624 836 625 834 625 831 626 828 627 826 629 824 631 822 633 820 634 818 636 817 637 815 639 814 640 813 642 812 644 811 645 810 647 809 648 809 649 808 651 807 652 807 653 806 655 805 656 805 657 804 659 803 660 803 662 803 663 803 665 803 666 803 668 803 669 803 671 803 673 803 675 803 676 803 678 804 680 805 681 806 683 807 684 808 685 809 687 810 688 811 690 813 690 815 690 817 690 819 690 821 690 822 690 824Z" fill="#222222"/>
<path d="M689 826 689 828 689 829 689 831 688 833 688 834 687 836 685 837 684 838 683 840 682 841 681 842 680 843 679 845 678 846 677 847 676 848 675 849 673 850 671 850 670 851 668 851 667 852 665 853 663 853 661 854 659 854 657 855 655 855 653 855 651 855 649 855 647 855 644 854 642 854 639 854 636 853 633 852 631 851 629 849 627 847 625 845 625 842 625 839 626 836 627 833 627 831 628 828 629 826 630 824 632 822 634 820 636 819 637 817 639 816 640 815 641 813 643 812 645 812 646 811 647 810 649 810 650 809 651 808 653 808 654 807 655 806 656 806 658 805 659 805 660 804 662 804 663 804 665 804 666 804 668 804 669 804 671 804 672 804 674 804 676 804 677 805 679 806 680 807 681 808 683 809 684 810 686 811 687 812 688 814 689 815 689 817 689 819 689 821 689 823 689 824Z" fill="#eeeeee"/>
<path d="M688 826 688 828 688 829 688 831 688 833 687 834 686 835 685 837 684 838 683 839 682 840 681 842 680 843 679 844 678 845 677 847 676 848 674 849 673 849 671 850 670 850 668 851 667 851 665 852 663 853 661 853 660 854 658 854 656 854 654 854 652 854 649 854 647 854 645 854 642 853 639 853 636 853 634 852 632 850 630 848 628 847 626 844 626 841 626 839 627 836 627 833 628 831 629 828 630 826 631 824 633 822 635 820 636 819 638 817 639 816 641 815 642 814 644 813 645 812 646 811 648 811 649 810 650 809 652 809 653 808 654 808 655 807 657 807 658 806 659 805 660 805 662 805 663 805 665 805 666 805 667 805 669 805 670 805 672 805 674 805 675 805 677 806 678 807 679 808 680 809 682 810 683 811 685 812 686 813 687 814 688 816 688 818 688 819 688 821 688 823 688 824Z" fill="#e3e3e3"/>
<path d="M687 826 687 828 687 829 687 831 687 832 686 834 685 835 684 836 683 838 682 839 682 840 681 841 680 842 679 844 678 845 677 846 676 847 674 848 673 849 671 849 670 850 668 850 666 851 665 851 663 852 661 853 660 853 658 854 656 854 654 854 652 854 650 853 647 853 645 853 643 853 640 853 637 852 635 851 632 850 630 848 629 846 627 844 627 841 627 838 628 836 628 833 629 831 629 828 630 826 632 824 634 822 635 820 637 819 638 818 640 816 641 815 643 814 644 813 646 812 647 812 648 811 650 810 651 810 652 809 653 809 655 808 656 808 657 807 658 807 659 806 661 806 662 806 663 806 665 806 666 806 667 806 669 806 670 806 672 806 673 806 675 806 676 807 677 808 678 809 680 810 681 810 682 811 684 812 685 813 686 815 687 816 687 818 687 820 687 821 687 823 687 824Z" fill="#d0d0d0"/>
<path d="M686 826 686 827 686 829 686 831 686 832 686 834 685 835 684 836 683 837 682 839 681 840 680 841 679 842 678 843 677 844 676 846 675 847 674 848 672 848 671 849 669 849 668 850 666 850 665 851 663 851 661 852 660 853 658 853 656 853 654 853 652 853 650 853 648 853 646 852 643 852 641 852 638 851 635 850 633 849 631 847 629 845 628 843 628 841 628 838 628 835 629 833 630 830 630 828 631 826 632 824 634 822 636 821 638 819 639 818 641 817 642 815 643 814 645 814 646 813 647 812 649 812 650 811 651 810 652 810 654 809 655 809 656 809 657 808 658 808 659 807 661 807 662 807 663 807 664 807 666 806 667 806 668 807 670 807 671 807 673 807 674 807 675 808 676 809 678 810 679 810 680 811 681 812 683 813 684 814 685 815 685 817 686 818 686 820 686 822 686 823 686 825Z" fill="#b8b8b8"/>
<path d="M685 826 685 827 685 829 685 830 685 832 685 833 684 835 683 836 682 837 681 838 681 839 680 840 679 842 678 843 677 844 676 845 675 846 674 847 672 848 671 848 669 849 668 849 666 850 665 850 663 851 662 851 660 852 658 852 656 853 654 853 652 852 650 852 648 852 646 852 644 851 641 851 639 851 636 850 634 848 632 847 630 845 629 843 628 840 629 838 629 835 630 833 631 830 631 828 632 826 633 824 635 822 637 821 638 819 640 818 641 817 643 816 644 815 645 814 647 813 648 813 649 812 650 811 652 811 653 811 654 810 655 810 656 809 657 809 659 808 660 808 661 808 662 808 663 807 664 807 666 807 667 807 668 807 669 808 671 808 672 808 673 808 675 809 676 810 677 810 678 811 679 812 680 813 682 814 683 815 684 816 684 817 684 819 684 820 685 822 685 823 685 825Z" fill="#9a9a9a"/>
<path d="M684 826 684 827 684 829 684 830 684 832 684 833 684 834 683 836 682 837 681 838 680 839 679 840 678 841 677 842 677 843 676 845 675 846 673 847 672 847 671 848 669 848 668 849 666 849 665 850 663 850 662 851 660 851 658 852 656 852 654 852 653 852 651 851 649 851 647 851 644 851 642 850 639 850 637 849 635 848 633 846 631 844 630 842 629 840 629 837 630 835 631 832 631 830 632 828 633 826 634 824 635 822 637 821 639 819 640 818 642 817 643 816 644 815 646 814 647 814 648 813 650 812 651 812 652 811 653 811 654 811 655 810 657 810 658 810 659 809 660 809 661 809 662 808 663 808 664 808 666 808 667 808 668 808 669 809 670 809 672 809 673 809 674 810 675 811 676 811 677 812 678 813 680 813 681 814 682 815 683 816 683 818 683 819 683 821 684 822 684 823 684 825Z" fill="#767676"/>
<path d="M683 826 683 827 683 829 684 830 684 831 683 833 683 834 682 835 681 836 680 838 680 839 679 840 678 841 677 842 676 843 675 844 674 845 673 846 672 847 670 847 669 848 668 848 666 849 665 849 663 850 662 850 660 851 658 851 656 851 655 851 653 851 651 851 649 851 647 850 645 850 642 850 640 849 638 849 635 847 634 846 632 844 631 842 630 840 630 837 631 835 632 832 632 830 633 828 634 826 635 824 636 822 638 821 639 820 641 818 642 817 644 816 645 816 646 815 648 814 649 813 650 813 651 812 652 812 654 812 655 811 656 811 657 811 658 810 659 810 660 810 661 810 662 809 663 809 664 809 665 809 667 809 668 809 669 809 670 810 671 810 672 811 673 811 674 812 675 812 676 813 677 814 679 814 680 815 681 816 682 817 682 818 682 820 682 821 682 822 683 823 683 825Z" fill="#4e4e4e"/>
<path d="M682 826 682 827 682 829 683 830 683 831 683 833 682 834 682 835 681 836 680 837 679 838 678 839 678 840 677 841 676 843 675 844 674 845 673 846 672 846 670 847 669 847 668 848 666 848 665 849 663 849 662 850 660 850 658 851 657 851 655 851 653 850 651 850 649 850 647 850 645 849 643 849 641 849 638 848 636 847 635 845 633 843 632 842 631 839 631 837 632 834 632 832 633 830 634 828 634 826 635 824 637 822 638 821 640 820 642 819 643 818 644 817 646 816 647 815 648 814 649 814 650 813 652 813 653 812 654 812 655 812 656 812 657 811 658 811 659 811 660 811 661 810 662 810 663 810 664 810 665 810 666 810 667 810 669 810 670 811 671 811 672 812 673 812 673 813 674 813 676 814 677 814 678 815 679 816 680 816 681 817 681 819 681 820 681 821 681 822 682 824 682 825Z" fill="#222222"/>
<path d="M681 826 681 827 682 828 682 830 682 831 682 832 682 834 681 835 680 836 679 837 679 838 678 839 677 840 676 841 676 842 675 843 674 844 673 845 671 846 670 846 669 847 667 847 666 848 665 848 663 849 662 849 660 849 658 850 657 850 655 850 653 850 652 850 650 849 648 849 646 849 644 848 641 848 639 847 637 846 635 845 634 843 633 841 632 839 632 837 633 834 633 832 634 830 635 828 635 826 636 824 637 823 639 821 641 820 642 819 644 818 645 817 646 816 647 816 649 815 650 814 651 814 652 813 653 813 654 813 655 813 656 812 657 812 658 812 659 812 660 812 661 811 662 811 663 811 664 811 665 811 666 811 667 811 668 811 669 812 670 812 671 813 672 813 673 814 674 814 675 815 676 815 677 816 678 816 679 817 679 818 680 819 680 820 680 821 680 823 681 824 681 825Z" fill="#eeeeee"/>
<path d="M680 826 681 827 681 828 681 830 681 831 681 832 681 833 680 834 680 835 679 836 678 837 677 838 677 839 676 840 675 842 674 843 673 844 672 845 671 845 670 846 669 846 667 847 666 847 665 848 663 848 662 849 660 849 659 849 657 850 655 850 654 849 652 849 650 849 648 849 646 848 644 848 642 847 640 847 638 845 636 844 635 842 634 841 633 839 633 836 634 834 634 832 635 830 635 828 636 826 637 824 638 823 640 821 641 820 643 819 644 818 646 817 647 817 648 816 649 815 650 815 651 814 652 814 654 813 655 813 656 813 657 813 658 813 659 812 660 812 661 812 662 812 663 812 664 811 665 811 666 811 667 811 668 812 669 812 670 813 671 813 672 813 672 814 673 814 674 815 675 815 676 816 677 817 678 817 679 818 679 819 679 821 680 822 680 823 680 824 680 825Z" fill="#e3e3e3"/>
<path d="M680 826 680 827 680 828 680 829 680 831 680 832 680 833 679 834 679 835 678 836 678 837 677 838 676 839 675 840 675 841 674 842 673 843 672 844 671 845 670 845 668 846 667 846 666 847 665 847 663 848 662 848 660 848 659 849 657 849 655 849 654 849 652 849 650 848 648 848 647 848 645 847 642 847 640 846 639 845 637 843 636 842 635 840 634 838 634 836 634 834 635 832 636 830 636 828 637 826 638 824 639 823 640 821 642 820 644 819 645 818 646 818 647 817 649 816 650 816 651 815 652 814 653 814 654 814 655 813 656 813 657 813 658 813 659 813 660 813 661 812 662 812 663 812 664 812 665 812 666 812 667 812 668 812 669 813 670 813 671 813 671 814 672 814 673 815 674 815 675 816 676 816 677 817 678 818 678 819 678 820 679 821 679 822 679 823 679 824 680 825Z" fill="#d0d0d0"/>
<path d="M679 826 679 827 679 828 679 829 680 830 679 832 679 833 679 834 678 835 678 836 677 837 677 838 676 839 675 840 674 840 673 841 673 842 672 843 671 844 669 844 668 845 667 846 666 846 665 847 663 847 662 848 660 848 659 848 657 848 656 848 654 848 652 848 651 848 649 848 647 847 645 847 643 846 641 845 639 844 638 843 637 841 636 840 635 838 635 836 635 833 636 831 637 829 637 828 638 826 639 824 640 823 641 822 643 821 644 820 646 819 647 818 648 817 649 817 650 816 651 815 652 815 653 814 654 814 655 814 656 814 657 813 658 813 659 813 660 813 661 813 662 813 663 813 664 812 665 812 666 812 667 812 668 813 669 813 670 814 671 814 672 815 673 815 674 816 675 817 676 817 677 818 677 819 678 820 678 821 678 822 679 823 679 824 679 825Z" fill="#b8b8b8"/>
<path d="M678 826 678 827 679 828 679 829 679 830 679 831 678 832 678 833 678 834 677 835 677 836 676 837 675 838 675 839 674 840 673 841 672 842 671 843 670 843 669 844 668 844 667 845 666 846 665 846 663 847 662 847 660 848 659 848 657 848 656 848 654 848 653 848 651 847 649 847 647 847 645 846 644 846 642 845 640 844 639 842 638 841 637 839 636 837 636 835 636 833 637 831 638 829 638 828 639 826 640 824 641 823 642 822 644 821 645 820 646 819 648 818 649 818 650 817 651 816 652 815 653 815 654 814 655 814 656 814 657 814 658 814 659 814 660 813 661 813 662 813 663 813 664 813 665 813 666 813 667 813 668 813 669 814 670 814 671 814 672 815 672 816 673 816 674 817 675 817 675 818 676 819 677 819 677 820 677 821 678 822 678 823 678 824 678 825Z" fill="#9a9a9a"/>
<path d="M678 826 678 827 678 828 678 829 678 830 678 831 678 832 677 833 677 834 676 835 676 836 676 837 675 838 674 839 673 839 673 840 672 841 671 842 670 843 669 843 668 844 667 844 666 845 665 846 663 846 662 847 660 847 659 847 657 847 656 847 654 847 653 847 651 847 649 847 648 846 646 846 644 845 642 844 641 843 640 842 639 840 638 839 637 837 637 835 637 833 638 831 639 829 639 828 640 826 641 825 642 823 643 822 644 821 646 820 647 819 648 819 649 818 650 817 651 817 652 816 653 816 654 815 655 815 656 815 656 814 657 814 658 814 659 814 660 814 661 814 662 814 663 814 664 814 665 813 666 813 667 814 668 814 669 814 670 814 671 815 672 816 673 816 673 817 674 818 675 818 676 819 676 820 676 821 677 821 677 822 678 823 678 824 678 825Z" fill="#767676"/>
<path d="M677 826 677 827 677 828 677 829 677 830 677 831 677 832 676 833 676 834 676 836 675 836 675 837 674 838 673 839 672 840 671 841 670 842 669 843 668 843 667 844 666 845 664 845 663 846 662 846 660 847 659 847 658 847 656 847 655 847 653 847 651 847 650 846 648 846 646 845 645 844 643 844 642 842 641 841 640 840 639 838 638 836 638 835 638 833 639 831 640 829 640 828 641 826 641 825 642 823 644 822 645 821 646 820 648 820 649 819 650 818 651 818 652 817 653 816 654 816 655 815 656 815 657 815 658 814 659 814 660 814 661 814 662 814 663 814 664 814 665 814 666 814 667 814 668 814 669 814 670 815 671 816 672 816 672 817 673 817 674 818 674 819 675 819 675 820 676 821 676 822 677 822 677 823 677 824 677 825Z" fill="#4e4e4e"/>
<path d="M676 826 676 827 676 828 676 829 676 830 676 831 676 832 676 833 675 834 675 835 675 836 674 837 673 838 672 839 671 840 670 840 669 841 669 842 668 843 667 843 666 844 664 845 663 846 662 846 661 846 659 846 658 846 656 846 655 846 653 846 652 846 650 846 648 845 647 845 645 844 644 843 643 842 642 840 641 839 640 838 639 836 639 834 639 832 640 831 641 829 641 827 642 826 642 825 643 823 644 822 646 821 647 821 648 820 649 819 650 819 651 818 652 817 653 817 654 816 655 816 656 815 657 815 658 815 659 815 660 815 661 815 662 815 663 815 664 815 665 815 666 815 667 815 668 815 669 815 670 815 671 816 671 817 672 817 673 818 674 819 674 820 675 820 675 821 676 822 676 823 676 824 676 825Z" fill="#222222"/>
<path d="M676 826 676 827 675 828 675 829 675 830 675 831 675 832 675 833 675 834 675 835 674 836 674 837 673 837 672 838 671 839 670 840 669 840 668 841 667 842 667 843 666 844 664 845 663 845 662 846 661 846 659 846 658 846 657 846 655 846 654 846 652 846 650 845 649 845 647 844 646 843 644 842 643 841 642 840 642 838 641 837 640 836 640 834 640 832 641 830 642 829 642 827 643 826 643 825 644 823 645 822 647 822 648 821 649 820 650 819 651 819 652 818 653 818 653 817 654 817 655 816 656 816 657 815 658 815 659 815 660 815 661 815 662 815 663 815 664 815 665 815 666 815 667 815 668 815 669 815 670 816 671 816 671 817 672 818 673 819 674 820 674 821 675 821 675 822 676 823 676 824 676 825Z" fill="#bcbcbc"/>
<path d="M674 826 674 827 674 828 674 829 674 830 673 831 673 832 673 833 673 834 672 835 672 836 671 836 670 837 669 838 668 839 667 840 666 841 665 841 664 842 663 843 662 843 661 843 660 843 659 843 657 843 656 843 655 843 653 843 652 843 651 842 649 842 648 841 647 840 646 839 645 838 644 837 644 836 643 834 643 833 643 831 644 830 644 828 645 827 645 826 646 825 647 824 647 823 649 822 650 821 651 821 652 820 653 819 654 819 655 818 656 818 656 817 657 817 658 817 659 817 660 817 661 817 662 817 663 817 664 817 665 817 666 817 667 817 668 817 669 817 670 818 671 819 671 820 672 820 672 821 673 821 673 822 674 822 674 823 674 824 674 825Z" fill="#959595"/>
<path d="M673 826 672 827 672 828 672 829 672 830 672 831 672 832 672 833 671 834 670 835 669 835 669 836 668 836 668 837 667 837 666 838 666 839 665 839 664 840 663 840 662 841 661 841 660 841 659 841 658 841 657 841 656 841 655 841 654 841 652 840 651 840 650 839 649 838 648 837 648 836 647 835 646 834 646 833 646 832 646 831 646 829 647 828 647 827 648 826 648 825 649 824 650 823 651 823 652 822 653 821 654 821 655 820 656 820 656 819 657 819 657 818 658 818 659 818 660 818 661 818 662 818 663 818 664 818 665 818 666 818 667 818 668 818 669 819 669 820 670 820 670 821 671 821 671 822 672 822 672 823 672 824 673 824 673 825Z" fill="#7b7b7b"/>
<path d="M671 826 671 827 671 828 671 829 671 830 670 830 670 831 670 832 670 833 669 833 668 834 667 835 666 836 665 836 665 837 664 838 663 838 662 838 661 838 660 838 659 838 658 838 657 838 656 838 655 838 654 838 653 837 652 837 652 836 651 836 650 835 650 834 649 833 649 832 649 831 649 830 649 829 650 828 650 827 650 826 651 825 651 824 652 824 653 823 654 823 654 822 655 822 656 821 657 821 657 820 658 820 659 819 660 819 661 819 662 819 663 819 664 819 665 819 666 819 667 819 667 820 668 820 668 821 669 821 669 822 670 822 670 823 671 823 671 824 671 825Z" fill="#656565"/>
<path d="M669 826 669 827 669 828 669 829 669 830 669 831 668 831 668 832 667 832 667 833 666 833 666 834 665 834 664 835 663 836 662 836 661 836 660 836 659 836 658 836 657 836 656 835 655 835 654 834 653 834 653 833 652 832 652 831 651 830 652 829 652 828 652 827 653 827 653 826 653 825 654 825 654 824 655 824 656 823 657 823 657 822 658 822 659 821 660 821 661 821 662 821 663 821 664 821 665 821 666 821 667 821 667 822 668 822 668 823 669 823 669 824 670 825 669 826Z" fill="#525252"/>
<path d="M668 826 668 827 668 828 668 829 667 829 667 830 666 831 665 831 665 832 664 832 664 833 663 833 662 833 661 833 660 833 659 833 658 833 657 833 656 832 655 831 655 830 654 830 654 829 655 828 655 827 656 826 656 825 657 824 658 824 659 823 660 823 660 822 661 822 662 822 663 822 664 822 665 822 666 822 666 823 667 823 667 824 668 824 668 825 668 826Z" fill="#424242"/>
<path d="M666 826 666 827 666 828 666 829 665 829 665 830 664 830 664 831 663 831 662 831 661 831 660 831 659 831 659 830 658 830 658 829 657 828 658 827 658 826 658 825 659 825 660 825 660 824 661 824 661 823 662 823 663 823 664 823 665 823 665 824 666 824 666 825 666 826Z" fill="#333333"/>
<path d="M665 826 665 827 664 827 664 828 663 828 662 828 661 828 660 827 660 826 661 826 661 825 662 825 663 825 664 825 665 825 665 826Z" fill="#252525"/>
</g>
<g fill="none" stroke="#151515" stroke-width="2" transform="scale(.5)">
<path d="M702 826 701 828 701 831 700 833 698 835 697 838 696 840 695 842 694 844 692 846 691 848 690 849 688 851 687 853 685 855 683 856 682 858 680 860 678 862 676 863 673 864 671 864 668 865 666 865 663 866 661 866 658 867 655 867 652 868 649 868 646 867 643 867 640 867 636 867 632 866 628 866 624 865 621 863 617 862 613 860 610 856 609 853 608 849 608 845 609 841 610 837 612 833 613 829 614 826 616 823 618 820 621 818 622 815 624 813 626 811 628 809 631 807 633 806 635 805 637 803 639 802 641 801 643 800 645 799 647 798 649 797 651 796 653 796 655 795 657 795 659 794 661 794 663 793 665 793 668 792 670 792 672 792 675 792 677 792 680 793 682 794 684 794 687 795 690 796 692 797 694 799 696 801 697 803 699 805 700 808 701 810 701 813 702 816 702 818 702 821 702 823Z"/>
<path d="M690 826 690 828 690 830 690 831 690 833 689 835 688 836 687 838 686 839 685 840 684 842 683 843 682 844 680 846 679 847 678 848 677 850 675 851 674 851 672 852 670 852 669 853 667 853 665 854 663 855 661 855 659 856 657 856 655 857 653 856 651 856 648 856 646 856 643 856 641 855 638 855 635 854 632 853 630 852 628 850 625 848 624 845 624 842 624 839 625 836 625 834 626 831 626 828 627 826 629 824 631 822 633 820 634 818 636 817 637 815 639 814 640 813 642 812 643 811 645 810 646 809 648 808 649 808 651 807 652 806 653 806 655 805 656 804 657 804 659 803 660 803 662 802 663 802 665 802 666 802 668 802 669 803 671 803 673 803 675 803 676 803 678 804 680 805 681 806 682 807 684 808 685 809 687 810 688 811 690 813 690 815 690 817 690 819 690 821 690 822 690 824Z"/>
<path d="M683 826 683 827 683 829 683 830 684 831 683 833 683 834 682 835 681 837 681 838 680 839 679 840 678 841 677 842 676 843 676 844 675 846 673 847 672 847 671 848 669 848 668 849 666 849 665 850 663 850 662 850 660 851 658 851 656 852 655 852 653 851 651 851 649 851 647 850 645 850 643 849 640 849 638 848 636 847 634 845 633 844 631 842 631 840 630 837 631 835 632 832 632 830 633 828 634 826 634 824 636 822 637 821 639 820 641 818 642 817 644 816 645 816 646 815 647 814 649 813 650 813 651 812 652 812 654 812 655 811 656 811 657 811 658 811 659 810 660 810 661 810 662 810 663 810 664 809 665 809 667 809 668 809 669 810 670 810 671 811 672 811 673 812 674 812 675 813 676 813 677 814 678 815 679 815 680 816 681 817 681 819 681 820 682 821 682 822 682 824 682 825Z"/>
<path d="M677 826 677 827 677 828 677 829 677 830 677 831 676 831 676 832 676 833 676 835 676 836 675 837 675 838 674 838 673 839 672 840 671 841 670 842 669 843 668 843 667 844 666 845 665 846 663 847 662 847 660 847 659 847 658 847 656 847 654 847 653 847 651 847 649 847 648 846 646 845 645 844 643 843 642 842 641 841 640 839 639 838 639 836 638 834 639 833 639 831 640 829 641 827 641 826 642 825 643 823 644 822 645 821 646 820 648 820 649 819 650 818 651 817 652 816 653 816 654 815 655 815 655 814 656 814 657 814 658 814 659 814 660 814 661 814 662 814 663 814 664 814 665 814 666 814 667 814 668 814 669 814 670 814 671 815 672 816 673 817 674 818 674 819 675 819 675 820 676 821 677 822 677 823 677 824 677 825Z"/>
</g>
<g fill="none" stroke="#f6f6f6" stroke-width="2.2" transform="scale(.5)">
<path d="M700 826 700 828 699 831 698 833 697 835 696 837 695 839 693 841 692 843 691 845 690 847 689 848 687 850 686 852 684 853 683 855 681 857 679 858 677 860 675 861 673 862 671 863 668 863 666 864 663 864 661 865 658 866 655 866 652 866 650 866 647 866 644 866 640 866 637 865 633 865 629 865 625 864 622 862 618 861 614 859 612 856 610 852 610 848 610 844 610 840 612 836 613 833 614 829 616 826 618 823 620 820 622 818 624 815 626 813 628 811 630 809 632 808 634 807 636 805 638 804 640 803 642 802 644 801 646 800 648 799 649 798 651 797 653 797 655 797 657 796 659 796 661 795 663 795 665 794 667 794 670 793 672 793 674 793 677 794 679 794 681 795 684 795 686 796 689 797 691 798 693 800 695 802 696 804 697 806 699 808 700 811 700 813 700 816 700 819 700 821 700 824Z"/>
<path d="M689 826 689 828 689 829 689 831 688 833 688 834 687 836 685 837 684 838 683 840 682 841 681 842 680 843 679 845 678 846 677 847 676 848 675 849 673 850 671 850 670 851 668 851 667 852 665 853 663 853 661 854 659 854 657 855 655 855 653 855 651 855 649 855 647 855 644 854 642 854 639 854 636 853 633 852 631 851 629 849 627 847 625 845 625 842 625 839 626 836 627 833 627 831 628 828 629 826 630 824 632 822 634 820 636 819 637 817 639 816 640 815 641 813 643 812 645 812 646 811 647 810 649 810 650 809 651 808 653 808 654 807 655 806 656 806 658 805 659 805 660 804 662 804 663 804 665 804 666 804 668 804 669 804 671 804 672 804 674 804 676 804 677 805 679 806 680 807 681 808 683 809 684 810 686 811 687 812 688 814 689 815 689 817 689 819 689 821 689 823 689 824Z"/>
<path d="M681 826 681 827 682 828 682 830 682 831 682 832 682 834 681 835 680 836 679 837 679 838 678 839 677 840 676 841 676 842 675 843 674 844 673 845 671 846 670 846 669 847 667 847 666 848 665 848 663 849 662 849 660 849 658 850 657 850 655 850 653 850 652 850 650 849 648 849 646 849 644 848 641 848 639 847 637 846 635 845 634 843 633 841 632 839 632 837 633 834 633 832 634 830 635 828 635 826 636 824 637 823 639 821 641 820 642 819 644 818 645 817 646 816 647 816 649 815 650 814 651 814 652 813 653 813 654 813 655 813 656 812 657 812 658 812 659 812 660 812 661 811 662 811 663 811 664 811 665 811 666 811 667 811 668 811 669 812 670 812 671 813 672 813 673 814 674 814 675 815 676 815 677 816 678 816 679 817 679 818 680 819 680 820 680 821 680 823 681 824 681 825Z"/>
<path d="M676 826 676 827 675 828 675 829 675 830 675 831 675 832 675 833 675 834 675 835 674 836 674 837 673 837 672 838 671 839 670 840 669 840 668 841 667 842 667 843 666 844 664 845 663 845 662 846 661 846 659 846 658 846 657 846 655 846 654 846 652 846 650 845 649 845 647 844 646 843 644 842 643 841 642 840 642 838 641 837 640 836 640 834 640 832 641 830 642 829 642 827 643 826 643 825 644 823 645 822 647 822 648 821 649 820 650 819 651 819 652 818 653 818 653 817 654 817 655 816 656 816 657 815 658 815 659 815 660 815 661 815 662 815 663 815 664 815 665 815 666 815 667 815 668 815 669 815 670 816 671 816 671 817 672 818 673 819 674 820 674 821 675 821 675 822 676 823 676 824 676 825Z"/>
</g>
</g>
<path transform="scale(.5)" d="M588 929 594 930 598 934 596 940 599 948 605 956 588 956Z" fill="#000"/>
</g>
<g clip-path="url(#pc15)">

<g clip-path="url(#lc16)"><g filter="url(#bl)" transform="scale(.5)">
<path d="M593 837 593 838 593 839 593 840 593 841 592 841 592 842 592 843 591 844 591 845 591 846 590 846 590 847 589 848 588 848 588 849 587 849 586 850 585 850 584 851 583 851 582 851 581 851 580 851 579 850 578 850 577 849 576 849 576 848 575 848 574 847 574 846 573 846 573 845 573 844 572 843 572 842 572 841 571 841 571 840 571 839 571 838 571 837 571 836 571 835 571 834 571 833 572 833 572 832 572 831 573 830 573 829 573 828 574 828 574 827 575 826 576 826 576 825 577 825 578 824 579 824 580 823 581 823 582 823 583 823 584 823 585 824 586 824 587 825 588 825 588 826 589 826 590 827 590 828 591 828 591 829 591 830 592 831 592 832 592 833 593 833 593 834 593 835 593 836Z" fill="#aaaaaa"/>
<path d="M591 837 591 838 591 839 590 840 590 841 590 842 590 843 589 843 589 844 588 845 587 846 586 847 585 847 585 848 584 848 583 848 582 848 581 848 580 848 579 848 579 847 578 847 577 846 576 845 575 844 575 843 574 843 574 842 574 841 574 840 573 839 573 838 573 837 573 836 573 835 574 834 574 833 574 832 574 831 575 831 575 830 576 829 577 828 578 827 579 827 579 826 580 826 581 826 582 826 583 826 584 826 585 826 585 827 586 827 587 828 588 829 589 830 589 831 590 831 590 832 590 833 590 834 591 835 591 836Z" fill="#7b7b7b"/>
<path d="M589 837 589 838 588 838 588 839 588 840 588 841 587 842 587 843 586 843 586 844 585 844 585 845 584 845 583 845 582 845 581 845 580 845 579 845 579 844 578 844 578 843 577 843 577 842 576 841 576 840 576 839 576 838 575 838 575 837 575 836 576 836 576 835 576 834 576 833 577 832 577 831 578 831 578 830 579 830 579 829 580 829 581 829 582 829 583 829 584 829 585 829 585 830 586 830 586 831 587 831 587 832 588 833 588 834 588 835 588 836 589 836 589 837Z" fill="#5a5a5a"/>
<path d="M586 837 586 838 586 839 586 840 585 840 585 841 584 842 583 842 582 843 581 842 580 842 579 841 579 840 578 840 578 839 578 838 578 837 578 836 578 835 578 834 579 834 579 833 580 832 581 832 582 831 583 832 584 832 585 833 585 834 586 834 586 835 586 836 586 837Z" fill="#3f3f3f"/>
<path d="M584 837 584 838 584 839 583 839 583 840 582 840 581 840 581 839 580 839 580 838 580 837 580 836 580 835 581 835 581 834 582 834 583 834 583 835 584 835 584 836 584 837Z" fill="#292929"/>
</g>
<g fill="none" stroke="#151515" stroke-width="2" transform="scale(.5)">
</g>
<g fill="none" stroke="#f6f6f6" stroke-width="2.2" transform="scale(.5)">
</g>
</g>
<path transform="scale(.5)" d="M594 837 594 838 594 839 594 840 594 841 594 842 594 843 593 843 593 844 593 845 592 846 592 847 591 847 591 848 590 849 589 850 588 850 588 851 587 851 586 852 585 852 584 852 583 852 582 852 581 852 580 852 579 852 578 852 577 851 576 851 576 850 575 850 574 849 573 848 573 847 572 847 572 846 571 845 571 844 571 843 570 843 570 842 570 841 570 840 570 839 570 838 570 837 570 836 570 835 570 834 570 833 570 832 570 831 571 831 571 830 571 829 572 828 572 827 573 827 573 826 574 825 575 824 576 824 576 823 577 823 578 822 579 822 580 822 581 822 582 822 583 822 584 822 585 822 586 822 587 823 588 823 588 824 589 824 590 825 591 826 591 827 592 827 592 828 593 829 593 830 593 831 594 831 594 832 594 833 594 834 594 835 594 836Z" fill="none" stroke="#222" stroke-width="2"/>
<path transform="scale(.5)" d="M593 837 593 838 593 839 593 840 593 841 592 841 592 842 592 843 591 844 591 845 591 846 590 846 590 847 589 848 588 848 588 849 587 849 586 850 585 850 584 851 583 851 582 851 581 851 580 851 579 850 578 850 577 849 576 849 576 848 575 848 574 847 574 846 573 846 573 845 573 844 572 843 572 842 572 841 571 841 571 840 571 839 571 838 571 837 571 836 571 835 571 834 571 833 572 833 572 832 572 831 573 830 573 829 573 828 574 828 574 827 575 826 576 826 576 825 577 825 578 824 579 824 580 823 581 823 582 823 583 823 584 823 585 824 586 824 587 825 588 825 588 826 589 826 590 827 590 828 591 828 591 829 591 830 592 831 592 832 592 833 593 833 593 834 593 835 593 836Z" fill="none" stroke="#f4f4f4" stroke-width="2"/>

</g>
<path d="M294.3 288.4L482 288.4" stroke="#333" stroke-width="1.1"/>
<path d="M482 288.4L482 477.5" stroke="#555" stroke-width="1.1"/>
<path d="M294.3 287.9L294.3 483" stroke="#000" stroke-width="1.3"/>
<path d="M288.8 477.5L482 477.5" stroke="#000" stroke-width="1.3"/>
<path d="M289.3 477.5h5M291.3 463.3h3M291.3 454.9h3M291.3 449h3M291.3 444.5h3M291.3 440.7h3M291.3 437.5h3M291.3 434.8h3M291.3 432.4h3M289.3 430.2h5M291.3 416h3M291.3 407.7h3M291.3 401.8h3M291.3 397.2h3M291.3 393.4h3M291.3 390.3h3M291.3 387.5h3M291.3 385.1h3M289.3 382.9h5M291.3 368.7h3M291.3 360.4h3M291.3 354.5h3M291.3 349.9h3M291.3 346.2h3M291.3 343h3M291.3 340.3h3M291.3 337.8h3M289.3 335.7h5M291.3 321.4h3M291.3 313.1h3M291.3 307.2h3M291.3 302.6h3M291.3 298.9h3M291.3 295.7h3M291.3 293h3M291.3 290.6h3M289.3 288.4h5M308.7 477.5v3M316.9 477.5v3M322.7 477.5v3M327.2 477.5v3M330.9 477.5v3M334.1 477.5v3M336.8 477.5v3M339.2 477.5v3M341.3 477.5v5M355.3 477.5v3M363.6 477.5v3M369.4 477.5v3M373.9 477.5v3M377.6 477.5v3M380.8 477.5v3M383.5 477.5v3M385.8 477.5v3M388 477.5v5M402 477.5v3M410.3 477.5v3M416.1 477.5v3M420.6 477.5v3M424.3 477.5v3M427.4 477.5v3M430.1 477.5v3M432.5 477.5v3M434.7 477.5v5M448.7 477.5v3M457 477.5v3M462.8 477.5v3M467.3 477.5v3M471 477.5v3M474.1 477.5v3M476.8 477.5v3M479.2 477.5v3M481.4 477.5v5" stroke="#111" stroke-width="1"/>
<text x="281.1" y="477.4" font-size="9.1" text-anchor="end" fill="#262626">10</text>
<text x="281.7" y="470.2" font-size="8.0" fill="#262626">0</text>
<text x="281.1" y="433.6" font-size="9.1" text-anchor="end" fill="#262626">10</text>
<text x="281.7" y="426.4" font-size="8.0" fill="#262626">1</text>
<text x="281.1" y="386.5" font-size="9.1" text-anchor="end" fill="#262626">10</text>
<text x="281.7" y="379.3" font-size="8.0" fill="#262626">2</text>
<text x="281.1" y="340.2" font-size="9.1" text-anchor="end" fill="#262626">10</text>
<text x="281.7" y="333" font-size="8.0" fill="#262626">3</text>
<text x="281.1" y="305.2" font-size="9.1" text-anchor="end" fill="#262626">10</text>
<text x="281.7" y="298" font-size="8.0" fill="#262626">4</text>
<text x="297.9" y="496.4" font-size="9.1" fill="#262626">10</text>
<text x="308.9" y="490.6" font-size="8.2" fill="#262626">0</text>
<text x="337.3" y="496.4" font-size="9.1" fill="#262626">10</text>
<text x="348.3" y="490.6" font-size="8.2" fill="#262626">1</text>
<text x="384.2" y="496.4" font-size="9.1" fill="#262626">10</text>
<text x="395.2" y="490.6" font-size="8.2" fill="#262626">2</text>
<text x="430.6" y="496.4" font-size="9.1" fill="#262626">10</text>
<text x="441.6" y="490.6" font-size="8.2" fill="#262626">3</text>
<text x="476.2" y="496.4" font-size="9.1" fill="#262626">10</text>
<text x="487.2" y="490.6" font-size="8.2" fill="#262626">4</text>
<path d="M294.3 417L380 373V288.4" fill="none" stroke="#111" stroke-width="1.1"/>
<text x="470.1" y="308.6" font-size="12.1" text-anchor="end" fill="#1a1a1a">12.9%</text>
<text transform="translate(264.3,385) rotate(-90)" font-size="12.6" text-anchor="middle" fill="#111">RL15A-SVG9</text>
<text x="259.8" y="287.4" font-size="25" fill="#000" font-weight="bold">D</text>
<g clip-path="url(#pc17)">

<path transform="scale(.5)" d="M228 1346 226 1349 225 1352 223 1355 221 1358 220 1361 218 1363 217 1366 215 1368 213 1370 212 1373 210 1375 208 1377 207 1380 205 1382 203 1385 201 1387 199 1390 196 1393 194 1395 191 1398 188 1400 185 1403 181 1406 177 1408 173 1410 168 1413 163 1416 156 1426 147 1435 137 1442 130 1442 121 1442 113 1442 103 1442 96 1438 92 1431 92 1421 92 1411 92 1403 92 1395 92 1388 92 1381 92 1375 92 1369 92 1363 92 1357 92 1352 92 1346 92 1340 92 1335 92 1329 96 1324 101 1320 107 1317 113 1314 117 1311 121 1309 125 1306 129 1304 132 1301 136 1299 139 1297 142 1294 146 1292 149 1289 152 1286 155 1282 159 1278 162 1273 167 1270 172 1271 177 1272 182 1272 187 1270 193 1267 198 1268 202 1272 205 1277 208 1282 212 1286 215 1289 219 1291 223 1294 226 1297 229 1300 231 1304 233 1309 234 1313 235 1318 235 1322 234 1327 233 1331 232 1335 231 1339 229 1343Z" fill="#000"/>
<g clip-path="url(#lc18)"><g filter="url(#bl)" transform="scale(.5)">
<path d="M228 1346 226 1349 225 1352 223 1355 221 1358 220 1361 218 1363 217 1366 215 1368 213 1370 212 1373 210 1375 208 1377 207 1380 205 1382 203 1385 201 1387 199 1390 196 1393 194 1395 191 1398 188 1400 185 1403 181 1406 177 1408 173 1410 168 1413 163 1416 156 1426 147 1435 137 1442 130 1442 121 1442 113 1442 103 1442 96 1438 92 1431 92 1421 92 1411 92 1403 92 1395 92 1388 92 1381 92 1375 92 1369 92 1363 92 1357 92 1352 92 1346 92 1340 92 1335 92 1329 96 1324 101 1320 107 1317 113 1314 117 1311 121 1309 125 1306 129 1304 132 1301 136 1299 139 1297 142 1294 146 1292 149 1289 152 1286 155 1282 159 1278 162 1273 167 1270 172 1271 177 1272 182 1272 187 1270 193 1267 198 1268 202 1272 205 1277 208 1282 212 1286 215 1289 219 1291 223 1294 226 1297 229 1300 231 1304 233 1309 234 1313 235 1318 235 1322 234 1327 233 1331 232 1335 231 1339 229 1343Z" fill="#f0f0f0"/>
<path d="M226 1346 225 1349 223 1352 222 1355 220 1358 219 1360 217 1363 216 1365 214 1367 213 1370 211 1372 209 1374 208 1377 206 1379 204 1381 202 1384 200 1386 198 1389 196 1391 193 1394 190 1396 188 1399 184 1402 181 1404 177 1406 173 1408 168 1411 163 1414 156 1423 148 1431 139 1438 132 1438 124 1438 116 1438 107 1438 100 1434 96 1427 96 1417 95 1409 95 1401 95 1393 95 1386 95 1380 95 1374 95 1368 95 1362 95 1357 95 1351 95 1346 95 1341 95 1335 96 1330 99 1325 104 1321 110 1318 115 1315 119 1313 123 1310 127 1308 131 1305 134 1303 137 1301 141 1298 144 1296 147 1294 150 1292 153 1289 156 1285 160 1281 163 1276 168 1274 172 1274 177 1276 182 1275 187 1273 192 1271 197 1272 201 1275 204 1280 207 1285 211 1288 214 1290 218 1293 222 1295 225 1298 228 1302 230 1306 231 1310 232 1314 233 1318 233 1323 232 1327 231 1331 230 1335 229 1339 228 1343Z" fill="#ececec"/>
<path d="M225 1346 223 1349 222 1352 221 1355 219 1357 217 1360 216 1362 214 1364 213 1367 212 1369 210 1371 208 1374 207 1376 205 1378 203 1380 202 1383 200 1385 198 1388 195 1390 193 1392 190 1395 187 1398 184 1400 181 1402 177 1404 173 1406 169 1409 164 1412 157 1420 149 1427 141 1433 134 1433 127 1433 119 1433 110 1433 104 1429 100 1423 99 1414 99 1406 99 1398 98 1391 98 1385 98 1379 98 1373 98 1367 97 1362 97 1356 97 1351 98 1346 98 1341 98 1336 99 1330 102 1326 107 1322 112 1319 117 1316 121 1314 125 1311 129 1309 132 1307 136 1305 139 1302 142 1300 145 1298 148 1296 151 1294 154 1291 157 1288 160 1284 164 1280 168 1278 173 1278 177 1279 181 1279 186 1277 191 1275 196 1275 200 1278 203 1283 206 1287 209 1290 213 1292 217 1294 220 1297 223 1300 226 1303 228 1307 230 1311 231 1315 231 1319 231 1324 230 1328 230 1332 229 1336 228 1339 226 1343Z" fill="#e6e6e6"/>
<path d="M223 1346 222 1349 221 1352 219 1354 218 1357 216 1359 215 1362 213 1364 212 1366 211 1368 209 1371 208 1373 206 1375 204 1377 203 1379 201 1382 199 1384 197 1387 195 1389 192 1391 190 1394 187 1396 184 1399 181 1401 177 1402 173 1405 169 1407 164 1410 158 1417 151 1423 143 1429 136 1429 129 1429 122 1429 114 1428 108 1425 104 1419 103 1411 103 1403 102 1396 102 1390 101 1383 101 1378 101 1372 100 1367 100 1361 100 1356 100 1351 100 1346 101 1341 101 1336 102 1331 105 1327 110 1323 115 1320 119 1317 123 1315 127 1313 131 1310 134 1308 137 1306 140 1304 143 1302 146 1300 149 1298 152 1296 155 1294 158 1291 161 1287 165 1283 169 1282 173 1282 177 1282 181 1282 186 1280 190 1279 195 1279 199 1282 202 1286 205 1289 208 1292 212 1294 215 1296 219 1298 222 1301 225 1304 227 1308 228 1312 229 1316 229 1320 229 1324 229 1328 228 1332 227 1336 226 1340 225 1343Z" fill="#dcdcdc"/>
<path d="M222 1346 221 1349 219 1352 218 1354 217 1357 215 1359 214 1361 212 1363 211 1366 210 1368 208 1370 207 1372 205 1374 204 1376 202 1379 200 1381 198 1383 196 1385 194 1388 192 1390 189 1392 187 1395 184 1397 180 1399 177 1401 173 1403 169 1405 165 1407 159 1414 152 1420 145 1424 138 1424 132 1424 125 1424 118 1424 112 1420 108 1415 107 1407 106 1400 105 1394 105 1388 104 1382 104 1376 103 1371 103 1366 103 1361 103 1356 103 1351 103 1346 104 1341 104 1336 105 1332 108 1328 112 1324 117 1321 121 1319 125 1316 129 1314 132 1312 136 1310 139 1308 142 1306 145 1304 148 1302 151 1300 154 1299 156 1296 159 1294 162 1290 165 1287 169 1285 173 1285 177 1286 181 1286 185 1284 190 1282 194 1283 198 1285 201 1289 204 1292 207 1294 211 1296 214 1298 218 1300 221 1302 223 1305 225 1309 226 1313 227 1317 227 1321 227 1325 227 1329 226 1333 225 1336 224 1340 223 1343Z" fill="#d0d0d0"/>
<path d="M220 1346 219 1349 218 1351 217 1354 215 1356 214 1359 213 1361 211 1363 210 1365 209 1367 207 1369 206 1371 204 1373 203 1376 201 1378 200 1380 198 1382 196 1384 194 1386 191 1389 189 1391 186 1393 184 1395 180 1397 177 1399 173 1401 169 1403 165 1405 160 1411 153 1416 146 1420 141 1420 134 1420 128 1419 121 1419 116 1416 112 1411 111 1404 110 1398 109 1392 108 1386 107 1380 107 1375 106 1370 106 1365 106 1360 106 1355 106 1351 106 1346 107 1341 107 1337 108 1332 111 1328 115 1325 120 1322 124 1320 127 1317 131 1315 134 1313 137 1311 141 1310 143 1308 146 1306 149 1304 152 1303 155 1301 158 1299 160 1297 163 1294 166 1291 169 1289 173 1289 177 1289 181 1289 185 1288 189 1286 193 1286 197 1288 200 1291 203 1294 206 1296 209 1298 213 1299 216 1301 219 1304 222 1307 224 1310 225 1314 226 1318 226 1322 226 1326 225 1330 224 1333 224 1337 223 1340 221 1343Z" fill="#c0c0c0"/>
<path d="M219 1346 218 1349 217 1351 215 1354 214 1356 213 1358 212 1360 210 1362 209 1364 208 1367 206 1369 205 1371 204 1373 202 1375 201 1377 199 1379 197 1381 195 1383 193 1385 191 1387 189 1390 186 1392 183 1394 180 1396 177 1397 174 1399 170 1401 166 1403 160 1408 155 1412 148 1416 143 1415 137 1415 131 1415 125 1414 120 1411 116 1407 115 1401 113 1395 112 1389 111 1384 110 1379 110 1374 109 1369 109 1364 108 1360 108 1355 108 1350 109 1346 109 1342 110 1337 112 1333 114 1329 118 1326 122 1323 126 1321 129 1319 133 1316 136 1315 139 1313 142 1311 145 1310 148 1308 151 1306 153 1305 156 1303 159 1302 161 1299 164 1297 167 1294 170 1293 173 1292 177 1293 181 1293 184 1291 188 1290 192 1290 195 1292 198 1294 201 1297 205 1298 208 1299 212 1301 215 1303 218 1305 220 1308 222 1311 223 1315 224 1319 224 1323 224 1327 223 1330 223 1334 222 1337 221 1340 220 1343Z" fill="#adadad"/>
<path d="M217 1346 216 1349 215 1351 214 1353 213 1356 212 1358 210 1360 209 1362 208 1364 207 1366 205 1368 204 1370 203 1372 201 1374 200 1376 198 1378 197 1380 195 1382 193 1384 191 1386 188 1388 186 1390 183 1392 180 1394 177 1396 174 1397 170 1399 166 1401 161 1405 156 1408 150 1411 145 1411 140 1411 134 1410 128 1409 124 1407 120 1403 118 1397 117 1392 116 1387 115 1382 114 1377 113 1373 112 1368 112 1364 111 1359 111 1355 111 1350 112 1346 112 1342 113 1338 115 1334 117 1330 121 1327 125 1324 128 1322 131 1320 135 1318 138 1316 141 1314 144 1313 147 1311 149 1310 152 1308 154 1307 157 1306 160 1304 162 1302 165 1300 167 1298 170 1296 174 1296 177 1296 180 1296 184 1295 187 1294 191 1294 194 1295 197 1297 200 1299 204 1300 207 1301 210 1303 214 1304 217 1306 219 1309 221 1313 222 1316 222 1320 222 1324 222 1327 222 1331 221 1334 220 1337 219 1340 218 1343Z" fill="#969696"/>
<path d="M216 1346 215 1348 214 1351 213 1353 212 1355 211 1357 209 1359 208 1361 207 1363 206 1365 205 1367 203 1369 202 1371 201 1373 199 1375 198 1377 196 1379 194 1381 192 1383 190 1385 188 1387 186 1389 183 1391 180 1392 177 1394 174 1396 170 1397 167 1399 162 1402 157 1404 152 1407 147 1407 142 1406 137 1406 132 1405 128 1402 124 1399 122 1394 121 1389 119 1385 118 1380 117 1376 116 1371 115 1367 115 1363 114 1359 114 1354 114 1350 115 1346 115 1342 116 1338 118 1334 121 1331 124 1328 127 1325 130 1323 133 1321 137 1319 140 1317 143 1316 145 1314 148 1313 151 1312 153 1310 156 1309 158 1308 161 1307 163 1305 165 1303 168 1301 171 1300 174 1300 177 1300 180 1299 183 1298 187 1297 190 1297 193 1298 196 1300 199 1301 202 1302 206 1303 209 1304 212 1306 215 1308 218 1310 219 1314 220 1317 220 1321 220 1325 220 1328 220 1331 219 1335 219 1338 218 1341 217 1343Z" fill="#7d7d7d"/>
<path d="M214 1346 213 1348 212 1351 211 1353 210 1355 209 1357 208 1359 207 1361 206 1363 205 1365 204 1366 202 1368 201 1370 200 1372 198 1374 197 1376 195 1378 194 1380 192 1382 190 1384 188 1386 185 1388 183 1389 180 1391 177 1392 174 1394 171 1395 167 1396 163 1399 158 1401 154 1402 149 1402 145 1402 140 1401 136 1400 132 1398 128 1395 126 1391 124 1387 123 1382 121 1378 120 1374 119 1370 118 1366 117 1362 117 1358 116 1354 117 1350 117 1346 118 1342 119 1338 121 1335 124 1332 127 1329 130 1326 132 1324 135 1322 139 1320 142 1319 144 1317 147 1316 150 1315 152 1314 155 1312 157 1311 159 1310 162 1309 164 1308 166 1306 169 1305 171 1304 174 1303 177 1303 180 1303 183 1302 186 1301 189 1301 192 1302 195 1303 198 1304 201 1304 204 1305 208 1306 211 1307 214 1309 216 1312 218 1315 218 1318 219 1322 219 1325 218 1329 218 1332 218 1335 217 1338 216 1341 215 1343Z" fill="#606060"/>
<path d="M213 1346 212 1348 211 1350 210 1353 209 1355 208 1357 207 1359 206 1360 205 1362 204 1364 203 1366 202 1368 200 1369 199 1371 198 1373 196 1375 195 1377 193 1379 191 1380 189 1382 187 1384 185 1386 183 1388 180 1389 177 1391 174 1392 171 1393 167 1394 164 1396 160 1397 156 1398 152 1398 147 1397 143 1396 139 1395 135 1393 132 1391 130 1387 128 1384 126 1380 124 1376 123 1373 122 1369 121 1365 120 1361 119 1357 119 1354 119 1350 120 1346 121 1342 123 1339 124 1336 127 1333 129 1330 132 1327 135 1325 138 1323 141 1322 143 1320 146 1319 149 1318 151 1317 154 1316 156 1314 158 1313 161 1313 163 1312 165 1311 167 1309 169 1308 172 1307 174 1307 177 1307 180 1306 182 1306 185 1305 188 1305 191 1305 194 1306 197 1306 200 1306 203 1307 207 1307 210 1309 213 1310 215 1313 216 1316 217 1319 217 1323 217 1326 217 1330 216 1333 216 1336 215 1338 215 1341 214 1344Z" fill="#404040"/>
<path d="M211 1346 210 1348 210 1350 209 1352 208 1354 207 1356 206 1358 205 1360 204 1362 203 1363 202 1365 201 1367 200 1369 198 1370 197 1372 196 1374 194 1376 192 1377 191 1379 189 1381 187 1383 185 1385 182 1386 180 1388 177 1389 174 1390 171 1391 168 1392 165 1393 161 1393 157 1393 154 1393 150 1393 146 1392 143 1391 139 1389 136 1387 134 1384 131 1381 129 1378 128 1374 126 1371 125 1368 124 1364 123 1360 122 1357 122 1353 122 1350 123 1346 124 1343 126 1339 127 1336 130 1333 132 1331 135 1328 137 1326 140 1324 142 1323 145 1322 148 1321 150 1319 153 1318 155 1317 157 1316 159 1316 162 1315 164 1314 166 1313 168 1313 170 1312 172 1311 175 1311 177 1310 179 1310 182 1309 184 1309 187 1308 190 1308 193 1308 196 1308 199 1308 202 1309 205 1309 209 1310 211 1312 213 1314 215 1317 215 1320 215 1324 215 1327 215 1330 214 1333 214 1336 214 1339 213 1341 212 1344Z" fill="#1d1d1d"/>
<path d="M210 1346 209 1348 208 1350 208 1352 207 1354 206 1356 205 1358 204 1359 203 1361 202 1363 201 1364 200 1366 199 1368 198 1370 196 1371 195 1373 193 1375 192 1376 190 1378 188 1380 187 1382 184 1383 182 1385 180 1386 177 1387 174 1388 171 1389 168 1390 165 1390 162 1389 159 1389 156 1389 153 1388 149 1387 146 1386 143 1384 140 1383 138 1381 135 1378 133 1375 131 1373 129 1370 128 1366 127 1363 126 1360 125 1356 125 1353 125 1349 126 1346 127 1343 129 1340 131 1337 133 1334 135 1332 137 1329 139 1327 142 1326 144 1324 147 1323 150 1322 152 1321 154 1320 157 1319 159 1319 161 1318 163 1317 165 1317 167 1316 169 1316 171 1315 173 1315 175 1314 177 1314 179 1313 181 1313 184 1312 186 1312 189 1312 191 1311 194 1311 198 1310 201 1310 204 1311 207 1312 210 1313 212 1315 213 1318 214 1322 214 1325 213 1328 213 1331 213 1334 212 1337 212 1339 211 1341 211 1344Z" fill="#eeeeee"/>
<path d="M209 1346 208 1348 207 1350 207 1352 206 1354 205 1356 204 1357 203 1359 202 1361 201 1362 200 1364 199 1365 198 1367 197 1369 196 1370 194 1372 193 1374 191 1375 190 1377 188 1378 186 1380 184 1382 182 1383 180 1384 177 1385 174 1387 172 1387 169 1388 166 1388 163 1388 160 1387 157 1387 153 1387 150 1386 147 1385 144 1383 142 1381 139 1380 136 1377 134 1375 132 1372 130 1369 129 1366 127 1363 127 1359 126 1356 126 1353 126 1349 127 1346 128 1343 130 1340 132 1337 134 1335 136 1332 138 1330 140 1328 143 1326 145 1325 148 1324 151 1323 153 1322 155 1321 157 1320 159 1319 161 1319 163 1318 165 1318 167 1317 169 1317 171 1316 173 1316 175 1315 177 1314 179 1314 181 1314 184 1313 186 1313 188 1313 191 1312 194 1312 197 1311 200 1311 203 1312 206 1313 209 1314 211 1316 212 1319 213 1322 213 1325 212 1329 212 1331 212 1334 212 1337 211 1339 211 1342 210 1344Z" fill="#e3e3e3"/>
<path d="M208 1346 207 1348 207 1350 206 1352 205 1354 204 1355 204 1357 202 1359 201 1360 200 1362 199 1363 198 1365 197 1366 196 1368 195 1370 194 1371 192 1373 191 1374 189 1376 188 1377 186 1379 184 1380 182 1382 179 1383 177 1384 174 1385 172 1386 169 1386 166 1386 163 1386 161 1386 158 1386 154 1385 151 1384 148 1383 146 1382 143 1380 140 1379 137 1377 135 1374 133 1372 131 1369 129 1366 128 1363 128 1359 127 1356 127 1353 128 1349 129 1346 130 1343 131 1340 133 1337 136 1335 138 1333 140 1331 142 1329 144 1327 147 1326 149 1325 151 1324 154 1323 156 1322 158 1321 160 1320 162 1320 164 1319 166 1318 167 1318 169 1317 171 1317 173 1316 175 1316 177 1315 179 1315 181 1314 183 1314 186 1314 188 1313 191 1313 193 1313 196 1312 199 1312 202 1313 205 1314 208 1315 210 1317 211 1320 212 1323 212 1326 211 1329 211 1332 211 1334 211 1337 210 1339 210 1342 209 1344Z" fill="#d0d0d0"/>
<path d="M207 1346 207 1348 206 1350 205 1352 205 1353 204 1355 203 1357 202 1358 201 1360 200 1361 199 1363 198 1364 197 1366 196 1367 194 1369 193 1370 192 1372 190 1373 189 1374 187 1376 185 1377 184 1379 181 1380 179 1381 177 1382 175 1383 172 1384 169 1384 167 1385 164 1384 161 1384 158 1384 155 1384 152 1383 149 1382 147 1381 144 1379 141 1378 138 1376 136 1373 134 1371 132 1368 130 1365 129 1362 128 1359 128 1356 128 1352 129 1349 130 1346 131 1343 133 1340 135 1338 137 1335 139 1333 141 1331 143 1329 145 1328 148 1326 150 1325 152 1324 154 1323 156 1323 158 1322 160 1321 162 1320 164 1320 166 1319 168 1319 170 1318 171 1318 173 1317 175 1317 177 1316 179 1316 181 1315 183 1315 185 1315 188 1314 190 1314 193 1314 196 1313 199 1313 202 1314 204 1315 207 1316 209 1318 210 1321 211 1323 211 1326 211 1329 210 1332 210 1335 210 1337 210 1340 209 1342 208 1344Z" fill="#b8b8b8"/>
<path d="M207 1346 206 1348 205 1350 204 1351 204 1353 203 1355 202 1356 201 1358 200 1359 199 1361 198 1362 197 1363 196 1365 195 1366 194 1368 193 1369 191 1371 190 1372 188 1373 187 1375 185 1376 183 1377 181 1378 179 1379 177 1380 175 1381 172 1382 170 1383 167 1383 165 1383 162 1383 159 1382 156 1382 153 1382 150 1381 148 1379 145 1378 142 1377 139 1375 137 1373 135 1370 133 1368 131 1365 130 1362 129 1359 129 1356 129 1352 130 1349 131 1346 133 1343 134 1340 136 1338 138 1336 140 1334 142 1332 144 1330 147 1328 149 1327 151 1326 153 1325 155 1324 157 1323 159 1323 161 1322 163 1321 164 1321 166 1320 168 1319 170 1319 172 1318 173 1318 175 1317 177 1317 179 1316 181 1316 183 1316 185 1316 187 1315 190 1315 192 1315 195 1314 198 1314 201 1315 203 1316 206 1317 208 1319 209 1321 210 1324 210 1327 210 1330 210 1333 209 1335 209 1337 209 1340 208 1342 207 1344Z" fill="#9a9a9a"/>
<path d="M206 1346 205 1348 204 1350 204 1351 203 1353 202 1355 201 1356 200 1357 199 1359 198 1360 197 1362 196 1363 195 1364 194 1366 193 1367 192 1368 191 1370 189 1371 188 1372 186 1373 185 1375 183 1376 181 1377 179 1378 177 1379 175 1380 172 1381 170 1381 168 1381 165 1381 163 1381 160 1381 157 1381 154 1380 151 1379 149 1378 146 1377 143 1376 140 1374 138 1372 136 1370 134 1367 132 1365 131 1362 130 1359 130 1355 131 1352 132 1349 133 1346 134 1343 136 1341 137 1338 140 1336 142 1334 144 1332 146 1331 148 1329 150 1328 152 1327 154 1326 156 1325 158 1324 160 1323 161 1323 163 1322 165 1321 167 1321 168 1320 170 1320 172 1319 173 1319 175 1318 177 1318 179 1317 181 1317 183 1317 185 1316 187 1316 189 1316 192 1316 195 1315 197 1315 200 1316 202 1317 205 1318 207 1320 208 1322 209 1325 209 1328 209 1330 209 1333 209 1335 208 1338 208 1340 207 1342 207 1344Z" fill="#767676"/>
<path d="M205 1346 204 1348 204 1350 203 1351 202 1353 201 1354 201 1356 200 1357 198 1358 197 1360 196 1361 196 1362 195 1364 193 1365 192 1366 191 1367 190 1369 189 1370 187 1371 186 1372 184 1373 183 1374 181 1375 179 1376 177 1377 175 1378 173 1379 170 1379 168 1379 166 1379 163 1379 161 1379 158 1379 155 1379 152 1378 150 1377 147 1376 144 1375 142 1373 139 1371 137 1369 134 1367 133 1364 132 1361 131 1358 131 1355 132 1352 133 1349 134 1346 135 1343 137 1341 139 1338 141 1336 143 1335 145 1333 147 1331 149 1330 151 1329 153 1327 155 1326 157 1326 158 1325 160 1324 162 1323 164 1323 165 1322 167 1322 169 1321 170 1321 172 1320 173 1319 175 1319 177 1318 179 1318 181 1318 183 1318 185 1317 187 1317 189 1317 192 1317 194 1316 197 1316 199 1317 202 1318 204 1319 206 1321 207 1323 208 1325 208 1328 208 1331 208 1333 208 1336 208 1338 207 1340 207 1342 206 1344Z" fill="#4e4e4e"/>
<path d="M204 1346 204 1348 203 1349 202 1351 201 1353 201 1354 200 1355 199 1357 198 1358 197 1359 196 1360 195 1362 194 1363 193 1364 192 1365 191 1367 190 1368 188 1369 187 1370 185 1371 184 1372 182 1373 181 1373 179 1374 177 1375 175 1376 173 1377 171 1378 168 1378 166 1378 164 1378 161 1378 159 1378 156 1377 153 1377 151 1376 148 1375 146 1374 143 1372 140 1371 137 1369 135 1367 134 1364 132 1361 132 1358 132 1355 133 1352 134 1349 136 1346 137 1343 138 1341 140 1339 142 1337 145 1335 147 1333 148 1332 150 1331 152 1329 154 1328 156 1327 157 1326 159 1326 161 1325 163 1324 164 1324 166 1323 167 1322 169 1322 170 1321 172 1321 174 1320 175 1320 177 1319 179 1319 181 1319 182 1318 184 1318 186 1318 189 1318 191 1318 194 1317 196 1317 198 1318 201 1319 203 1320 205 1322 206 1324 207 1326 207 1329 207 1331 207 1334 207 1336 207 1338 206 1340 206 1342 205 1344Z" fill="#222222"/>
<path d="M203 1346 203 1348 202 1349 201 1351 201 1352 200 1354 199 1355 198 1356 197 1358 196 1359 195 1360 194 1361 193 1362 192 1363 191 1364 190 1366 189 1367 188 1368 186 1369 185 1370 184 1370 182 1371 180 1372 179 1373 177 1374 175 1375 173 1375 171 1376 169 1376 167 1376 165 1376 162 1376 160 1376 157 1376 154 1375 152 1375 149 1374 147 1373 144 1372 141 1370 138 1368 136 1366 134 1364 133 1361 133 1358 133 1355 134 1352 136 1349 137 1346 138 1343 140 1341 142 1339 144 1337 146 1335 148 1334 150 1333 152 1331 153 1330 155 1329 156 1328 158 1327 160 1326 161 1326 163 1325 165 1325 166 1324 168 1323 169 1323 171 1322 172 1322 174 1321 175 1320 177 1320 179 1320 180 1320 182 1319 184 1319 186 1319 188 1319 191 1318 193 1318 195 1318 198 1319 200 1320 202 1321 204 1323 205 1324 206 1327 206 1329 206 1332 206 1334 206 1336 206 1338 206 1340 205 1342 204 1344Z" fill="#eeeeee"/>
<path d="M203 1346 202 1348 201 1349 201 1351 200 1352 199 1354 198 1355 197 1356 196 1357 195 1358 195 1359 194 1361 193 1362 192 1363 191 1364 190 1365 189 1366 187 1367 186 1368 185 1369 183 1369 182 1370 180 1371 179 1372 177 1373 175 1374 173 1374 171 1375 169 1375 167 1375 165 1375 163 1375 160 1375 158 1375 155 1375 153 1374 150 1373 147 1372 144 1371 142 1370 139 1368 137 1366 135 1363 134 1361 133 1358 134 1355 135 1352 136 1349 138 1346 139 1344 141 1341 142 1339 145 1337 147 1336 149 1334 150 1333 152 1332 154 1330 155 1329 157 1328 159 1328 160 1327 162 1326 163 1326 165 1325 166 1325 168 1324 169 1323 171 1323 172 1322 174 1322 175 1321 177 1321 179 1320 180 1320 182 1320 184 1320 186 1320 188 1319 190 1319 193 1319 195 1319 197 1320 199 1321 201 1322 203 1323 205 1325 205 1327 206 1330 205 1332 205 1334 205 1336 205 1338 205 1340 204 1342 204 1344Z" fill="#e3e3e3"/>
<path d="M202 1346 202 1348 201 1349 200 1351 199 1352 199 1353 198 1355 197 1356 196 1357 195 1358 194 1359 193 1360 192 1361 191 1362 190 1363 189 1364 188 1365 187 1366 186 1367 184 1368 183 1369 182 1369 180 1370 179 1371 177 1372 175 1373 173 1373 171 1374 169 1374 167 1374 165 1374 163 1374 161 1375 158 1374 156 1374 153 1373 150 1373 148 1372 145 1371 142 1369 140 1368 137 1366 136 1363 135 1360 134 1357 135 1354 136 1351 137 1349 138 1346 140 1344 141 1341 143 1339 145 1338 148 1336 149 1335 151 1333 153 1332 154 1331 156 1330 157 1329 159 1328 161 1327 162 1327 164 1326 165 1326 167 1325 168 1325 170 1324 171 1323 172 1323 174 1322 175 1322 177 1321 179 1321 180 1321 182 1320 184 1320 186 1320 188 1320 190 1320 192 1320 195 1320 197 1320 199 1321 201 1322 203 1324 204 1325 205 1327 205 1330 205 1332 205 1334 205 1337 205 1339 204 1341 204 1342 203 1344Z" fill="#d0d0d0"/>
<path d="M202 1346 201 1348 200 1349 199 1350 199 1352 198 1353 197 1354 196 1355 195 1357 194 1358 194 1359 193 1360 192 1361 191 1362 190 1363 189 1364 188 1365 187 1365 185 1366 184 1367 183 1368 181 1368 180 1369 179 1370 177 1371 175 1372 174 1372 172 1373 170 1373 168 1373 166 1373 163 1374 161 1374 159 1374 156 1373 154 1373 151 1372 148 1371 145 1370 143 1369 140 1367 138 1365 136 1363 135 1360 135 1357 136 1354 137 1351 138 1349 139 1346 141 1344 142 1341 144 1339 146 1338 148 1336 150 1335 152 1334 154 1332 155 1331 156 1330 158 1329 160 1329 161 1328 163 1327 164 1327 166 1326 167 1326 168 1325 170 1325 171 1324 173 1323 174 1323 175 1322 177 1322 179 1322 180 1321 182 1321 184 1321 186 1321 187 1321 190 1321 192 1320 194 1320 196 1321 198 1322 200 1323 202 1324 203 1326 204 1328 204 1330 204 1333 204 1335 204 1337 204 1339 204 1341 203 1343 202 1344Z" fill="#b8b8b8"/>
<path d="M201 1346 200 1348 200 1349 199 1350 198 1352 197 1353 197 1354 196 1355 195 1356 194 1357 193 1358 192 1359 191 1360 190 1361 189 1362 188 1363 187 1364 186 1365 185 1365 184 1366 183 1367 181 1368 180 1368 179 1369 177 1370 175 1371 174 1371 172 1372 170 1372 168 1372 166 1373 164 1373 161 1373 159 1373 157 1373 154 1372 152 1371 149 1371 146 1370 143 1369 141 1367 138 1365 137 1363 136 1360 136 1357 136 1354 138 1351 139 1349 140 1346 141 1344 143 1342 145 1340 147 1338 149 1337 151 1335 153 1334 154 1333 156 1332 157 1331 159 1330 160 1329 162 1328 163 1328 165 1327 166 1327 167 1326 169 1326 170 1325 171 1325 173 1324 174 1324 175 1323 177 1323 179 1322 180 1322 182 1322 184 1322 185 1321 187 1321 189 1321 191 1321 194 1321 196 1322 198 1322 200 1323 201 1325 203 1326 204 1328 204 1330 204 1333 204 1335 203 1337 203 1339 203 1341 203 1343 202 1344Z" fill="#9a9a9a"/>
<path d="M201 1346 200 1347 199 1349 198 1350 197 1351 197 1353 196 1354 195 1355 194 1356 193 1357 193 1358 192 1359 191 1360 190 1360 189 1361 188 1362 187 1363 186 1364 185 1365 184 1365 182 1366 181 1367 180 1368 178 1368 177 1369 175 1370 174 1370 172 1371 170 1371 168 1371 166 1372 164 1372 162 1372 160 1372 157 1372 155 1371 152 1371 149 1370 147 1369 144 1368 141 1367 139 1365 137 1362 137 1360 137 1357 137 1354 138 1351 140 1348 141 1346 142 1344 144 1342 146 1340 148 1338 150 1337 152 1336 153 1334 155 1333 156 1332 158 1331 159 1330 161 1330 162 1329 164 1328 165 1328 166 1327 168 1327 169 1326 170 1326 171 1325 173 1325 174 1324 176 1324 177 1323 179 1323 180 1322 182 1322 183 1322 185 1322 187 1322 189 1322 191 1322 193 1322 195 1322 197 1323 199 1324 201 1325 202 1327 203 1329 203 1331 203 1333 203 1335 203 1337 203 1339 202 1341 202 1343 201 1344Z" fill="#767676"/>
<path d="M200 1346 199 1347 198 1349 197 1350 197 1351 196 1352 195 1354 195 1355 194 1356 193 1357 192 1358 191 1358 190 1359 189 1360 188 1361 187 1361 186 1362 185 1363 184 1364 183 1364 182 1365 181 1366 180 1367 178 1367 177 1368 176 1369 174 1369 172 1370 171 1370 169 1370 167 1371 165 1371 162 1371 160 1371 158 1371 155 1371 153 1370 150 1370 147 1369 144 1368 142 1366 140 1364 138 1362 137 1359 137 1357 138 1354 139 1351 140 1348 142 1346 143 1344 145 1342 147 1340 149 1338 151 1337 152 1336 154 1335 155 1334 157 1333 158 1332 160 1331 161 1330 163 1330 164 1329 165 1328 167 1328 168 1327 169 1327 170 1326 172 1326 173 1325 174 1325 176 1324 177 1324 178 1323 180 1323 182 1323 183 1323 185 1323 187 1323 189 1323 191 1323 193 1323 195 1323 197 1323 199 1324 200 1326 201 1327 202 1329 203 1331 203 1333 202 1335 202 1337 202 1339 202 1341 201 1343 201 1344Z" fill="#4e4e4e"/>
<path d="M199 1346 198 1347 198 1349 197 1350 196 1351 195 1352 195 1353 194 1354 193 1355 192 1356 192 1357 191 1358 190 1359 189 1359 188 1360 187 1361 186 1361 185 1362 184 1363 183 1364 182 1364 181 1365 180 1366 178 1367 177 1367 176 1368 174 1368 173 1369 171 1369 169 1369 167 1370 165 1370 163 1371 161 1371 158 1370 156 1370 153 1370 150 1369 148 1369 145 1367 142 1366 140 1364 139 1362 138 1359 138 1356 139 1354 140 1351 141 1348 142 1346 144 1344 146 1342 148 1340 150 1339 152 1337 153 1336 155 1335 156 1334 157 1333 159 1332 160 1331 162 1331 163 1330 164 1330 166 1329 167 1329 168 1328 169 1328 171 1327 172 1327 173 1326 174 1326 176 1325 177 1325 178 1324 180 1324 181 1323 183 1323 185 1323 186 1323 188 1323 190 1323 192 1323 194 1323 196 1324 198 1325 199 1326 201 1328 202 1329 202 1331 202 1334 202 1336 202 1338 201 1339 201 1341 201 1343 200 1344Z" fill="#222222"/>
<path d="M199 1346 198 1347 197 1349 196 1350 195 1351 195 1352 194 1353 193 1354 193 1355 192 1356 191 1357 190 1357 189 1358 188 1359 187 1359 186 1360 185 1361 184 1362 183 1363 182 1363 181 1364 179 1365 178 1366 177 1366 176 1367 174 1367 173 1368 171 1368 169 1369 167 1369 165 1370 163 1370 161 1370 159 1370 156 1370 154 1369 151 1369 148 1368 146 1367 143 1366 141 1364 139 1362 139 1359 139 1356 140 1353 141 1351 142 1348 143 1346 145 1344 147 1342 149 1340 151 1339 152 1338 154 1336 155 1335 157 1334 158 1333 159 1332 161 1332 162 1331 163 1331 165 1330 166 1330 167 1329 168 1329 170 1328 171 1328 172 1327 173 1327 174 1326 176 1326 177 1325 178 1325 180 1324 181 1324 183 1324 184 1324 186 1324 188 1324 190 1324 192 1324 194 1324 196 1325 198 1325 199 1327 200 1328 201 1330 202 1332 202 1334 201 1336 201 1338 201 1340 200 1341 200 1343 200 1345Z" fill="#eeeeee"/>
<path d="M198 1346 197 1347 196 1349 195 1350 195 1351 194 1352 193 1353 193 1354 192 1355 191 1355 190 1356 189 1357 188 1357 188 1358 187 1359 186 1359 185 1360 184 1361 183 1361 182 1362 181 1362 180 1363 179 1364 178 1365 177 1365 176 1366 174 1366 173 1366 171 1367 170 1367 168 1368 166 1368 164 1369 162 1369 159 1369 157 1369 154 1369 152 1368 149 1367 147 1366 144 1365 142 1363 141 1361 140 1358 140 1356 141 1353 142 1351 143 1348 144 1346 146 1344 148 1342 150 1341 152 1339 153 1338 155 1337 156 1336 158 1335 159 1334 160 1333 161 1332 163 1332 164 1331 165 1331 167 1330 168 1330 169 1329 170 1329 171 1328 172 1328 173 1328 175 1327 176 1327 177 1326 178 1326 180 1325 181 1325 183 1325 184 1325 186 1325 187 1325 189 1325 191 1325 193 1325 195 1325 197 1326 198 1328 199 1329 200 1330 201 1332 201 1334 200 1336 200 1338 200 1340 200 1341 199 1343 199 1345Z" fill="#e3e3e3"/>
<path d="M197 1346 196 1347 195 1348 195 1349 194 1350 193 1351 192 1352 192 1353 191 1354 190 1355 190 1356 189 1356 188 1357 187 1357 186 1358 185 1359 184 1360 183 1360 182 1361 181 1361 180 1362 179 1363 178 1363 177 1364 176 1364 175 1365 173 1365 172 1366 170 1366 168 1367 166 1367 164 1368 162 1368 160 1368 158 1368 155 1368 153 1367 150 1367 148 1366 145 1364 144 1363 142 1360 142 1358 142 1355 143 1353 144 1350 144 1348 145 1346 147 1344 149 1342 151 1341 153 1340 154 1338 156 1337 157 1336 159 1335 160 1334 161 1334 162 1333 163 1332 165 1332 166 1331 167 1331 168 1331 169 1330 170 1330 171 1329 172 1329 173 1328 175 1328 176 1327 177 1327 178 1326 180 1326 181 1326 182 1326 184 1326 185 1326 187 1326 189 1326 191 1326 193 1326 194 1326 196 1327 197 1328 198 1330 199 1331 200 1333 200 1335 200 1337 199 1338 199 1340 199 1342 199 1343 198 1345Z" fill="#d0d0d0"/>
<path d="M196 1346 195 1347 194 1348 194 1349 193 1350 192 1351 192 1352 191 1353 190 1354 189 1355 188 1356 187 1356 186 1357 185 1358 184 1358 183 1359 182 1360 181 1361 180 1361 179 1362 178 1362 177 1363 176 1363 175 1364 173 1364 172 1365 170 1365 169 1366 167 1366 165 1367 163 1367 161 1367 158 1367 156 1367 153 1367 151 1366 149 1365 147 1364 145 1362 144 1360 143 1358 143 1355 144 1353 145 1350 146 1348 147 1346 148 1344 150 1342 152 1341 154 1340 155 1339 157 1338 158 1337 159 1336 161 1335 162 1334 163 1334 164 1333 165 1333 166 1332 167 1332 169 1331 170 1331 171 1331 172 1330 173 1330 174 1329 175 1329 176 1328 177 1328 178 1327 179 1327 181 1327 182 1327 184 1327 185 1327 187 1326 188 1326 190 1326 192 1326 194 1327 195 1328 196 1329 198 1330 199 1332 199 1333 199 1335 199 1337 199 1339 198 1340 198 1342 198 1343 197 1345Z" fill="#b8b8b8"/>
<path d="M195 1346 194 1347 194 1348 193 1349 192 1350 191 1351 191 1352 190 1353 189 1354 188 1355 187 1355 187 1356 186 1356 185 1357 184 1357 184 1358 183 1358 182 1359 181 1359 181 1360 180 1360 179 1361 178 1361 177 1362 176 1362 175 1363 174 1363 172 1364 171 1364 169 1365 168 1365 166 1366 164 1366 162 1366 159 1366 157 1366 154 1366 152 1365 150 1364 148 1363 146 1361 145 1359 145 1357 145 1355 145 1352 146 1350 147 1348 148 1346 149 1344 151 1343 153 1341 155 1340 156 1339 158 1338 159 1337 160 1336 161 1336 163 1335 164 1334 165 1334 166 1333 167 1333 168 1332 169 1332 170 1332 171 1331 172 1331 173 1330 174 1330 175 1330 176 1329 177 1329 178 1328 179 1328 181 1328 182 1328 183 1328 185 1327 186 1327 188 1327 190 1327 191 1327 193 1328 194 1329 195 1330 197 1331 198 1332 198 1334 198 1336 198 1337 198 1339 197 1341 197 1342 197 1343 196 1345Z" fill="#9a9a9a"/>
<path d="M195 1346 194 1347 193 1348 192 1349 191 1350 191 1351 190 1351 189 1352 189 1353 188 1353 187 1354 187 1355 186 1355 185 1355 185 1356 184 1356 183 1357 182 1358 181 1358 180 1359 179 1360 178 1360 177 1361 176 1361 175 1361 174 1362 173 1363 171 1363 170 1364 168 1364 166 1365 164 1365 162 1365 160 1366 157 1366 155 1365 153 1365 151 1363 149 1362 148 1361 146 1359 146 1357 146 1354 147 1352 147 1350 148 1348 149 1346 151 1344 152 1343 154 1341 156 1340 157 1339 159 1338 160 1338 161 1337 162 1336 163 1335 164 1335 165 1334 167 1334 168 1334 168 1333 169 1333 170 1332 171 1332 172 1332 173 1331 174 1331 175 1331 176 1330 177 1330 178 1329 179 1329 180 1329 182 1329 183 1328 184 1328 186 1328 187 1328 189 1328 191 1328 192 1329 193 1330 195 1331 196 1332 197 1333 197 1334 197 1336 197 1338 197 1339 197 1341 197 1342 196 1343 195 1345Z" fill="#767676"/>
<path d="M194 1346 193 1347 192 1348 191 1349 190 1350 189 1351 189 1352 188 1352 187 1353 186 1354 185 1354 185 1355 184 1355 183 1356 182 1356 181 1357 180 1358 179 1358 179 1359 178 1359 177 1359 176 1360 175 1360 174 1361 173 1361 172 1362 170 1363 169 1363 167 1363 165 1364 163 1364 160 1365 158 1365 156 1365 154 1364 152 1363 150 1361 149 1360 148 1358 147 1356 148 1354 148 1352 149 1350 149 1348 150 1346 152 1344 154 1343 155 1342 157 1341 158 1340 160 1339 161 1338 162 1337 163 1337 164 1336 165 1336 166 1335 167 1335 168 1334 169 1334 170 1334 171 1333 172 1333 173 1332 174 1332 175 1331 176 1331 177 1331 178 1330 179 1330 180 1330 181 1330 183 1329 184 1329 185 1329 187 1329 189 1329 190 1329 191 1330 193 1330 194 1331 195 1332 196 1333 196 1335 196 1336 196 1338 196 1340 196 1341 196 1342 195 1344 195 1345Z" fill="#4e4e4e"/>
<path d="M193 1346 192 1347 191 1348 190 1349 189 1350 188 1351 187 1352 186 1353 185 1353 185 1354 184 1354 183 1354 183 1355 182 1355 182 1356 181 1356 180 1356 180 1357 179 1357 178 1358 177 1358 176 1359 175 1359 174 1360 173 1360 172 1361 171 1361 169 1362 168 1362 166 1363 164 1364 161 1364 159 1364 157 1364 155 1363 153 1362 151 1361 150 1359 149 1357 149 1356 149 1353 150 1351 150 1350 150 1348 151 1346 153 1344 155 1343 157 1342 158 1341 159 1340 161 1339 162 1338 163 1338 164 1337 165 1337 166 1336 167 1336 168 1335 169 1335 170 1334 171 1334 172 1334 173 1333 174 1333 175 1332 176 1332 177 1331 178 1331 179 1331 180 1331 181 1330 182 1330 184 1330 185 1330 187 1330 188 1330 189 1330 191 1330 192 1331 193 1332 194 1333 195 1334 196 1335 196 1337 195 1338 195 1340 195 1341 195 1342 195 1344 194 1345Z" fill="#222222"/>
<path d="M192 1346 191 1347 190 1348 189 1349 188 1350 187 1351 186 1352 185 1352 185 1353 184 1353 183 1354 182 1354 181 1355 180 1355 180 1356 179 1356 178 1356 178 1357 177 1357 176 1358 175 1358 174 1359 173 1359 172 1360 171 1360 170 1361 168 1361 166 1362 164 1363 162 1363 159 1364 157 1363 156 1362 154 1361 153 1360 152 1359 151 1357 150 1355 151 1353 151 1351 151 1349 152 1348 153 1346 154 1344 156 1343 158 1342 159 1341 160 1340 162 1340 163 1339 164 1338 165 1338 166 1337 167 1337 167 1336 168 1336 169 1336 170 1335 171 1335 172 1334 173 1334 174 1334 175 1333 176 1333 177 1332 178 1332 179 1332 180 1332 181 1331 182 1331 183 1331 185 1331 186 1330 187 1330 189 1331 190 1331 191 1332 192 1333 193 1334 194 1335 195 1336 195 1337 195 1339 194 1340 194 1341 194 1343 194 1344 193 1345Z" fill="#bcbcbc"/>
<path d="M190 1346 189 1347 189 1348 188 1348 187 1349 186 1350 185 1351 184 1352 183 1352 183 1353 182 1353 181 1353 181 1354 180 1354 179 1354 179 1355 178 1355 177 1356 176 1356 176 1357 175 1357 174 1358 173 1358 172 1359 171 1359 169 1359 168 1360 166 1361 164 1361 162 1361 160 1361 158 1360 157 1359 156 1358 155 1357 154 1356 154 1354 154 1352 154 1351 154 1349 155 1347 156 1346 157 1345 159 1344 160 1343 161 1342 162 1341 163 1340 164 1340 165 1339 166 1339 167 1338 168 1338 169 1338 169 1337 170 1337 171 1337 171 1336 172 1336 173 1336 174 1335 175 1335 176 1335 176 1334 177 1334 178 1334 179 1334 180 1333 181 1333 182 1333 184 1333 185 1332 186 1332 187 1333 188 1333 189 1334 190 1334 191 1335 192 1336 192 1337 193 1338 192 1340 192 1341 192 1342 192 1343 192 1344 191 1345Z" fill="#959595"/>
<path d="M188 1346 188 1347 187 1347 186 1348 185 1349 185 1350 184 1350 183 1351 182 1351 182 1352 181 1352 180 1353 179 1353 178 1354 177 1354 176 1355 175 1355 174 1356 173 1356 173 1357 172 1357 170 1358 169 1358 167 1359 166 1359 164 1359 162 1359 161 1358 160 1358 159 1357 158 1355 157 1354 157 1353 157 1351 157 1350 158 1349 158 1347 159 1346 160 1345 161 1344 162 1343 164 1342 165 1342 165 1341 166 1341 167 1340 168 1340 168 1339 169 1339 170 1339 171 1339 171 1338 172 1338 173 1338 173 1337 174 1337 175 1337 176 1336 177 1336 178 1336 178 1335 179 1335 180 1335 181 1335 182 1335 183 1334 184 1334 185 1334 186 1334 187 1335 187 1336 188 1336 189 1337 190 1337 190 1338 190 1339 190 1341 190 1342 190 1343 190 1344 189 1345Z" fill="#7b7b7b"/>
<path d="M186 1346 186 1347 185 1347 185 1348 184 1348 184 1349 183 1349 183 1350 182 1350 181 1350 181 1351 180 1351 179 1352 178 1352 177 1353 176 1354 175 1354 174 1355 173 1355 172 1355 171 1356 170 1356 169 1356 167 1357 166 1357 165 1357 164 1356 163 1356 162 1355 161 1354 161 1353 160 1352 160 1350 161 1349 161 1348 161 1347 162 1346 163 1345 164 1344 165 1344 166 1343 167 1342 168 1342 169 1341 170 1341 170 1340 171 1340 172 1340 173 1339 174 1339 175 1338 176 1338 177 1338 178 1337 179 1337 180 1337 181 1337 182 1336 183 1336 184 1336 185 1337 186 1337 186 1338 187 1338 188 1339 188 1340 188 1341 188 1342 188 1343 188 1344 187 1345Z" fill="#656565"/>
<path d="M185 1346 184 1346 184 1347 183 1347 183 1348 182 1348 182 1349 181 1349 181 1350 180 1350 179 1350 179 1351 178 1351 177 1351 177 1352 176 1352 175 1353 174 1353 173 1353 173 1354 172 1354 171 1354 169 1355 168 1355 167 1355 166 1354 165 1354 165 1353 164 1352 164 1351 164 1350 164 1349 164 1348 164 1347 165 1346 166 1345 167 1345 167 1344 168 1344 169 1343 170 1342 171 1342 172 1341 173 1341 174 1341 174 1340 175 1340 176 1340 177 1339 178 1339 179 1339 180 1339 180 1338 181 1338 182 1338 183 1338 183 1339 184 1339 185 1339 185 1340 186 1340 186 1341 186 1342 186 1343 186 1344 185 1345Z" fill="#525252"/>
<path d="M183 1346 182 1346 182 1347 181 1347 181 1348 180 1348 180 1349 179 1349 178 1349 178 1350 177 1350 176 1351 175 1351 174 1352 173 1352 172 1352 171 1353 170 1353 170 1352 169 1352 168 1352 168 1351 167 1351 167 1350 167 1349 167 1348 167 1347 168 1346 168 1345 169 1345 170 1345 170 1344 171 1344 172 1343 173 1343 173 1342 174 1342 175 1342 176 1341 177 1341 178 1341 179 1340 180 1340 181 1340 182 1340 182 1341 183 1341 183 1342 184 1342 184 1343 184 1344 183 1344 183 1345 183 1346Z" fill="#424242"/>
<path d="M181 1346 180 1346 180 1347 179 1347 179 1348 178 1348 177 1349 176 1349 176 1350 175 1350 174 1350 173 1350 172 1350 171 1350 171 1349 170 1349 170 1348 170 1347 171 1347 171 1346 172 1345 173 1345 173 1344 174 1344 175 1344 175 1343 176 1343 177 1343 177 1342 178 1342 179 1342 180 1342 180 1343 181 1343 181 1344 181 1345 181 1346Z" fill="#333333"/>
<path d="M179 1346 178 1346 178 1347 177 1347 177 1348 176 1348 175 1348 174 1348 174 1347 174 1346 175 1346 175 1345 176 1345 177 1344 178 1344 179 1344 179 1345 179 1346Z" fill="#252525"/>
</g>
<g fill="none" stroke="#151515" stroke-width="2" transform="scale(.5)">
<path d="M211 1346 211 1348 210 1350 209 1352 208 1354 207 1356 206 1358 205 1360 204 1362 203 1363 202 1365 201 1367 200 1369 199 1371 197 1372 196 1374 194 1376 193 1378 191 1379 189 1381 187 1383 185 1385 182 1386 180 1387 177 1389 174 1390 171 1391 168 1391 165 1391 162 1391 159 1390 155 1390 152 1390 149 1389 145 1387 142 1385 139 1384 136 1382 134 1379 132 1376 130 1373 128 1370 126 1367 125 1364 124 1360 124 1357 123 1353 123 1350 124 1346 126 1343 127 1339 129 1336 131 1334 134 1331 136 1329 138 1327 140 1325 143 1323 146 1322 149 1321 151 1320 153 1319 156 1318 158 1317 160 1317 162 1316 164 1315 166 1315 169 1314 171 1314 173 1313 175 1313 177 1312 179 1312 182 1311 184 1311 186 1311 189 1310 192 1310 195 1309 198 1309 202 1309 205 1310 208 1310 211 1312 213 1314 214 1317 215 1321 215 1324 215 1327 214 1331 214 1333 214 1336 213 1339 213 1341 212 1344Z"/>
<path d="M205 1346 204 1348 204 1349 203 1351 202 1353 201 1354 200 1356 199 1357 198 1358 197 1360 196 1361 195 1362 194 1363 193 1364 192 1366 191 1367 190 1368 188 1369 187 1370 185 1371 184 1372 182 1373 181 1373 179 1374 177 1375 175 1376 173 1377 171 1377 169 1377 166 1377 164 1377 162 1377 159 1377 156 1377 154 1377 151 1376 148 1375 146 1374 143 1372 140 1371 137 1369 135 1367 133 1364 132 1361 131 1358 132 1355 133 1352 134 1349 135 1346 137 1343 138 1341 140 1339 142 1337 145 1335 147 1333 148 1332 150 1331 152 1329 154 1328 155 1327 157 1326 159 1325 161 1325 162 1324 164 1323 165 1323 167 1322 169 1321 170 1321 172 1320 173 1319 175 1319 177 1318 179 1318 181 1318 183 1318 185 1318 187 1318 189 1317 191 1317 194 1317 196 1317 199 1318 201 1319 203 1320 205 1322 206 1323 207 1326 207 1328 207 1331 207 1333 207 1336 207 1338 207 1340 207 1342 206 1344Z"/>
<path d="M200 1346 199 1347 198 1349 198 1350 197 1351 196 1352 195 1354 195 1355 194 1356 193 1357 192 1358 191 1358 190 1359 189 1360 188 1361 187 1361 186 1362 185 1363 184 1363 183 1364 182 1365 181 1366 180 1366 178 1367 177 1368 176 1368 174 1369 172 1369 171 1369 169 1370 167 1370 165 1371 162 1371 160 1371 158 1371 155 1371 153 1370 150 1370 147 1369 144 1368 142 1366 139 1365 138 1362 137 1359 138 1357 138 1354 140 1351 141 1348 142 1346 143 1344 145 1342 147 1340 149 1339 151 1337 153 1336 154 1335 156 1334 157 1333 158 1332 160 1331 161 1330 162 1329 164 1329 165 1328 166 1328 168 1327 169 1327 170 1326 172 1326 173 1325 174 1325 176 1324 177 1324 179 1323 180 1323 182 1323 183 1323 185 1323 187 1323 189 1323 190 1323 193 1323 195 1323 197 1323 199 1324 200 1326 201 1327 202 1329 203 1331 203 1333 203 1335 202 1337 202 1339 202 1341 202 1343 201 1344Z"/>
<path d="M194 1346 193 1347 192 1348 191 1349 190 1350 189 1351 188 1352 187 1353 186 1354 185 1354 185 1355 184 1355 183 1355 183 1356 182 1356 181 1356 181 1357 180 1357 179 1357 179 1358 178 1358 177 1359 176 1359 175 1360 174 1360 173 1361 172 1361 170 1362 169 1362 167 1363 165 1363 163 1364 161 1364 158 1365 156 1364 154 1363 153 1362 151 1361 150 1359 149 1357 149 1356 149 1353 149 1351 150 1350 150 1348 151 1346 153 1344 155 1343 156 1342 158 1341 159 1340 160 1339 161 1338 162 1338 163 1337 164 1336 165 1336 166 1335 167 1335 168 1335 169 1334 170 1334 171 1333 172 1333 173 1332 174 1332 175 1332 176 1331 177 1331 178 1331 179 1330 180 1330 181 1330 183 1330 184 1330 185 1329 187 1329 188 1329 190 1329 191 1330 192 1331 193 1332 194 1333 195 1334 196 1335 196 1337 196 1338 196 1340 196 1341 196 1342 195 1344 195 1345Z"/>
</g>
<g fill="none" stroke="#f6f6f6" stroke-width="2.2" transform="scale(.5)">
<path d="M210 1346 209 1348 208 1350 208 1352 207 1354 206 1356 205 1358 204 1359 203 1361 202 1363 201 1364 200 1366 199 1368 198 1370 196 1371 195 1373 193 1375 192 1376 190 1378 188 1380 187 1382 184 1383 182 1385 180 1386 177 1387 174 1388 171 1389 168 1390 165 1390 162 1389 159 1389 156 1389 153 1388 149 1387 146 1386 143 1384 140 1383 138 1381 135 1378 133 1375 131 1373 129 1370 128 1366 127 1363 126 1360 125 1356 125 1353 125 1349 126 1346 127 1343 129 1340 131 1337 133 1334 135 1332 137 1329 139 1327 142 1326 144 1324 147 1323 150 1322 152 1321 154 1320 157 1319 159 1319 161 1318 163 1317 165 1317 167 1316 169 1316 171 1315 173 1315 175 1314 177 1314 179 1313 181 1313 184 1312 186 1312 189 1312 191 1311 194 1311 198 1310 201 1310 204 1311 207 1312 210 1313 212 1315 213 1318 214 1322 214 1325 213 1328 213 1331 213 1334 212 1337 212 1339 211 1341 211 1344Z"/>
<path d="M203 1346 203 1348 202 1349 201 1351 201 1352 200 1354 199 1355 198 1356 197 1358 196 1359 195 1360 194 1361 193 1362 192 1363 191 1364 190 1366 189 1367 188 1368 186 1369 185 1370 184 1370 182 1371 180 1372 179 1373 177 1374 175 1375 173 1375 171 1376 169 1376 167 1376 165 1376 162 1376 160 1376 157 1376 154 1375 152 1375 149 1374 147 1373 144 1372 141 1370 138 1368 136 1366 134 1364 133 1361 133 1358 133 1355 134 1352 136 1349 137 1346 138 1343 140 1341 142 1339 144 1337 146 1335 148 1334 150 1333 152 1331 153 1330 155 1329 156 1328 158 1327 160 1326 161 1326 163 1325 165 1325 166 1324 168 1323 169 1323 171 1322 172 1322 174 1321 175 1320 177 1320 179 1320 180 1320 182 1319 184 1319 186 1319 188 1319 191 1318 193 1318 195 1318 198 1319 200 1320 202 1321 204 1323 205 1324 206 1327 206 1329 206 1332 206 1334 206 1336 206 1338 206 1340 205 1342 204 1344Z"/>
<path d="M199 1346 198 1347 197 1349 196 1350 195 1351 195 1352 194 1353 193 1354 193 1355 192 1356 191 1357 190 1357 189 1358 188 1359 187 1359 186 1360 185 1361 184 1362 183 1363 182 1363 181 1364 179 1365 178 1366 177 1366 176 1367 174 1367 173 1368 171 1368 169 1369 167 1369 165 1370 163 1370 161 1370 159 1370 156 1370 154 1369 151 1369 148 1368 146 1367 143 1366 141 1364 139 1362 139 1359 139 1356 140 1353 141 1351 142 1348 143 1346 145 1344 147 1342 149 1340 151 1339 152 1338 154 1336 155 1335 157 1334 158 1333 159 1332 161 1332 162 1331 163 1331 165 1330 166 1330 167 1329 168 1329 170 1328 171 1328 172 1327 173 1327 174 1326 176 1326 177 1325 178 1325 180 1324 181 1324 183 1324 184 1324 186 1324 188 1324 190 1324 192 1324 194 1324 196 1325 198 1325 199 1327 200 1328 201 1330 202 1332 202 1334 201 1336 201 1338 201 1340 200 1341 200 1343 200 1345Z"/>
<path d="M192 1346 191 1347 190 1348 189 1349 188 1350 187 1351 186 1352 185 1352 185 1353 184 1353 183 1354 182 1354 181 1355 180 1355 180 1356 179 1356 178 1356 178 1357 177 1357 176 1358 175 1358 174 1359 173 1359 172 1360 171 1360 170 1361 168 1361 166 1362 164 1363 162 1363 159 1364 157 1363 156 1362 154 1361 153 1360 152 1359 151 1357 150 1355 151 1353 151 1351 151 1349 152 1348 153 1346 154 1344 156 1343 158 1342 159 1341 160 1340 162 1340 163 1339 164 1338 165 1338 166 1337 167 1337 167 1336 168 1336 169 1336 170 1335 171 1335 172 1334 173 1334 174 1334 175 1333 176 1333 177 1332 178 1332 179 1332 180 1332 181 1331 182 1331 183 1331 185 1331 186 1330 187 1330 189 1331 190 1331 191 1332 192 1333 193 1334 194 1335 195 1336 195 1337 195 1339 194 1340 194 1341 194 1343 194 1344 193 1345Z"/>
</g>
</g>
<path transform="scale(.5)" d="M140 1423 155 1423 149 1436 146 1436Z" fill="#000"/><circle cx="120.3" cy="642.4" r="0.9" fill="#333"/>
</g>
<g clip-path="url(#pc19)">

<g clip-path="url(#lc20)"><g filter="url(#bl)" transform="scale(.5)">
<path d="M102 1374 102 1375 102 1376 102 1377 101 1377 101 1378 101 1379 100 1380 99 1381 98 1382 97 1383 96 1383 95 1383 95 1384 94 1384 93 1384 92 1384 91 1384 90 1384 89 1384 89 1383 88 1383 87 1383 86 1382 85 1381 84 1380 83 1379 83 1378 83 1377 82 1377 82 1376 82 1375 82 1374 82 1373 82 1372 82 1371 83 1371 83 1370 83 1369 84 1368 85 1367 86 1366 87 1365 88 1365 89 1365 89 1364 90 1364 91 1364 92 1364 93 1364 94 1364 95 1364 95 1365 96 1365 97 1365 98 1366 99 1367 100 1368 101 1369 101 1370 101 1371 102 1371 102 1372 102 1373Z" fill="#aaaaaa"/>
<path d="M100 1374 100 1375 100 1376 100 1377 99 1377 99 1378 98 1379 98 1380 97 1380 96 1381 95 1381 95 1382 94 1382 93 1382 92 1382 91 1382 90 1382 89 1382 89 1381 88 1381 87 1380 86 1380 86 1379 85 1378 85 1377 84 1377 84 1376 84 1375 84 1374 84 1373 84 1372 84 1371 85 1371 85 1370 86 1369 86 1368 87 1368 88 1367 89 1367 89 1366 90 1366 91 1366 92 1366 93 1366 94 1366 95 1366 95 1367 96 1367 97 1368 98 1368 98 1369 99 1370 99 1371 100 1371 100 1372 100 1373Z" fill="#7b7b7b"/>
<path d="M98 1374 98 1375 98 1376 97 1377 97 1378 96 1378 96 1379 95 1379 94 1380 93 1380 92 1380 91 1380 90 1380 89 1379 88 1379 88 1378 87 1378 87 1377 86 1376 86 1375 86 1374 86 1373 86 1372 87 1371 87 1370 88 1370 88 1369 89 1369 90 1368 91 1368 92 1368 93 1368 94 1368 95 1369 96 1369 96 1370 97 1370 97 1371 98 1372 98 1373 98 1374Z" fill="#5a5a5a"/>
<path d="M96 1374 96 1375 96 1376 95 1376 95 1377 94 1377 94 1378 93 1378 92 1378 91 1378 90 1378 90 1377 89 1377 89 1376 88 1376 88 1375 88 1374 88 1373 88 1372 89 1372 89 1371 90 1371 90 1370 91 1370 92 1370 93 1370 94 1370 94 1371 95 1371 95 1372 96 1372 96 1373 96 1374Z" fill="#3f3f3f"/>
<path d="M94 1374 94 1375 93 1375 93 1376 92 1376 91 1376 91 1375 90 1375 90 1374 90 1373 91 1373 91 1372 92 1372 93 1372 93 1373 94 1373 94 1374Z" fill="#292929"/>
</g>
<g fill="none" stroke="#151515" stroke-width="2" transform="scale(.5)">
</g>
<g fill="none" stroke="#f6f6f6" stroke-width="2.2" transform="scale(.5)">
</g>
</g>
<path transform="scale(.5)" d="M103 1374 103 1375 103 1376 103 1377 103 1378 102 1379 102 1380 101 1381 101 1382 100 1382 100 1383 99 1383 98 1384 97 1384 96 1385 95 1385 94 1385 93 1385 92 1385 91 1385 90 1385 89 1385 88 1385 87 1384 86 1384 85 1383 84 1383 84 1382 83 1382 83 1381 82 1380 82 1379 81 1378 81 1377 81 1376 81 1375 81 1374 81 1373 81 1372 81 1371 81 1370 82 1369 82 1368 83 1367 83 1366 84 1366 84 1365 85 1365 86 1364 87 1364 88 1363 89 1363 90 1363 91 1363 92 1363 93 1363 94 1363 95 1363 96 1363 97 1364 98 1364 99 1365 100 1365 100 1366 101 1366 101 1367 102 1368 102 1369 103 1370 103 1371 103 1372 103 1373Z" fill="none" stroke="#222" stroke-width="2"/>
<path transform="scale(.5)" d="M102 1374 102 1375 102 1376 102 1377 101 1377 101 1378 101 1379 100 1380 99 1381 98 1382 97 1383 96 1383 95 1383 95 1384 94 1384 93 1384 92 1384 91 1384 90 1384 89 1384 89 1383 88 1383 87 1383 86 1382 85 1381 84 1380 83 1379 83 1378 83 1377 82 1377 82 1376 82 1375 82 1374 82 1373 82 1372 82 1371 83 1371 83 1370 83 1369 84 1368 85 1367 86 1366 87 1365 88 1365 89 1365 89 1364 90 1364 91 1364 92 1364 93 1364 94 1364 95 1364 95 1365 96 1365 97 1365 98 1366 99 1367 100 1368 101 1369 101 1370 101 1371 102 1371 102 1372 102 1373Z" fill="none" stroke="#f4f4f4" stroke-width="2"/>

</g>
<path d="M49.5 532L238.8 532" stroke="#333" stroke-width="1.1"/>
<path d="M238.8 532L238.8 717" stroke="#555" stroke-width="1.1"/>
<path d="M49.5 531.5L49.5 722.5" stroke="#000" stroke-width="1.3"/>
<path d="M44 717L238.8 717" stroke="#000" stroke-width="1.3"/>
<path d="M44.5 717h5M46.5 703.1h3M46.5 694.9h3M46.5 689.2h3M46.5 684.7h3M46.5 681h3M46.5 677.9h3M46.5 675.2h3M46.5 672.9h3M44.5 670.8h5M46.5 656.8h3M46.5 648.7h3M46.5 642.9h3M46.5 638.4h3M46.5 634.8h3M46.5 631.7h3M46.5 629h3M46.5 626.6h3M44.5 624.5h5M46.5 610.6h3M46.5 602.4h3M46.5 596.7h3M46.5 592.2h3M46.5 588.5h3M46.5 585.4h3M46.5 582.7h3M46.5 580.4h3M44.5 578.2h5M46.5 564.3h3M46.5 556.2h3M46.5 550.4h3M46.5 545.9h3M46.5 542.3h3M46.5 539.2h3M46.5 536.5h3M46.5 534.1h3M44.5 532h5M64 717v3M72.3 717v3M78.2 717v3M82.7 717v3M86.4 717v3M89.6 717v3M92.3 717v3M94.7 717v3M96.9 717v5M111.1 717v3M119.4 717v3M125.2 717v3M129.8 717v3M133.5 717v3M136.7 717v3M139.4 717v3M141.8 717v3M144 717v5M158.2 717v3M166.4 717v3M172.3 717v3M176.9 717v3M180.6 717v3M183.8 717v3M186.5 717v3M188.9 717v3M191.1 717v5M205.2 717v3M213.5 717v3M219.4 717v3M224 717v3M227.7 717v3M230.9 717v3M233.6 717v3M236 717v3M238.2 717v5" stroke="#111" stroke-width="1"/>
<text x="36.3" y="716.9" font-size="9.1" text-anchor="end" fill="#262626">10</text>
<text x="36.9" y="709.7" font-size="8.0" fill="#262626">0</text>
<text x="36.3" y="674" font-size="9.1" text-anchor="end" fill="#262626">10</text>
<text x="36.9" y="666.8" font-size="8.0" fill="#262626">1</text>
<text x="36.3" y="627.9" font-size="9.1" text-anchor="end" fill="#262626">10</text>
<text x="36.9" y="620.7" font-size="8.0" fill="#262626">2</text>
<text x="36.3" y="582.7" font-size="9.1" text-anchor="end" fill="#262626">10</text>
<text x="36.9" y="575.5" font-size="8.0" fill="#262626">3</text>
<text x="36.3" y="548.5" font-size="9.1" text-anchor="end" fill="#262626">10</text>
<text x="36.9" y="541.3" font-size="8.0" fill="#262626">4</text>
<text x="53.2" y="735.9" font-size="9.1" fill="#262626">10</text>
<text x="64.2" y="730.1" font-size="8.2" fill="#262626">0</text>
<text x="92.9" y="735.9" font-size="9.1" fill="#262626">10</text>
<text x="103.9" y="730.1" font-size="8.2" fill="#262626">1</text>
<text x="140.2" y="735.9" font-size="9.1" fill="#262626">10</text>
<text x="151.2" y="730.1" font-size="8.2" fill="#262626">2</text>
<text x="186.9" y="735.9" font-size="9.1" fill="#262626">10</text>
<text x="197.9" y="730.1" font-size="8.2" fill="#262626">3</text>
<text x="232.9" y="735.9" font-size="9.1" fill="#262626">10</text>
<text x="243.9" y="730.1" font-size="8.2" fill="#262626">4</text>
<path d="M49.5 656L137 612V532" fill="none" stroke="#111" stroke-width="1.1"/>
<text x="227.6" y="551.6" font-size="12.1" text-anchor="end" fill="#1a1a1a">0.749%</text>
<text transform="translate(18.9,625) rotate(-90)" font-size="12.6" text-anchor="middle" fill="#111">RL26A-YTM9</text>
<text x="11" y="530.6" font-size="25" fill="#000" font-weight="bold">E</text>
<g clip-path="url(#pc21)">

<path transform="scale(.5)" d="M715 1220 715 1224 714 1227 712 1230 711 1234 710 1237 708 1240 707 1243 706 1247 705 1250 705 1254 703 1258 701 1261 699 1264 697 1268 695 1273 693 1277 690 1281 687 1286 684 1290 680 1294 675 1298 671 1301 665 1303 660 1304 655 1303 649 1304 643 1307 636 1310 629 1310 623 1309 617 1307 610 1306 603 1306 594 1307 587 1303 584 1296 584 1287 584 1278 584 1271 584 1264 584 1258 584 1252 584 1246 584 1240 584 1235 584 1230 584 1225 584 1220 584 1215 584 1210 584 1205 584 1200 584 1194 584 1188 585 1183 589 1179 594 1176 600 1174 605 1171 609 1169 614 1167 618 1165 622 1163 626 1161 630 1159 634 1157 638 1154 642 1153 646 1152 651 1151 655 1151 660 1151 665 1149 670 1148 675 1146 680 1145 686 1144 692 1144 698 1144 703 1145 708 1148 712 1152 715 1157 717 1163 718 1169 719 1175 719 1181 718 1186 718 1191 717 1196 717 1201 716 1205 716 1209 716 1213 715 1216Z" fill="#000"/>
<g clip-path="url(#lc22)"><g filter="url(#bl)" transform="scale(.5)">
<path d="M715 1220 715 1224 714 1227 712 1230 711 1234 710 1237 708 1240 707 1243 706 1247 705 1250 705 1254 703 1258 701 1261 699 1264 697 1268 695 1273 693 1277 690 1281 687 1286 684 1290 680 1294 675 1298 671 1301 665 1303 660 1304 655 1303 649 1304 643 1307 636 1310 629 1310 623 1309 617 1307 610 1306 603 1306 594 1307 587 1303 584 1296 584 1287 584 1278 584 1271 584 1264 584 1258 584 1252 584 1246 584 1240 584 1235 584 1230 584 1225 584 1220 584 1215 584 1210 584 1205 584 1200 584 1194 584 1188 585 1183 589 1179 594 1176 600 1174 605 1171 609 1169 614 1167 618 1165 622 1163 626 1161 630 1159 634 1157 638 1154 642 1153 646 1152 651 1151 655 1151 660 1151 665 1149 670 1148 675 1146 680 1145 686 1144 692 1144 698 1144 703 1145 708 1148 712 1152 715 1157 717 1163 718 1169 719 1175 719 1181 718 1186 718 1191 717 1196 717 1201 716 1205 716 1209 716 1213 715 1216Z" fill="#f0f0f0"/>
<path d="M714 1220 713 1223 712 1227 711 1230 710 1233 708 1236 707 1240 706 1243 705 1246 704 1250 704 1253 702 1257 700 1260 698 1263 696 1267 694 1271 692 1275 689 1279 686 1283 683 1287 679 1291 675 1295 670 1298 665 1300 660 1300 655 1300 649 1301 643 1304 637 1306 631 1307 625 1306 619 1304 612 1302 605 1302 596 1303 590 1300 587 1293 587 1284 587 1276 586 1269 586 1263 586 1257 586 1251 586 1245 585 1240 586 1235 586 1230 586 1225 586 1220 586 1215 586 1210 586 1205 586 1200 586 1195 587 1190 588 1184 591 1180 596 1177 602 1175 606 1173 611 1171 615 1169 619 1167 623 1165 627 1163 631 1161 634 1158 638 1156 642 1154 647 1153 651 1153 656 1153 660 1152 665 1151 669 1150 674 1148 680 1147 685 1146 691 1146 696 1146 702 1148 707 1150 711 1154 714 1159 715 1165 717 1170 717 1176 717 1182 717 1187 716 1192 716 1197 715 1201 715 1205 714 1209 714 1213 714 1216Z" fill="#ececec"/>
<path d="M712 1220 712 1223 711 1227 709 1230 708 1233 707 1236 706 1239 705 1242 704 1245 703 1249 702 1252 701 1256 699 1259 697 1262 695 1265 693 1269 691 1273 688 1277 685 1281 682 1285 678 1288 674 1292 670 1295 665 1297 660 1297 655 1297 650 1298 644 1300 638 1303 632 1303 626 1302 620 1300 614 1299 607 1299 599 1299 593 1296 590 1290 590 1282 589 1274 589 1268 588 1261 588 1255 588 1250 587 1245 587 1240 587 1234 587 1230 588 1225 588 1220 588 1215 588 1211 589 1206 589 1201 589 1196 589 1191 591 1186 594 1182 599 1179 604 1177 608 1174 612 1172 616 1170 620 1168 624 1166 628 1164 632 1162 635 1160 639 1158 643 1156 647 1155 651 1155 656 1155 660 1154 664 1153 669 1151 674 1150 679 1149 684 1148 690 1148 695 1149 700 1150 705 1153 709 1156 712 1161 714 1166 715 1172 715 1178 715 1183 715 1188 715 1193 714 1198 713 1202 713 1206 713 1210 713 1213 712 1217Z" fill="#e6e6e6"/>
<path d="M711 1220 710 1223 709 1226 708 1230 707 1233 706 1236 705 1238 703 1241 702 1245 702 1248 701 1251 699 1255 697 1257 695 1260 694 1264 692 1268 690 1272 687 1275 684 1279 681 1282 678 1286 674 1289 669 1292 665 1293 660 1294 655 1294 650 1295 645 1297 639 1299 633 1300 627 1299 622 1297 616 1296 610 1295 602 1295 597 1292 593 1287 593 1279 592 1272 591 1266 591 1260 590 1254 590 1249 589 1244 589 1239 589 1234 589 1229 590 1225 590 1220 590 1215 591 1211 591 1206 591 1202 592 1197 592 1192 593 1187 596 1183 601 1180 605 1178 610 1176 614 1174 618 1172 621 1170 625 1168 629 1166 632 1164 636 1162 640 1160 643 1158 647 1157 652 1157 656 1156 660 1156 664 1155 669 1153 673 1152 678 1151 684 1150 689 1150 694 1151 699 1153 703 1155 707 1159 710 1163 712 1168 713 1174 713 1179 713 1184 713 1189 713 1194 712 1198 712 1202 712 1206 711 1210 711 1213 711 1217Z" fill="#dcdcdc"/>
<path d="M709 1220 709 1223 708 1226 707 1229 705 1232 704 1235 703 1238 702 1241 701 1244 700 1247 700 1251 698 1253 696 1256 694 1259 693 1263 691 1266 689 1270 686 1273 683 1277 680 1280 677 1283 673 1286 669 1289 665 1290 660 1291 655 1291 651 1292 645 1294 640 1296 634 1296 629 1295 624 1293 618 1292 612 1292 605 1291 600 1289 597 1283 596 1276 595 1270 594 1264 593 1259 592 1253 591 1248 591 1244 590 1239 590 1234 591 1229 591 1224 592 1220 592 1216 593 1211 593 1207 594 1202 594 1198 595 1193 596 1189 599 1185 603 1182 607 1180 611 1177 615 1175 619 1173 623 1171 626 1169 630 1168 633 1165 637 1163 640 1161 644 1160 648 1159 652 1158 656 1158 660 1157 664 1156 669 1155 673 1154 678 1153 683 1153 688 1153 693 1153 698 1155 702 1157 705 1161 708 1165 710 1170 711 1175 711 1181 712 1186 711 1190 711 1195 711 1199 710 1203 710 1207 710 1210 710 1213 709 1217Z" fill="#d0d0d0"/>
<path d="M708 1220 707 1223 706 1226 705 1229 704 1232 703 1235 702 1237 701 1240 700 1243 699 1246 698 1250 697 1252 695 1255 693 1258 692 1261 690 1265 688 1268 685 1271 683 1274 679 1277 676 1280 673 1283 669 1285 664 1287 660 1288 656 1288 651 1289 646 1291 641 1292 635 1292 630 1291 626 1290 620 1289 614 1288 608 1288 603 1285 600 1280 599 1274 598 1268 597 1262 595 1257 594 1252 593 1248 592 1243 592 1238 592 1234 593 1229 593 1224 594 1220 594 1216 595 1211 596 1207 596 1203 597 1199 597 1194 599 1190 602 1186 605 1184 609 1181 613 1179 617 1177 620 1175 624 1173 627 1171 631 1169 634 1167 637 1165 641 1163 644 1162 648 1161 652 1160 656 1160 660 1159 664 1158 668 1157 673 1156 677 1155 682 1155 687 1155 692 1156 696 1157 700 1160 704 1163 706 1167 708 1172 709 1177 710 1182 710 1187 710 1191 710 1196 709 1200 709 1203 708 1207 708 1210 708 1214 708 1217Z" fill="#c0c0c0"/>
<path d="M706 1220 706 1223 705 1226 704 1229 703 1231 702 1234 701 1237 700 1240 699 1242 698 1245 697 1249 696 1251 694 1254 692 1257 690 1260 689 1263 687 1266 684 1269 682 1272 679 1275 675 1278 672 1280 668 1282 664 1284 660 1285 656 1285 651 1286 647 1287 642 1289 637 1289 632 1288 627 1286 622 1285 617 1285 611 1284 606 1281 603 1277 602 1271 600 1266 599 1261 598 1256 596 1251 595 1247 594 1242 594 1238 594 1233 595 1229 595 1224 596 1220 597 1216 597 1212 598 1208 599 1204 599 1199 600 1195 602 1191 604 1188 608 1185 611 1183 615 1180 618 1178 622 1176 625 1174 628 1172 631 1171 635 1169 638 1167 641 1165 645 1163 649 1162 652 1162 656 1161 660 1161 664 1160 668 1159 672 1158 677 1157 681 1157 686 1157 691 1158 695 1160 699 1162 702 1165 704 1169 706 1174 707 1179 708 1183 708 1188 708 1192 708 1196 708 1200 707 1204 707 1207 707 1211 706 1214 706 1217Z" fill="#adadad"/>
<path d="M705 1220 704 1223 703 1226 702 1228 701 1231 700 1234 699 1236 698 1239 698 1242 697 1245 696 1248 694 1250 693 1253 691 1255 689 1258 688 1261 686 1264 683 1267 681 1270 678 1272 675 1275 671 1277 668 1279 664 1281 660 1282 656 1282 652 1283 647 1284 643 1285 638 1285 633 1284 629 1283 624 1282 619 1281 614 1280 609 1278 606 1274 605 1269 603 1264 602 1259 600 1255 599 1250 597 1246 596 1242 595 1237 595 1233 596 1228 597 1224 598 1220 599 1216 600 1212 600 1208 601 1204 602 1200 603 1196 604 1193 607 1189 610 1187 613 1184 617 1182 620 1180 623 1178 626 1176 629 1174 632 1172 635 1170 639 1168 642 1167 645 1165 649 1164 653 1163 656 1163 660 1162 664 1161 668 1161 672 1160 676 1159 681 1159 685 1159 689 1160 693 1162 697 1164 700 1168 703 1171 704 1176 705 1180 706 1185 706 1189 706 1193 706 1197 706 1201 706 1205 705 1208 705 1211 705 1214 705 1217Z" fill="#969696"/>
<path d="M703 1220 702 1223 702 1225 701 1228 700 1231 699 1233 698 1236 697 1238 696 1241 695 1244 695 1247 693 1249 691 1251 690 1254 688 1257 686 1260 685 1262 682 1265 680 1268 677 1270 674 1272 671 1274 667 1276 664 1278 660 1278 656 1279 652 1280 648 1281 644 1282 639 1282 635 1281 631 1280 626 1278 622 1277 617 1276 613 1274 610 1270 608 1266 606 1262 604 1257 602 1253 601 1249 599 1245 597 1241 597 1237 597 1233 598 1228 599 1224 600 1220 601 1216 602 1212 603 1209 604 1205 605 1201 606 1197 607 1194 609 1191 612 1188 615 1186 618 1183 621 1181 624 1179 627 1177 630 1175 633 1174 636 1172 639 1170 643 1168 646 1167 649 1166 653 1165 656 1165 660 1164 664 1163 668 1162 672 1162 676 1161 680 1161 684 1162 688 1163 692 1164 696 1167 698 1170 701 1174 702 1178 703 1182 704 1186 704 1190 705 1194 705 1198 704 1202 704 1205 704 1208 704 1211 703 1214 703 1217Z" fill="#7d7d7d"/>
<path d="M701 1220 701 1223 700 1225 699 1228 698 1230 698 1233 697 1235 696 1238 695 1240 694 1243 693 1246 692 1248 690 1250 689 1253 687 1255 685 1258 683 1261 681 1263 679 1265 676 1267 673 1269 670 1271 667 1273 664 1274 660 1275 656 1276 653 1277 649 1277 644 1278 640 1278 636 1277 632 1276 628 1275 624 1274 620 1273 616 1270 613 1267 611 1263 609 1259 607 1256 605 1252 603 1248 601 1244 599 1241 598 1236 599 1232 600 1228 601 1224 602 1220 603 1216 604 1213 605 1209 606 1206 607 1202 608 1199 610 1195 612 1192 615 1190 617 1187 620 1185 623 1183 626 1181 628 1179 631 1177 634 1175 637 1173 640 1172 643 1170 646 1169 650 1168 653 1167 656 1166 660 1166 664 1165 667 1164 671 1164 675 1163 679 1163 683 1164 687 1165 691 1167 694 1169 697 1172 699 1176 701 1179 702 1184 702 1188 703 1192 703 1195 703 1199 703 1202 702 1206 702 1209 702 1212 702 1214 702 1217Z" fill="#606060"/>
<path d="M700 1220 699 1223 699 1225 698 1228 697 1230 696 1232 695 1235 695 1237 694 1240 693 1242 692 1245 691 1247 689 1249 687 1251 686 1254 684 1256 682 1259 680 1261 678 1263 675 1265 672 1267 670 1268 667 1270 663 1271 660 1272 657 1273 653 1274 649 1274 645 1275 642 1274 638 1274 634 1273 630 1272 626 1270 623 1269 619 1267 616 1264 614 1261 611 1257 609 1254 607 1251 605 1247 603 1244 601 1240 600 1236 600 1232 602 1228 603 1224 604 1220 605 1216 606 1213 607 1210 608 1206 610 1203 611 1200 613 1197 615 1194 617 1191 619 1189 622 1186 624 1184 627 1182 630 1180 632 1178 635 1177 638 1175 641 1173 644 1172 647 1171 650 1169 653 1169 657 1168 660 1167 663 1167 667 1166 671 1166 675 1165 679 1165 682 1166 686 1167 689 1169 692 1171 695 1174 697 1178 699 1181 700 1185 700 1189 701 1193 701 1196 701 1200 701 1203 701 1206 701 1209 701 1212 700 1215 700 1217Z" fill="#404040"/>
<path d="M698 1220 698 1222 697 1225 696 1227 696 1230 695 1232 694 1234 693 1236 693 1239 692 1241 691 1244 689 1246 688 1248 686 1250 685 1252 683 1255 681 1257 679 1259 677 1261 674 1262 672 1264 669 1266 666 1267 663 1268 660 1269 657 1270 653 1270 650 1271 646 1271 643 1271 639 1270 636 1269 632 1268 629 1267 625 1265 622 1263 619 1261 617 1258 614 1255 612 1252 609 1249 607 1246 605 1243 603 1239 602 1236 602 1232 603 1227 605 1224 606 1220 607 1217 608 1213 610 1210 611 1207 612 1204 614 1201 615 1198 617 1195 619 1193 621 1190 623 1188 626 1186 628 1184 631 1182 633 1180 636 1178 639 1177 641 1175 644 1174 647 1172 650 1171 653 1170 657 1170 660 1169 663 1168 667 1168 670 1167 674 1167 678 1168 681 1168 685 1170 688 1171 691 1174 693 1177 695 1180 697 1183 698 1187 698 1191 699 1194 699 1197 700 1201 699 1204 699 1207 699 1210 699 1212 699 1215 699 1217Z" fill="#1d1d1d"/>
<path d="M697 1220 696 1222 696 1225 695 1227 694 1229 693 1231 693 1234 692 1236 691 1238 690 1240 689 1243 688 1245 687 1247 685 1249 684 1251 682 1253 680 1255 678 1257 676 1258 674 1260 671 1261 668 1263 666 1264 663 1265 660 1266 657 1267 654 1267 651 1268 647 1267 644 1267 641 1267 637 1266 634 1265 631 1263 628 1261 625 1259 622 1258 620 1255 617 1253 614 1250 612 1248 609 1245 607 1242 604 1239 603 1235 604 1231 605 1227 607 1224 608 1220 609 1217 611 1214 612 1210 613 1208 615 1205 616 1202 618 1199 620 1197 621 1194 623 1192 625 1189 627 1187 630 1185 632 1183 634 1181 637 1180 639 1178 642 1177 645 1175 648 1174 651 1173 654 1172 657 1171 660 1171 663 1170 667 1170 670 1169 674 1169 677 1170 680 1171 684 1172 687 1174 689 1176 692 1179 693 1182 695 1185 696 1188 697 1192 697 1195 698 1198 698 1201 698 1204 698 1207 698 1210 697 1213 697 1215 697 1218Z" fill="#eeeeee"/>
<path d="M696 1220 696 1222 695 1225 695 1227 694 1229 693 1231 692 1233 692 1236 691 1238 690 1240 689 1242 688 1244 686 1246 685 1248 683 1251 682 1253 680 1255 678 1257 676 1258 673 1259 671 1261 668 1262 666 1264 663 1265 660 1266 657 1267 654 1267 651 1267 647 1267 644 1267 641 1266 638 1265 635 1264 632 1262 629 1260 627 1258 624 1256 621 1254 619 1251 617 1249 615 1246 612 1244 610 1241 608 1238 607 1234 607 1230 609 1227 610 1223 611 1220 613 1217 614 1214 615 1211 616 1208 617 1206 619 1203 620 1200 622 1198 623 1195 625 1193 627 1191 629 1189 631 1187 633 1185 635 1183 638 1181 640 1180 643 1178 645 1177 648 1175 651 1174 654 1173 657 1172 660 1172 663 1171 667 1170 670 1170 673 1170 677 1170 680 1171 683 1173 686 1174 689 1177 691 1179 693 1182 694 1186 695 1189 696 1192 697 1195 697 1199 697 1202 697 1205 697 1207 697 1210 697 1213 697 1215 697 1218Z" fill="#e3e3e3"/>
<path d="M696 1220 695 1222 695 1225 694 1227 694 1229 693 1231 692 1233 691 1235 690 1238 690 1240 689 1242 687 1244 686 1246 685 1248 683 1250 682 1253 680 1255 678 1256 676 1258 673 1259 671 1261 668 1262 666 1263 663 1265 660 1266 657 1266 654 1267 651 1267 647 1267 644 1266 641 1265 638 1264 635 1263 633 1261 630 1259 628 1257 625 1255 623 1252 621 1250 619 1247 617 1245 615 1242 613 1239 612 1236 611 1233 611 1230 612 1226 614 1223 615 1220 616 1217 617 1214 618 1212 619 1209 620 1206 621 1204 623 1202 624 1199 625 1197 627 1194 628 1192 630 1190 632 1188 634 1186 636 1185 638 1183 641 1181 643 1180 646 1178 648 1176 651 1175 654 1174 657 1173 660 1172 663 1172 666 1171 670 1171 673 1171 677 1171 680 1172 683 1173 686 1175 689 1177 691 1180 693 1183 694 1186 695 1189 696 1193 696 1196 697 1199 697 1202 697 1205 697 1208 696 1210 696 1213 696 1215 696 1218Z" fill="#d0d0d0"/>
<path d="M695 1220 695 1222 694 1225 694 1227 693 1229 692 1231 692 1233 691 1235 690 1237 689 1240 688 1242 687 1244 686 1246 684 1248 683 1250 682 1252 680 1254 678 1256 675 1257 673 1259 671 1260 668 1262 666 1263 663 1265 660 1266 657 1266 654 1267 651 1267 648 1266 644 1266 641 1265 639 1263 636 1262 634 1260 631 1258 629 1255 627 1253 625 1251 623 1248 622 1246 620 1243 618 1241 617 1238 615 1235 615 1232 615 1229 616 1226 617 1223 618 1220 619 1217 620 1215 621 1212 622 1210 623 1207 624 1205 625 1203 626 1200 627 1198 628 1196 630 1194 632 1192 633 1190 635 1188 637 1186 639 1184 642 1183 644 1181 646 1179 649 1177 651 1176 654 1175 657 1174 660 1173 663 1173 666 1172 670 1171 673 1171 676 1172 680 1173 683 1174 686 1176 688 1178 690 1180 692 1183 693 1187 694 1190 695 1193 696 1196 696 1199 696 1202 696 1205 696 1208 696 1210 696 1213 696 1215 696 1218Z" fill="#b8b8b8"/>
<path d="M695 1220 694 1222 694 1224 693 1227 693 1229 692 1231 691 1233 690 1235 690 1237 689 1239 688 1241 687 1243 685 1245 684 1247 683 1250 681 1252 680 1254 678 1256 675 1257 673 1259 671 1260 668 1262 666 1263 663 1265 660 1266 657 1266 654 1266 651 1266 648 1266 645 1265 642 1264 639 1262 637 1260 634 1258 632 1256 630 1254 628 1252 627 1249 625 1247 624 1244 623 1241 622 1239 620 1236 619 1234 619 1231 619 1228 620 1225 620 1223 621 1220 622 1218 623 1215 624 1213 625 1210 625 1208 626 1206 627 1204 628 1202 629 1199 630 1197 632 1195 633 1193 635 1191 637 1189 638 1188 640 1186 642 1184 644 1182 647 1180 649 1178 651 1177 654 1176 657 1175 660 1174 663 1173 666 1173 670 1172 673 1172 676 1172 679 1173 682 1175 685 1176 688 1178 690 1181 692 1184 693 1187 694 1190 695 1193 695 1196 696 1199 696 1202 696 1205 696 1208 695 1211 695 1213 695 1215 695 1218Z" fill="#9a9a9a"/>
<path d="M694 1220 694 1222 694 1224 693 1227 693 1229 692 1231 691 1233 690 1235 689 1237 688 1239 687 1241 686 1243 685 1245 684 1247 683 1249 681 1252 679 1254 677 1255 675 1257 673 1258 671 1260 668 1261 666 1263 663 1264 660 1265 657 1266 654 1266 651 1266 648 1266 645 1265 642 1264 639 1262 637 1259 635 1257 633 1255 631 1253 630 1250 629 1248 628 1245 627 1242 626 1240 625 1237 624 1235 623 1233 622 1230 623 1227 623 1225 624 1222 625 1220 625 1218 626 1216 627 1213 627 1211 628 1209 629 1207 630 1205 630 1203 631 1201 632 1199 633 1196 634 1194 636 1193 638 1191 639 1189 641 1187 643 1185 645 1184 647 1182 649 1179 652 1178 654 1177 657 1176 660 1175 663 1174 666 1174 669 1173 673 1173 676 1173 679 1174 682 1175 685 1177 688 1179 690 1181 691 1184 692 1188 693 1191 694 1194 695 1197 695 1200 695 1203 695 1205 695 1208 695 1211 695 1213 695 1215 694 1218Z" fill="#767676"/>
<path d="M694 1220 693 1222 693 1224 693 1227 692 1229 691 1231 691 1233 690 1235 689 1237 688 1239 687 1241 686 1243 685 1245 684 1247 682 1249 681 1251 679 1253 677 1255 675 1256 673 1258 671 1259 668 1261 666 1263 663 1264 660 1265 657 1266 654 1266 651 1266 648 1265 645 1264 642 1263 640 1261 638 1258 636 1256 634 1254 632 1251 631 1249 630 1246 630 1243 629 1241 628 1238 628 1236 627 1234 627 1231 626 1229 626 1227 627 1224 627 1222 628 1220 629 1218 629 1216 630 1214 630 1212 631 1210 631 1208 632 1206 633 1204 633 1202 634 1200 635 1198 636 1196 637 1194 639 1192 640 1191 642 1189 644 1187 645 1185 647 1183 649 1181 652 1179 654 1177 657 1177 660 1176 663 1175 666 1174 669 1174 673 1173 676 1174 679 1175 682 1176 685 1177 687 1179 689 1182 691 1185 692 1188 693 1191 694 1194 694 1197 695 1200 695 1203 695 1206 695 1208 694 1211 694 1213 694 1216 694 1218Z" fill="#4e4e4e"/>
<path d="M693 1220 693 1222 693 1224 692 1226 692 1229 691 1231 690 1233 689 1234 688 1236 687 1238 686 1240 685 1242 684 1244 683 1247 682 1249 681 1251 679 1253 677 1255 675 1256 673 1258 670 1259 668 1261 666 1262 663 1264 660 1265 657 1266 654 1266 651 1265 648 1265 645 1264 642 1262 640 1260 638 1257 637 1255 635 1253 634 1250 633 1247 632 1244 632 1242 631 1239 631 1237 631 1234 631 1232 630 1230 630 1228 630 1226 631 1224 631 1222 631 1220 632 1218 632 1216 633 1215 633 1213 633 1211 634 1209 634 1207 635 1205 635 1203 636 1201 636 1199 637 1197 639 1196 640 1194 641 1192 643 1190 644 1188 646 1186 648 1184 650 1182 652 1180 655 1178 657 1177 660 1177 663 1176 666 1175 669 1174 672 1174 675 1174 678 1176 681 1177 684 1178 687 1180 689 1182 690 1185 691 1189 692 1192 693 1195 694 1197 694 1200 694 1203 694 1206 694 1208 694 1211 694 1213 693 1216 693 1218Z" fill="#222222"/>
<path d="M693 1220 692 1222 692 1224 692 1226 692 1228 691 1230 690 1232 689 1234 688 1236 687 1238 686 1240 685 1242 684 1244 683 1246 682 1248 680 1251 679 1253 677 1254 675 1256 673 1257 670 1259 668 1260 666 1262 663 1264 660 1265 657 1266 654 1265 651 1265 648 1265 645 1264 643 1262 641 1259 639 1256 637 1254 636 1251 635 1249 634 1246 634 1243 634 1240 634 1237 634 1235 634 1233 634 1231 634 1229 634 1227 634 1225 634 1223 634 1222 635 1220 635 1218 635 1217 635 1215 636 1213 636 1212 636 1210 637 1208 637 1207 637 1205 637 1203 638 1201 639 1199 640 1197 641 1195 642 1194 644 1192 645 1190 647 1188 648 1185 650 1183 652 1181 655 1179 657 1178 660 1178 663 1177 666 1176 669 1175 672 1175 675 1175 678 1176 681 1177 684 1178 687 1180 689 1183 690 1186 691 1189 692 1192 693 1195 693 1198 694 1201 694 1203 694 1206 693 1209 693 1211 693 1213 693 1216 693 1218Z" fill="#eeeeee"/>
<path d="M692 1220 692 1222 691 1224 691 1226 691 1228 690 1230 689 1232 688 1234 687 1236 686 1238 685 1240 685 1242 684 1244 682 1246 681 1248 680 1250 678 1252 676 1253 674 1255 672 1256 670 1258 668 1259 665 1261 663 1263 660 1264 657 1264 654 1264 651 1264 648 1263 646 1262 643 1260 641 1258 640 1255 638 1253 637 1250 636 1248 635 1245 635 1242 635 1239 635 1237 635 1235 635 1232 635 1230 635 1229 635 1227 635 1225 635 1223 635 1222 636 1220 636 1218 636 1217 636 1215 637 1214 637 1212 637 1211 637 1209 638 1207 638 1205 638 1203 639 1202 640 1200 641 1198 642 1196 643 1195 644 1193 646 1191 647 1189 649 1187 650 1184 652 1182 655 1181 657 1180 660 1179 663 1178 666 1177 669 1176 672 1176 675 1176 678 1177 681 1178 683 1179 686 1181 688 1184 689 1187 690 1190 691 1193 692 1196 693 1198 693 1201 693 1204 693 1206 693 1209 693 1211 692 1214 692 1216 692 1218Z" fill="#e3e3e3"/>
<path d="M691 1220 691 1222 691 1224 690 1226 690 1228 689 1230 688 1232 687 1234 687 1235 686 1237 685 1239 684 1241 683 1243 682 1245 681 1247 679 1249 678 1251 676 1252 674 1254 672 1255 670 1257 668 1258 665 1260 663 1262 660 1262 657 1263 654 1263 652 1262 649 1262 646 1261 644 1259 642 1257 640 1254 639 1252 637 1250 636 1247 636 1244 635 1242 635 1239 635 1236 635 1234 635 1232 635 1230 636 1228 636 1227 636 1225 636 1223 636 1222 636 1220 637 1218 637 1217 637 1215 638 1214 638 1212 638 1211 638 1209 639 1208 639 1206 639 1204 640 1202 641 1201 641 1199 643 1197 644 1196 645 1194 646 1192 648 1190 649 1188 651 1186 653 1184 655 1182 657 1181 660 1180 663 1179 665 1179 668 1178 671 1177 674 1178 677 1178 680 1179 683 1180 685 1182 687 1184 689 1187 690 1190 690 1193 691 1196 692 1199 692 1201 692 1204 692 1207 692 1209 692 1211 692 1214 692 1216 691 1218Z" fill="#d0d0d0"/>
<path d="M690 1220 690 1222 690 1224 689 1226 689 1228 688 1230 687 1231 687 1233 686 1235 685 1237 684 1239 683 1241 682 1242 681 1244 680 1246 679 1248 677 1250 675 1251 674 1253 672 1254 670 1256 667 1257 665 1259 663 1260 660 1261 657 1261 655 1261 652 1261 649 1261 647 1260 644 1258 642 1256 641 1253 639 1251 638 1249 637 1246 636 1244 636 1241 636 1238 636 1236 636 1234 636 1232 636 1230 636 1228 636 1226 637 1225 637 1223 637 1222 637 1220 638 1219 638 1217 638 1216 638 1214 639 1213 639 1211 639 1210 640 1208 640 1207 640 1205 641 1203 641 1201 642 1200 643 1198 644 1197 646 1195 647 1193 648 1192 650 1190 651 1187 653 1186 655 1184 658 1183 660 1182 663 1181 665 1180 668 1179 671 1179 674 1179 677 1179 680 1180 682 1181 685 1183 687 1185 688 1188 689 1191 690 1194 690 1197 691 1199 691 1202 691 1205 691 1207 691 1209 691 1212 691 1214 691 1216 691 1218Z" fill="#b8b8b8"/>
<path d="M690 1220 689 1222 689 1224 689 1226 688 1228 687 1229 687 1231 686 1233 685 1235 684 1236 684 1238 683 1240 682 1242 681 1244 680 1245 678 1247 677 1249 675 1250 673 1252 671 1253 669 1255 667 1256 665 1258 663 1259 660 1260 657 1260 655 1260 652 1260 649 1259 647 1258 645 1257 643 1254 641 1252 640 1250 639 1248 638 1245 637 1243 637 1240 637 1238 637 1235 637 1233 637 1231 637 1230 637 1228 637 1226 638 1224 638 1223 638 1221 638 1220 639 1219 639 1217 639 1216 639 1214 640 1213 640 1212 640 1210 641 1209 641 1207 641 1206 642 1204 642 1202 643 1201 644 1199 645 1198 646 1196 647 1195 649 1193 650 1191 652 1189 653 1187 655 1186 658 1184 660 1183 662 1182 665 1181 668 1181 671 1180 674 1180 676 1180 679 1181 682 1182 684 1184 686 1186 687 1189 688 1192 689 1194 690 1197 690 1200 690 1202 691 1205 691 1207 691 1210 691 1212 690 1214 690 1216 690 1218Z" fill="#9a9a9a"/>
<path d="M689 1220 689 1222 688 1224 688 1226 687 1227 687 1229 686 1231 685 1232 684 1234 684 1236 683 1238 682 1240 681 1241 680 1243 679 1245 678 1246 676 1248 674 1249 673 1251 671 1252 669 1254 667 1255 665 1257 662 1258 660 1258 657 1258 655 1258 652 1258 650 1258 647 1257 645 1256 644 1253 642 1251 641 1249 639 1247 638 1245 638 1242 638 1240 638 1237 638 1235 638 1233 638 1231 638 1229 638 1227 638 1226 638 1224 639 1223 639 1221 639 1220 640 1219 640 1217 640 1216 640 1215 641 1213 641 1212 641 1211 641 1209 642 1208 642 1206 643 1205 643 1203 644 1202 645 1200 646 1199 647 1197 648 1196 649 1194 651 1193 652 1191 654 1189 656 1187 658 1186 660 1184 662 1183 665 1183 668 1182 670 1182 673 1181 676 1182 679 1182 681 1184 683 1185 685 1187 687 1189 688 1192 688 1195 689 1198 689 1200 690 1203 690 1205 690 1208 690 1210 690 1212 690 1214 690 1216 689 1218Z" fill="#767676"/>
<path d="M688 1220 688 1222 687 1224 687 1225 686 1227 686 1229 685 1230 684 1232 684 1234 683 1235 682 1237 682 1239 681 1241 680 1242 678 1244 677 1245 676 1247 674 1248 672 1250 671 1251 669 1253 667 1254 665 1255 662 1256 660 1257 658 1257 655 1257 653 1257 650 1257 648 1256 646 1254 644 1252 643 1250 641 1248 640 1246 639 1244 639 1241 638 1239 638 1237 638 1234 638 1232 638 1231 639 1229 639 1227 639 1226 639 1224 640 1223 640 1221 640 1220 640 1219 641 1217 641 1216 641 1215 642 1214 642 1212 642 1211 642 1210 643 1208 643 1207 643 1205 644 1204 645 1202 645 1201 646 1200 648 1198 649 1197 650 1196 651 1194 653 1192 654 1191 656 1189 658 1187 660 1186 662 1185 665 1184 667 1183 670 1183 673 1182 675 1183 678 1183 680 1185 683 1186 685 1188 686 1190 687 1193 688 1196 688 1198 689 1201 689 1203 689 1206 689 1208 689 1210 689 1212 689 1214 689 1216 689 1218Z" fill="#4e4e4e"/>
<path d="M687 1220 687 1222 686 1223 686 1225 685 1227 685 1228 684 1230 684 1232 683 1233 682 1235 682 1237 681 1239 680 1240 679 1242 678 1243 676 1245 675 1246 673 1247 672 1249 670 1250 668 1251 667 1253 665 1254 662 1255 660 1255 658 1256 655 1255 653 1255 651 1255 648 1255 646 1253 645 1251 643 1249 642 1247 641 1245 640 1243 639 1241 639 1238 639 1236 639 1234 639 1232 639 1230 639 1229 640 1227 640 1225 640 1224 640 1223 641 1221 641 1220 641 1219 642 1218 642 1216 642 1215 642 1214 643 1213 643 1212 643 1210 644 1209 644 1208 644 1206 645 1205 645 1203 646 1202 647 1201 648 1200 649 1198 650 1197 652 1195 653 1194 654 1192 656 1190 658 1189 660 1187 662 1186 665 1185 667 1185 670 1184 672 1184 675 1184 678 1184 680 1186 682 1187 684 1189 686 1191 687 1193 687 1196 687 1199 688 1201 688 1204 688 1206 688 1208 688 1210 688 1212 689 1214 688 1216 688 1218Z" fill="#222222"/>
<path d="M687 1220 686 1222 686 1223 685 1225 685 1227 684 1228 683 1230 683 1231 682 1233 682 1235 681 1236 681 1238 680 1240 679 1241 677 1242 676 1244 674 1245 673 1246 671 1248 670 1249 668 1250 666 1252 664 1253 662 1254 660 1254 658 1254 656 1254 653 1254 651 1254 649 1253 647 1252 645 1250 644 1248 643 1246 641 1244 641 1242 640 1240 640 1238 640 1235 640 1233 640 1232 640 1230 640 1228 640 1227 641 1225 641 1224 641 1222 642 1221 642 1220 642 1219 643 1218 643 1217 643 1215 643 1214 644 1213 644 1212 644 1211 645 1210 645 1208 645 1207 646 1206 646 1204 647 1203 648 1202 649 1201 650 1199 651 1198 652 1197 653 1195 655 1194 656 1192 658 1190 660 1189 662 1187 664 1187 667 1186 669 1186 672 1185 675 1185 677 1185 679 1187 681 1188 683 1190 685 1192 686 1194 686 1197 687 1200 687 1202 687 1204 687 1207 687 1209 688 1211 688 1213 688 1214 688 1216 687 1218Z" fill="#eeeeee"/>
<path d="M685 1220 685 1222 684 1223 684 1225 683 1226 683 1228 682 1229 682 1231 681 1232 681 1234 680 1235 680 1237 679 1239 678 1240 676 1241 675 1243 674 1244 672 1245 671 1246 669 1248 668 1249 666 1251 664 1252 662 1252 660 1253 658 1253 656 1253 653 1253 651 1253 649 1252 647 1251 646 1249 644 1247 643 1246 642 1244 641 1242 640 1240 640 1237 640 1235 640 1233 640 1231 640 1230 640 1228 641 1227 641 1225 641 1224 642 1222 642 1221 642 1220 643 1219 643 1218 643 1217 643 1216 644 1214 644 1213 644 1212 644 1211 645 1210 645 1209 646 1207 646 1206 647 1205 647 1203 648 1202 649 1201 650 1200 651 1199 652 1198 654 1196 655 1195 656 1193 658 1191 660 1190 662 1189 664 1188 666 1187 669 1187 671 1186 674 1186 677 1186 679 1188 680 1189 682 1191 684 1193 685 1195 685 1198 686 1200 686 1203 686 1205 686 1207 686 1209 686 1211 686 1213 686 1215 686 1217 686 1218Z" fill="#e3e3e3"/>
<path d="M684 1220 684 1222 683 1223 683 1225 682 1226 682 1227 681 1229 681 1230 680 1232 680 1233 679 1235 678 1236 678 1238 677 1239 675 1240 674 1241 673 1243 672 1244 670 1245 669 1247 667 1248 666 1249 664 1250 662 1251 660 1251 658 1251 656 1252 654 1252 651 1252 649 1251 648 1250 646 1248 645 1247 643 1245 642 1243 641 1241 641 1239 641 1237 641 1235 641 1233 641 1231 641 1230 641 1228 641 1226 641 1225 642 1224 642 1222 642 1221 643 1220 643 1219 643 1218 643 1217 644 1216 644 1215 644 1213 644 1212 645 1211 645 1210 646 1209 646 1208 646 1206 647 1205 648 1204 649 1203 650 1202 651 1201 652 1200 653 1198 654 1197 655 1195 657 1194 658 1192 660 1191 662 1190 664 1189 666 1189 669 1188 671 1187 674 1187 676 1188 678 1189 680 1191 681 1192 683 1194 684 1196 684 1199 684 1201 685 1204 685 1206 685 1208 685 1210 685 1212 685 1213 685 1215 685 1217 685 1218Z" fill="#d0d0d0"/>
<path d="M683 1220 682 1221 682 1223 682 1224 681 1226 681 1227 680 1228 680 1230 679 1231 679 1232 678 1234 677 1235 677 1237 676 1238 675 1239 673 1240 672 1241 671 1243 670 1244 669 1245 667 1247 666 1248 664 1249 662 1250 660 1250 658 1250 656 1251 654 1251 652 1251 650 1250 648 1249 646 1248 645 1246 644 1245 642 1243 642 1241 641 1239 641 1237 641 1235 641 1233 641 1231 641 1229 641 1228 641 1226 642 1225 642 1224 642 1222 643 1221 643 1220 643 1219 643 1218 644 1217 644 1216 644 1215 644 1214 645 1212 645 1211 645 1210 646 1209 646 1208 647 1207 647 1206 648 1205 649 1204 650 1202 651 1201 652 1200 653 1199 654 1198 655 1196 657 1195 658 1193 660 1192 662 1191 664 1190 666 1190 668 1189 671 1189 673 1188 675 1189 677 1190 679 1192 681 1193 682 1195 683 1197 683 1200 683 1202 683 1204 683 1206 683 1208 684 1210 684 1212 684 1214 684 1215 684 1217 683 1218Z" fill="#b8b8b8"/>
<path d="M682 1220 681 1221 681 1223 681 1224 680 1225 680 1227 679 1228 679 1229 678 1230 677 1232 677 1233 676 1234 676 1236 675 1237 674 1238 673 1239 672 1240 671 1241 669 1243 668 1244 667 1245 665 1246 664 1247 662 1248 660 1249 658 1249 656 1249 654 1250 652 1250 650 1249 648 1248 647 1247 645 1246 644 1244 643 1243 642 1241 641 1239 641 1236 641 1234 641 1233 641 1231 641 1229 642 1228 642 1226 642 1225 642 1224 643 1222 643 1221 643 1220 643 1219 644 1218 644 1217 644 1216 644 1215 645 1214 645 1213 645 1211 646 1210 646 1209 647 1208 647 1207 648 1206 649 1205 649 1204 650 1203 651 1202 652 1201 653 1200 654 1198 655 1197 657 1196 658 1194 660 1193 662 1192 664 1192 666 1191 668 1191 670 1190 673 1190 675 1190 677 1191 678 1193 680 1194 681 1196 682 1198 682 1201 682 1203 682 1205 682 1207 682 1209 682 1211 682 1212 682 1214 682 1216 682 1217 682 1219Z" fill="#9a9a9a"/>
<path d="M680 1220 680 1221 680 1223 679 1224 679 1225 679 1226 678 1227 677 1229 677 1230 676 1231 676 1232 675 1233 675 1235 674 1236 673 1237 672 1238 671 1239 670 1240 669 1241 668 1243 666 1244 665 1245 663 1246 662 1247 660 1247 658 1248 656 1248 654 1249 652 1249 650 1248 649 1247 647 1246 646 1245 644 1244 643 1242 642 1240 642 1238 642 1236 641 1234 641 1232 641 1231 642 1229 642 1228 642 1226 642 1225 643 1223 643 1222 643 1221 643 1220 644 1219 644 1218 644 1217 644 1216 645 1215 645 1214 645 1213 645 1212 646 1211 646 1210 647 1209 648 1208 648 1207 649 1206 650 1205 651 1204 651 1203 652 1202 653 1200 654 1199 656 1198 657 1196 658 1195 660 1194 662 1193 664 1193 665 1192 668 1192 670 1191 672 1191 674 1191 676 1193 677 1194 679 1196 680 1197 681 1199 681 1201 681 1204 681 1206 681 1208 681 1210 681 1211 681 1213 681 1214 681 1216 681 1217 681 1219Z" fill="#767676"/>
<path d="M679 1220 679 1221 679 1222 678 1224 678 1225 677 1226 677 1227 676 1228 676 1229 675 1230 675 1231 674 1232 673 1233 673 1235 672 1236 671 1237 670 1238 669 1239 668 1240 667 1242 666 1243 665 1244 663 1245 662 1245 660 1246 658 1246 656 1247 655 1247 653 1248 651 1247 649 1246 648 1245 646 1244 645 1243 643 1242 643 1240 642 1238 642 1236 642 1234 642 1232 642 1231 642 1229 642 1227 642 1226 643 1225 643 1223 643 1222 644 1221 644 1220 644 1219 644 1218 644 1217 645 1216 645 1215 645 1214 645 1213 646 1212 646 1211 647 1210 647 1209 648 1208 649 1207 649 1206 650 1205 651 1204 652 1203 653 1202 654 1201 655 1200 656 1199 657 1197 658 1196 660 1195 662 1195 663 1194 665 1194 667 1193 669 1192 672 1192 674 1193 675 1194 676 1195 678 1197 679 1198 680 1200 680 1202 680 1205 680 1207 680 1209 680 1210 680 1212 680 1213 680 1215 679 1216 679 1217 679 1219Z" fill="#4e4e4e"/>
<path d="M678 1220 678 1221 677 1222 677 1223 677 1225 676 1226 676 1227 675 1228 674 1229 674 1230 673 1231 672 1232 672 1233 671 1234 670 1236 670 1237 669 1238 668 1239 667 1240 666 1241 664 1242 663 1243 662 1244 660 1244 658 1245 657 1246 655 1246 653 1247 651 1246 649 1245 648 1245 646 1244 645 1243 644 1241 643 1239 643 1237 642 1236 642 1234 642 1232 642 1230 642 1229 643 1227 643 1226 643 1225 643 1223 644 1222 644 1221 644 1220 644 1219 644 1218 645 1217 645 1216 645 1215 645 1214 646 1213 646 1212 646 1211 647 1210 648 1209 648 1208 649 1207 650 1207 650 1206 651 1205 652 1204 653 1203 654 1202 655 1201 656 1199 657 1198 658 1197 660 1196 662 1196 663 1195 665 1195 667 1194 669 1194 671 1193 673 1194 674 1195 676 1197 677 1198 678 1199 679 1201 679 1203 679 1206 679 1208 679 1209 678 1211 678 1212 678 1214 678 1215 678 1216 678 1218 678 1219Z" fill="#222222"/>
<path d="M676 1220 676 1221 676 1222 676 1223 676 1224 675 1225 675 1226 674 1227 674 1228 673 1229 673 1230 672 1230 671 1231 671 1232 670 1233 670 1234 669 1235 668 1237 667 1238 666 1239 665 1240 664 1241 663 1242 661 1242 660 1243 658 1244 657 1245 655 1245 653 1245 651 1245 650 1244 648 1244 647 1243 645 1242 644 1241 643 1239 643 1237 643 1235 642 1234 642 1232 642 1230 643 1229 643 1227 643 1226 643 1224 644 1223 644 1222 644 1221 644 1220 645 1219 645 1218 645 1217 645 1216 645 1215 646 1214 646 1213 646 1212 647 1211 647 1210 648 1210 649 1209 649 1208 650 1207 651 1206 652 1205 653 1204 654 1203 655 1201 656 1200 657 1199 659 1198 660 1197 662 1197 663 1197 665 1196 667 1195 669 1195 671 1195 672 1195 674 1196 675 1198 676 1199 677 1201 678 1202 678 1204 678 1206 677 1208 677 1210 677 1212 677 1213 677 1214 677 1215 677 1217 677 1218 676 1219Z" fill="#bcbcbc"/>
<path d="M674 1220 674 1221 674 1222 674 1223 674 1224 673 1225 672 1226 672 1227 671 1228 670 1229 670 1230 669 1231 669 1232 668 1233 667 1235 666 1236 666 1237 665 1238 664 1238 662 1239 661 1240 660 1240 659 1241 657 1242 656 1242 654 1242 653 1242 651 1241 650 1241 648 1240 647 1239 646 1238 645 1237 645 1235 645 1233 644 1232 644 1230 645 1229 645 1227 645 1226 645 1225 646 1224 646 1223 646 1222 646 1221 646 1220 647 1219 647 1218 647 1217 647 1216 647 1215 648 1214 648 1213 648 1212 649 1212 650 1211 650 1210 651 1209 652 1208 653 1207 653 1206 654 1206 655 1205 656 1204 657 1203 658 1202 659 1201 660 1200 661 1200 663 1199 664 1199 666 1199 667 1198 669 1198 671 1198 672 1199 673 1201 674 1202 675 1203 675 1205 676 1206 675 1208 675 1210 675 1211 675 1213 675 1214 675 1215 675 1216 675 1217 675 1218 674 1219Z" fill="#959595"/>
<path d="M672 1220 672 1221 672 1222 672 1223 671 1224 671 1225 670 1226 670 1227 669 1227 669 1228 669 1229 668 1229 668 1230 667 1231 667 1232 666 1232 666 1233 665 1234 664 1235 663 1236 662 1236 661 1237 660 1237 659 1238 658 1239 656 1239 655 1239 654 1239 652 1238 651 1238 650 1237 649 1237 648 1236 648 1234 647 1233 647 1231 647 1230 647 1229 647 1228 647 1226 647 1225 647 1224 648 1223 648 1222 648 1221 648 1220 648 1219 649 1218 649 1217 649 1216 649 1215 650 1214 650 1213 651 1213 651 1212 652 1212 652 1211 653 1210 654 1209 654 1208 655 1208 656 1207 656 1206 657 1205 658 1204 659 1204 660 1203 661 1203 662 1202 664 1202 665 1202 666 1201 668 1201 669 1201 670 1202 671 1203 672 1204 673 1205 673 1207 673 1208 673 1210 673 1211 673 1213 673 1214 673 1215 673 1216 673 1217 673 1218 672 1218 672 1219Z" fill="#7b7b7b"/>
<path d="M670 1220 670 1221 670 1222 670 1223 669 1224 669 1225 668 1225 668 1226 667 1227 667 1228 666 1228 666 1229 666 1230 665 1230 665 1231 664 1232 663 1233 662 1234 661 1234 660 1234 659 1235 658 1235 657 1236 656 1236 655 1236 654 1235 653 1235 652 1234 651 1234 650 1233 650 1232 649 1231 649 1230 649 1228 649 1227 649 1226 649 1225 649 1224 650 1224 650 1223 650 1222 650 1221 650 1220 650 1219 651 1218 651 1217 651 1216 651 1215 652 1214 653 1213 653 1212 654 1212 654 1211 655 1211 655 1210 656 1210 656 1209 657 1208 658 1208 658 1207 659 1206 660 1206 661 1206 662 1205 663 1205 664 1205 665 1204 667 1204 668 1204 669 1205 669 1206 670 1207 671 1208 671 1209 671 1210 671 1212 671 1213 671 1214 671 1215 671 1216 671 1217 670 1218 670 1219Z" fill="#656565"/>
<path d="M668 1220 668 1221 668 1222 668 1223 667 1223 667 1224 666 1225 666 1226 665 1226 665 1227 664 1228 664 1229 663 1230 662 1230 661 1231 660 1232 659 1232 658 1232 657 1233 656 1233 655 1232 654 1232 653 1232 653 1231 652 1230 651 1229 651 1228 651 1227 651 1226 651 1225 651 1224 652 1223 652 1222 652 1221 652 1220 652 1219 653 1218 653 1217 653 1216 654 1215 654 1214 655 1214 655 1213 656 1213 656 1212 657 1212 657 1211 658 1211 658 1210 659 1209 660 1209 661 1208 662 1208 663 1208 664 1207 665 1207 666 1208 667 1208 667 1209 668 1210 669 1210 669 1211 669 1212 669 1213 669 1214 669 1215 669 1216 668 1217 668 1218 668 1219Z" fill="#525252"/>
<path d="M666 1220 666 1221 666 1222 665 1223 665 1224 664 1224 664 1225 663 1226 663 1227 662 1227 662 1228 661 1228 660 1229 659 1229 658 1229 657 1230 657 1229 656 1229 655 1229 654 1228 654 1227 654 1226 653 1226 653 1225 653 1224 653 1223 654 1223 654 1222 654 1221 654 1220 654 1219 655 1218 655 1217 655 1216 656 1216 656 1215 657 1215 657 1214 658 1213 659 1213 659 1212 660 1212 661 1211 662 1211 663 1211 664 1210 665 1211 666 1212 666 1213 667 1213 667 1214 667 1215 667 1216 666 1216 666 1217 666 1218 666 1219 666 1220Z" fill="#424242"/>
<path d="M664 1220 664 1221 664 1222 663 1222 663 1223 662 1224 662 1225 661 1225 660 1226 659 1226 658 1226 657 1226 656 1226 656 1225 656 1224 656 1223 656 1222 656 1221 656 1220 656 1219 656 1218 657 1218 657 1217 658 1217 658 1216 659 1216 659 1215 660 1215 660 1214 661 1214 662 1214 663 1214 664 1214 664 1215 664 1216 664 1217 664 1218 664 1219 664 1220Z" fill="#333333"/>
<path d="M662 1220 662 1221 661 1221 661 1222 661 1223 660 1223 659 1223 658 1223 658 1222 658 1221 658 1220 658 1219 659 1219 659 1218 660 1218 660 1217 661 1217 662 1217 662 1218 662 1219 662 1220Z" fill="#252525"/>
</g>
<ellipse cx="333.5" cy="603" rx="4" ry="4" fill="url(#spot)"/>
<ellipse cx="327" cy="610" rx="4" ry="4" fill="url(#spot)"/>
<g fill="none" stroke="#151515" stroke-width="2" transform="scale(.5)">
<path d="M698 1220 698 1222 697 1225 696 1227 696 1230 695 1232 694 1234 693 1236 693 1239 692 1241 691 1243 689 1246 688 1248 686 1250 685 1252 683 1254 681 1256 679 1258 676 1260 674 1261 671 1263 669 1264 666 1265 663 1266 660 1267 657 1268 654 1269 650 1269 647 1269 644 1268 640 1268 637 1267 633 1266 630 1264 627 1262 624 1261 621 1259 618 1256 616 1254 613 1251 610 1249 608 1246 605 1243 603 1239 602 1236 602 1231 604 1227 605 1224 606 1220 608 1217 609 1213 611 1210 612 1207 613 1204 615 1201 617 1199 618 1196 620 1193 622 1191 624 1188 626 1186 629 1184 631 1182 633 1180 636 1178 639 1177 642 1175 644 1174 647 1173 650 1172 654 1171 657 1170 660 1169 663 1169 667 1168 670 1168 674 1168 678 1168 681 1169 684 1171 687 1173 690 1175 692 1178 694 1181 696 1184 697 1187 698 1191 698 1194 699 1198 699 1201 699 1204 699 1207 699 1210 699 1212 699 1215 699 1217Z"/>
<path d="M694 1220 694 1222 694 1224 694 1227 693 1229 692 1231 691 1233 690 1235 689 1237 688 1239 687 1241 686 1243 685 1245 684 1247 683 1250 681 1252 680 1254 678 1256 675 1257 673 1259 671 1260 668 1262 666 1264 663 1266 660 1267 657 1267 654 1267 651 1266 648 1266 645 1265 642 1263 640 1260 638 1258 637 1255 635 1252 634 1250 633 1247 633 1244 633 1241 633 1238 633 1236 633 1234 633 1231 633 1229 633 1227 633 1225 633 1224 633 1222 633 1220 633 1218 634 1217 634 1215 634 1213 635 1211 635 1210 635 1208 636 1206 636 1204 636 1202 637 1200 638 1198 639 1196 640 1194 642 1192 643 1190 644 1188 646 1186 648 1184 650 1181 652 1179 654 1178 657 1177 660 1176 663 1175 666 1174 669 1173 673 1173 676 1174 679 1175 682 1176 685 1177 687 1179 690 1182 691 1185 692 1188 693 1191 694 1194 695 1197 695 1200 695 1203 695 1205 695 1208 695 1211 695 1213 694 1215 694 1218Z"/>
<path d="M688 1220 688 1222 687 1224 687 1225 686 1227 685 1229 685 1230 684 1232 684 1234 683 1235 682 1237 682 1239 681 1241 680 1242 678 1244 677 1245 675 1246 674 1248 672 1249 670 1250 669 1252 667 1253 665 1255 662 1255 660 1256 658 1256 655 1256 653 1256 650 1256 648 1255 646 1253 645 1251 643 1249 642 1247 641 1245 640 1243 639 1241 639 1239 639 1236 639 1234 639 1232 639 1231 639 1229 639 1227 639 1226 640 1224 640 1223 640 1221 640 1220 641 1219 641 1218 641 1216 642 1215 642 1214 642 1213 643 1211 643 1210 643 1209 644 1207 644 1206 645 1205 645 1203 646 1202 647 1201 648 1199 649 1198 650 1197 652 1195 653 1194 655 1192 656 1191 658 1189 660 1187 662 1186 665 1185 667 1185 670 1184 672 1184 675 1183 678 1184 680 1185 682 1187 684 1189 686 1190 687 1193 688 1196 688 1199 688 1201 688 1204 689 1206 689 1208 689 1210 689 1212 689 1214 689 1216 689 1218Z"/>
<path d="M678 1220 678 1221 678 1222 678 1223 677 1225 677 1226 676 1227 676 1228 675 1229 674 1230 674 1231 673 1231 672 1232 672 1233 671 1235 670 1236 670 1237 669 1238 668 1239 667 1241 666 1242 664 1242 663 1243 662 1244 660 1245 658 1245 657 1246 655 1247 653 1247 651 1246 649 1246 648 1245 646 1244 644 1243 643 1242 642 1240 642 1238 641 1236 641 1235 641 1233 641 1231 641 1229 642 1228 642 1226 642 1225 642 1224 642 1222 643 1221 643 1220 643 1219 643 1218 644 1217 644 1216 644 1215 644 1213 644 1212 645 1211 645 1210 646 1209 647 1209 648 1208 648 1207 649 1206 650 1205 651 1204 652 1203 653 1202 654 1201 655 1200 656 1199 657 1197 658 1197 660 1196 662 1195 663 1195 665 1195 667 1194 669 1194 671 1193 673 1194 674 1195 676 1197 677 1198 678 1199 679 1201 679 1203 679 1206 679 1207 679 1209 679 1211 678 1212 678 1214 678 1215 678 1216 678 1218 678 1219Z"/>
</g>
<g fill="none" stroke="#f6f6f6" stroke-width="2.2" transform="scale(.5)">
<path d="M697 1220 696 1222 696 1225 695 1227 694 1229 693 1231 693 1234 692 1236 691 1238 690 1240 689 1243 688 1245 687 1247 685 1249 684 1251 682 1253 680 1255 678 1257 676 1258 674 1260 671 1261 668 1263 666 1264 663 1265 660 1266 657 1267 654 1267 651 1268 647 1267 644 1267 641 1267 637 1266 634 1265 631 1263 628 1261 625 1259 622 1258 620 1255 617 1253 614 1250 612 1248 609 1245 607 1242 604 1239 603 1235 604 1231 605 1227 607 1224 608 1220 609 1217 611 1214 612 1210 613 1208 615 1205 616 1202 618 1199 620 1197 621 1194 623 1192 625 1189 627 1187 630 1185 632 1183 634 1181 637 1180 639 1178 642 1177 645 1175 648 1174 651 1173 654 1172 657 1171 660 1171 663 1170 667 1170 670 1169 674 1169 677 1170 680 1171 684 1172 687 1174 689 1176 692 1179 693 1182 695 1185 696 1188 697 1192 697 1195 698 1198 698 1201 698 1204 698 1207 698 1210 697 1213 697 1215 697 1218Z"/>
<path d="M693 1220 692 1222 692 1224 692 1226 692 1228 691 1230 690 1232 689 1234 688 1236 687 1238 686 1240 685 1242 684 1244 683 1246 682 1248 680 1251 679 1253 677 1254 675 1256 673 1257 670 1259 668 1260 666 1262 663 1264 660 1265 657 1266 654 1265 651 1265 648 1265 645 1264 643 1262 641 1259 639 1256 637 1254 636 1251 635 1249 634 1246 634 1243 634 1240 634 1237 634 1235 634 1233 634 1231 634 1229 634 1227 634 1225 634 1223 634 1222 635 1220 635 1218 635 1217 635 1215 636 1213 636 1212 636 1210 637 1208 637 1207 637 1205 637 1203 638 1201 639 1199 640 1197 641 1195 642 1194 644 1192 645 1190 647 1188 648 1185 650 1183 652 1181 655 1179 657 1178 660 1178 663 1177 666 1176 669 1175 672 1175 675 1175 678 1176 681 1177 684 1178 687 1180 689 1183 690 1186 691 1189 692 1192 693 1195 693 1198 694 1201 694 1203 694 1206 693 1209 693 1211 693 1213 693 1216 693 1218Z"/>
<path d="M687 1220 686 1222 686 1223 685 1225 685 1227 684 1228 683 1230 683 1231 682 1233 682 1235 681 1236 681 1238 680 1240 679 1241 677 1242 676 1244 674 1245 673 1246 671 1248 670 1249 668 1250 666 1252 664 1253 662 1254 660 1254 658 1254 656 1254 653 1254 651 1254 649 1253 647 1252 645 1250 644 1248 643 1246 641 1244 641 1242 640 1240 640 1238 640 1235 640 1233 640 1232 640 1230 640 1228 640 1227 641 1225 641 1224 641 1222 642 1221 642 1220 642 1219 643 1218 643 1217 643 1215 643 1214 644 1213 644 1212 644 1211 645 1210 645 1208 645 1207 646 1206 646 1204 647 1203 648 1202 649 1201 650 1199 651 1198 652 1197 653 1195 655 1194 656 1192 658 1190 660 1189 662 1187 664 1187 667 1186 669 1186 672 1185 675 1185 677 1185 679 1187 681 1188 683 1190 685 1192 686 1194 686 1197 687 1200 687 1202 687 1204 687 1207 687 1209 688 1211 688 1213 688 1214 688 1216 687 1218Z"/>
<path d="M676 1220 676 1221 676 1222 676 1223 676 1224 675 1225 675 1226 674 1227 674 1228 673 1229 673 1230 672 1230 671 1231 671 1232 670 1233 670 1234 669 1235 668 1237 667 1238 666 1239 665 1240 664 1241 663 1242 661 1242 660 1243 658 1244 657 1245 655 1245 653 1245 651 1245 650 1244 648 1244 647 1243 645 1242 644 1241 643 1239 643 1237 643 1235 642 1234 642 1232 642 1230 643 1229 643 1227 643 1226 643 1224 644 1223 644 1222 644 1221 644 1220 645 1219 645 1218 645 1217 645 1216 645 1215 646 1214 646 1213 646 1212 647 1211 647 1210 648 1210 649 1209 649 1208 650 1207 651 1206 652 1205 653 1204 654 1203 655 1201 656 1200 657 1199 659 1198 660 1197 662 1197 663 1197 665 1196 667 1195 669 1195 671 1195 672 1195 674 1196 675 1198 676 1199 677 1201 678 1202 678 1204 678 1206 677 1208 677 1210 677 1212 677 1213 677 1214 677 1215 677 1217 677 1218 676 1219Z"/>
</g>
</g>
<ellipse cx="295.6" cy="686.4" rx="4.4" ry="2.5" fill="#000"/>
</g>
<g clip-path="url(#pc23)">

<g clip-path="url(#lc24)"><g filter="url(#bl)" transform="scale(.5)">
<path d="M602 1236 602 1237 602 1238 602 1239 602 1240 601 1242 601 1243 601 1244 600 1245 600 1246 599 1247 599 1248 598 1249 597 1250 596 1251 595 1252 593 1253 592 1254 591 1254 590 1255 589 1255 588 1256 586 1256 585 1256 584 1256 582 1256 581 1255 580 1255 579 1254 578 1254 577 1253 575 1252 574 1251 573 1250 572 1249 571 1248 571 1247 570 1246 570 1245 569 1244 569 1243 569 1242 568 1240 568 1239 568 1238 568 1237 568 1236 568 1235 568 1234 568 1233 568 1232 569 1230 569 1229 569 1228 570 1227 570 1226 571 1225 571 1224 572 1223 573 1222 574 1221 575 1220 577 1219 578 1218 579 1218 580 1217 581 1217 582 1216 584 1216 585 1216 586 1216 588 1216 589 1217 590 1217 591 1218 592 1218 593 1219 595 1220 596 1221 597 1222 598 1223 599 1224 599 1225 600 1226 600 1227 601 1228 601 1229 601 1230 602 1232 602 1233 602 1234 602 1235Z" fill="#818181"/>
<path d="M599 1236 599 1237 598 1238 598 1239 598 1240 598 1241 597 1242 597 1243 597 1244 596 1245 595 1246 595 1247 594 1248 593 1248 593 1249 592 1250 591 1250 590 1251 589 1251 588 1251 587 1252 586 1252 585 1252 584 1252 583 1252 582 1251 581 1251 580 1251 579 1250 578 1250 577 1249 577 1248 576 1248 575 1247 575 1246 574 1245 573 1244 573 1243 573 1242 572 1241 572 1240 572 1239 572 1238 571 1237 571 1236 571 1235 572 1234 572 1233 572 1232 572 1231 573 1230 573 1229 573 1228 574 1227 575 1226 575 1225 576 1224 577 1224 577 1223 578 1222 579 1222 580 1221 581 1221 582 1221 583 1220 584 1220 585 1220 586 1220 587 1220 588 1221 589 1221 590 1221 591 1222 592 1222 593 1223 593 1224 594 1224 595 1225 595 1226 596 1227 597 1228 597 1229 597 1230 598 1231 598 1232 598 1233 598 1234 599 1235Z" fill="#606060"/>
<path d="M595 1236 595 1237 595 1238 595 1239 595 1240 594 1241 594 1242 594 1243 593 1243 593 1244 592 1244 592 1245 591 1245 591 1246 590 1246 589 1247 588 1247 587 1248 586 1248 585 1248 584 1248 583 1248 582 1247 581 1247 580 1246 579 1246 579 1245 578 1245 578 1244 577 1244 577 1243 576 1243 576 1242 576 1241 575 1240 575 1239 575 1238 575 1237 575 1236 575 1235 575 1234 575 1233 575 1232 576 1231 576 1230 576 1229 577 1229 577 1228 578 1228 578 1227 579 1227 579 1226 580 1226 581 1225 582 1225 583 1224 584 1224 585 1224 586 1224 587 1224 588 1225 589 1225 590 1226 591 1226 591 1227 592 1227 592 1228 593 1228 593 1229 594 1229 594 1230 594 1231 595 1232 595 1233 595 1234 595 1235Z" fill="#484848"/>
<path d="M592 1236 592 1237 592 1238 591 1239 591 1240 590 1241 590 1242 589 1242 589 1243 588 1243 587 1244 586 1244 585 1244 584 1244 583 1244 582 1243 581 1243 581 1242 580 1242 580 1241 579 1240 579 1239 578 1238 578 1237 578 1236 578 1235 578 1234 579 1233 579 1232 580 1231 580 1230 581 1230 581 1229 582 1229 583 1228 584 1228 585 1228 586 1228 587 1228 588 1229 589 1229 589 1230 590 1230 590 1231 591 1232 591 1233 592 1234 592 1235 592 1236Z" fill="#363636"/>
<path d="M588 1236 588 1237 588 1238 588 1239 587 1239 586 1240 585 1240 584 1240 583 1239 582 1239 582 1238 582 1237 582 1236 582 1235 582 1234 582 1233 583 1233 584 1232 585 1232 586 1232 587 1233 588 1233 588 1234 588 1235 588 1236Z" fill="#252525"/>
</g>
<g fill="none" stroke="#151515" stroke-width="2" transform="scale(.5)">
</g>
<g fill="none" stroke="#f6f6f6" stroke-width="2.2" transform="scale(.5)">
</g>
</g>
<path transform="scale(.5)" d="M603 1236 603 1237 603 1238 603 1240 603 1241 603 1242 602 1243 602 1244 601 1246 601 1247 600 1248 600 1249 599 1250 598 1251 597 1252 596 1253 595 1254 594 1255 593 1255 592 1256 590 1256 589 1257 588 1257 586 1257 585 1257 584 1257 582 1257 581 1257 580 1256 578 1256 577 1255 576 1255 575 1254 574 1253 573 1252 572 1251 571 1250 570 1249 570 1248 569 1247 569 1246 568 1244 568 1243 567 1242 567 1241 567 1240 567 1238 567 1237 567 1236 567 1235 567 1234 567 1232 567 1231 567 1230 568 1229 568 1228 569 1226 569 1225 570 1224 570 1223 571 1222 572 1221 573 1220 574 1219 575 1218 576 1217 577 1217 578 1216 580 1216 581 1215 582 1215 584 1215 585 1215 586 1215 588 1215 589 1215 590 1216 592 1216 593 1217 594 1217 595 1218 596 1219 597 1220 598 1221 599 1222 600 1223 600 1224 601 1225 601 1226 602 1228 602 1229 603 1230 603 1231 603 1232 603 1234 603 1235Z" fill="none" stroke="#222" stroke-width="2"/>
<path transform="scale(.5)" d="M602 1236 602 1237 602 1238 602 1239 602 1240 601 1242 601 1243 601 1244 600 1245 600 1246 599 1247 599 1248 598 1249 597 1250 596 1251 595 1252 593 1253 592 1254 591 1254 590 1255 589 1255 588 1256 586 1256 585 1256 584 1256 582 1256 581 1255 580 1255 579 1254 578 1254 577 1253 575 1252 574 1251 573 1250 572 1249 571 1248 571 1247 570 1246 570 1245 569 1244 569 1243 569 1242 568 1240 568 1239 568 1238 568 1237 568 1236 568 1235 568 1234 568 1233 568 1232 569 1230 569 1229 569 1228 570 1227 570 1226 571 1225 571 1224 572 1223 573 1222 574 1221 575 1220 577 1219 578 1218 579 1218 580 1217 581 1217 582 1216 584 1216 585 1216 586 1216 588 1216 589 1217 590 1217 591 1218 592 1218 593 1219 595 1220 596 1221 597 1222 598 1223 599 1224 599 1225 600 1226 600 1227 601 1228 601 1229 601 1230 602 1232 602 1233 602 1234 602 1235Z" fill="none" stroke="#f4f4f4" stroke-width="2"/>

</g>
<path d="M295.4 531.7L482.5 531.7" stroke="#333" stroke-width="1.1"/>
<path d="M482.5 531.7L482.5 717.8" stroke="#555" stroke-width="1.1"/>
<path d="M295.4 531.2L295.4 723.3" stroke="#000" stroke-width="1.3"/>
<path d="M289.9 717.8L482.5 717.8" stroke="#000" stroke-width="1.3"/>
<path d="M290.4 717.8h5M292.4 703.8h3M292.4 695.6h3M292.4 689.8h3M292.4 685.3h3M292.4 681.6h3M292.4 678.5h3M292.4 675.8h3M292.4 673.4h3M290.4 671.3h5M292.4 657.3h3M292.4 649.1h3M292.4 643.3h3M292.4 638.8h3M292.4 635.1h3M292.4 632h3M292.4 629.3h3M292.4 626.9h3M290.4 624.8h5M292.4 610.7h3M292.4 602.6h3M292.4 596.7h3M292.4 592.2h3M292.4 588.5h3M292.4 585.4h3M292.4 582.7h3M292.4 580.4h3M290.4 578.2h5M292.4 564.2h3M292.4 556h3M292.4 550.2h3M292.4 545.7h3M292.4 542h3M292.4 538.9h3M292.4 536.2h3M292.4 533.8h3M290.4 531.7h5M309.7 717.8v3M317.9 717.8v3M323.7 717.8v3M328.2 717.8v3M331.9 717.8v3M335 717.8v3M337.7 717.8v3M340.1 717.8v3M342.2 717.8v5M356.3 717.8v3M364.4 717.8v3M370.3 717.8v3M374.8 717.8v3M378.5 717.8v3M381.6 717.8v3M384.3 717.8v3M386.7 717.8v3M388.8 717.8v5M402.8 717.8v3M411 717.8v3M416.8 717.8v3M421.3 717.8v3M425 717.8v3M428.1 717.8v3M430.8 717.8v3M433.2 717.8v3M435.3 717.8v5M449.3 717.8v3M457.5 717.8v3M463.3 717.8v3M467.9 717.8v3M471.5 717.8v3M474.7 717.8v3M477.4 717.8v3M479.7 717.8v3M481.9 717.8v5" stroke="#111" stroke-width="1"/>
<text x="282.2" y="717.7" font-size="9.1" text-anchor="end" fill="#262626">10</text>
<text x="282.8" y="710.5" font-size="8.0" fill="#262626">0</text>
<text x="282.2" y="674.6" font-size="9.1" text-anchor="end" fill="#262626">10</text>
<text x="282.8" y="667.4" font-size="8.0" fill="#262626">1</text>
<text x="282.2" y="628.2" font-size="9.1" text-anchor="end" fill="#262626">10</text>
<text x="282.8" y="621" font-size="8.0" fill="#262626">2</text>
<text x="282.2" y="582.7" font-size="9.1" text-anchor="end" fill="#262626">10</text>
<text x="282.8" y="575.5" font-size="8.0" fill="#262626">3</text>
<text x="282.2" y="548.2" font-size="9.1" text-anchor="end" fill="#262626">10</text>
<text x="282.8" y="541" font-size="8.0" fill="#262626">4</text>
<text x="299" y="736.7" font-size="9.1" fill="#262626">10</text>
<text x="310" y="730.9" font-size="8.2" fill="#262626">0</text>
<text x="338.3" y="736.7" font-size="9.1" fill="#262626">10</text>
<text x="349.3" y="730.9" font-size="8.2" fill="#262626">1</text>
<text x="385.1" y="736.7" font-size="9.1" fill="#262626">10</text>
<text x="396.1" y="730.9" font-size="8.2" fill="#262626">2</text>
<text x="431.2" y="736.7" font-size="9.1" fill="#262626">10</text>
<text x="442.2" y="730.9" font-size="8.2" fill="#262626">3</text>
<text x="476.7" y="736.7" font-size="9.1" fill="#262626">10</text>
<text x="487.7" y="730.9" font-size="8.2" fill="#262626">4</text>
<path d="M295.4 656L382.6 612V531.7" fill="none" stroke="#111" stroke-width="1.1"/>
<text x="470.6" y="551.6" font-size="12.1" text-anchor="end" fill="#1a1a1a">96.4%</text>
<text transform="translate(264.5,625) rotate(-90)" font-size="12.6" text-anchor="middle" fill="#111">RL26A-YTM9</text>
<text x="259.8" y="530.4" font-size="25" fill="#000" font-weight="bold">F</text>
<path d="M49.6 779L238 779" stroke="#333" stroke-width="1.1"/>
<path d="M238 779L238 961.3" stroke="#555" stroke-width="1.1"/>
<path d="M49.6 778.5L49.6 966.8" stroke="#000" stroke-width="1.3"/>
<path d="M44.1 961.3L238 961.3" stroke="#000" stroke-width="1.3"/>
<path d="M44.6 961.3h5M46.6 952.7h3M46.6 944h3M46.6 935.4h3M44.6 926.8h5M46.6 918.2h3M46.6 909.5h3M46.6 900.9h3M44.6 892.3h5M46.6 883.7h3M46.6 875h3M46.6 866.4h3M44.6 857.8h5M46.6 849.2h3M46.6 840.5h3M46.6 831.9h3M44.6 823.3h5M46.6 814.7h3M46.6 806h3M46.6 797.4h3M44.6 788.8h5M63 961.3v3M71.3 961.3v3M77.2 961.3v3M81.8 961.3v3M85.6 961.3v3M88.7 961.3v3M91.5 961.3v3M93.9 961.3v3M96.1 961.3v5M110.3 961.3v3M118.6 961.3v3M124.5 961.3v3M129.1 961.3v3M132.8 961.3v3M136 961.3v3M138.7 961.3v3M141.1 961.3v3M143.3 961.3v5M157.5 961.3v3M165.8 961.3v3M171.7 961.3v3M176.3 961.3v3M180.1 961.3v3M183.2 961.3v3M186 961.3v3M188.4 961.3v3M190.6 961.3v5M204.8 961.3v3M213.1 961.3v3M219 961.3v3M223.6 961.3v3M227.3 961.3v3M230.5 961.3v3M233.2 961.3v3M235.6 961.3v3M237.8 961.3v5" stroke="#111" stroke-width="1"/>
<text x="42.1" y="964.5" font-size="8.6" text-anchor="end" fill="#262626" letter-spacing="0.7">0</text>
<text x="42.1" y="930" font-size="8.6" text-anchor="end" fill="#262626" letter-spacing="0.7">20</text>
<text x="42.1" y="895.5" font-size="8.6" text-anchor="end" fill="#262626" letter-spacing="0.7">40</text>
<text x="42.1" y="861" font-size="8.6" text-anchor="end" fill="#262626" letter-spacing="0.7">60</text>
<text x="42.1" y="826.5" font-size="8.6" text-anchor="end" fill="#262626" letter-spacing="0.7">80</text>
<text x="42.1" y="792" font-size="8.6" text-anchor="end" fill="#262626" letter-spacing="0.7">100</text>
<text x="52.3" y="979.9" font-size="8.6" fill="#262626">10</text>
<text x="62.6" y="973.9" font-size="7.4" fill="#262626">0</text>
<text x="92.1" y="979.9" font-size="8.6" fill="#262626">10</text>
<text x="102.4" y="973.9" font-size="7.4" fill="#262626">1</text>
<text x="138.3" y="979.9" font-size="8.6" fill="#262626">10</text>
<text x="148.6" y="973.9" font-size="7.4" fill="#262626">2</text>
<text x="185.5" y="979.9" font-size="8.6" fill="#262626">10</text>
<text x="195.8" y="973.9" font-size="7.4" fill="#262626">3</text>
<text x="230.3" y="979.9" font-size="8.6" fill="#262626">10</text>
<text x="240.6" y="973.9" font-size="7.4" fill="#262626">4</text>
<text x="142.8" y="994.8" font-size="12.4" text-anchor="middle" fill="#111">E24</text>
<text transform="translate(19.1,873.5) rotate(-90)" font-size="12.6" text-anchor="middle" fill="#111">% of Max</text>
<text x="12.2" y="772.6" font-size="25" fill="#000" font-weight="bold">G</text>
<g clip-path="url(#clpG)">
<path d="M49.6 961C50 960.5 50.9 958.9 52 958C53.1 957.1 54.8 956.2 56 955.5C57.2 954.8 58 954.7 59.4 953.6C60.8 952.5 62.2 950.4 64.2 948.8C66.2 947.2 69 946.4 71.4 944C73.8 941.6 76.6 937.6 78.6 934.4C80.6 931.2 81.8 928 83.4 924.8C85 921.6 87 916.4 88.2 915.2C89.4 914 89.8 918 90.6 917.6C91.4 917.2 92.2 915.6 93 912.8C93.8 910 94.6 905.6 95.4 900.8C96.2 896 97 889.2 97.8 884C98.6 878.8 99.6 872.5 100.2 869.6C100.8 866.7 100.8 865.7 101.4 866.5C102 867.3 103 871.5 103.8 874.4C104.6 877.3 105.2 881.6 106.2 884C107.2 886.4 108.8 886.4 109.8 888.8C110.8 891.2 111.4 895.2 112.2 898.4C113 901.6 113.8 905.6 114.6 908C115.4 910.4 115.8 911.6 117 912.8C118.2 914 120.2 914 121.8 915.2C123.4 916.4 125.2 917.2 126.6 920C128 922.8 129 928.4 130.2 932C131.4 935.6 132.4 938.4 133.8 941.6C135.2 944.8 137.2 948.4 138.6 951.2C140 954 141 956.9 142.2 958.4C143.4 959.9 144.8 959.8 145.8 960.3C146.8 960.8 147.6 961.1 148 961.3L148 962L49 962Z" fill="#b6b6b6"/>
<path d="M50 954.8C51.6 954.8 56.6 955 59.4 954.8C62.2 954.6 64.6 954.4 66.6 953.6C68.6 952.8 69.8 951.2 71.4 950C73 948.8 74.6 946.6 76.2 946.4C77.8 946.2 79.4 949.6 81 948.8C82.6 948 84.2 944.8 85.8 941.6C87.4 938.4 89 934.8 90.6 929.6C92.2 924.4 94 916.4 95.4 910.4C96.8 904.4 97.8 898.4 99 893.6C100.2 888.8 101.4 884.8 102.6 881.6C103.8 878.4 105 876.2 106.2 874.4C107.4 872.6 108.8 870.4 109.8 870.8C110.8 871.2 111.4 873.8 112.2 876.8C113 879.8 113.6 887.4 114.6 888.8C115.6 890.2 117 886.2 118.2 885.2C119.4 884.2 120.6 881.8 121.8 882.8C123 883.8 124.6 886.6 125.4 891.2C126.2 895.8 126 904.8 126.6 910.4C127.2 916 127.8 921.4 129 924.8C130.2 928.2 132.4 928.4 133.8 930.8C135.2 933.2 136.2 935.4 137.4 939.2C138.6 943 139.6 950.4 141 953.6C142.4 956.8 143.8 957.4 145.8 958.4C147.8 959.4 150.6 959.6 153 959.6C155.4 959.6 158 958.4 160.2 958.4C162.4 958.4 162.7 959.3 166 959.6C169.3 959.9 168 960.1 180 960.2C192 960.3 228.3 960.4 238 960.4" fill="none" stroke="#111" stroke-width="1.4" stroke-dasharray="1.4 1.4"/>
<path d="M49.6 960.3C53 960.2 64.8 960.1 70 960C75.2 959.9 78 959.9 81 959.6C84 959.3 85.8 959 88.2 958.4C90.6 957.8 93 957.6 95.4 956C97.8 954.4 100.6 952.4 102.6 948.8C104.6 945.2 105.8 941.2 107.4 934.4C109 927.6 110.8 918.4 112.2 908C113.6 897.6 114.6 882 115.8 872C117 862 118.4 853 119.4 848C120.4 843 121 843.6 121.8 842C122.6 840.4 123.5 841.8 124.2 838.4C124.9 835 125.6 825 126.1 821.6C126.6 818.2 126.8 817.2 127.3 818C127.8 818.8 128.3 821.4 129 826.4C129.7 831.4 130.4 842.8 131.4 848C132.4 853.2 134 852.8 135 857.6C136 862.4 136.6 870.8 137.4 876.8C138.2 882.8 139 890.4 139.8 893.6C140.6 896.8 141.2 893.6 142.2 896C143.2 898.4 144.7 902.5 145.8 908C146.9 913.5 147.8 924.3 149 929C150.2 933.7 151.7 933.2 153 936C154.3 938.8 155.5 943.3 157 946C158.5 948.7 160.5 950.7 162 952C163.5 953.3 164.2 952.8 166 953.6C167.8 954.4 171 956.3 173 957C175 957.7 176.2 958 178 957.6C179.8 957.2 182 954.5 184 954.4C186 954.3 187.7 956.2 190 957C192.3 957.8 195.3 958.5 198 959C200.7 959.5 203.3 959.8 206 960C208.7 960.2 208.7 960.3 214 960.4C219.3 960.5 234 960.6 238 960.6" fill="none" stroke="#111" stroke-width="1.2"/>
</g>
<path d="M49.6 961.3L238 961.3" stroke="#000" stroke-width="1.3"/>
<path d="M49.6 778.5L49.6 966.8" stroke="#000" stroke-width="1.3"/>
</svg>
</body></html>
